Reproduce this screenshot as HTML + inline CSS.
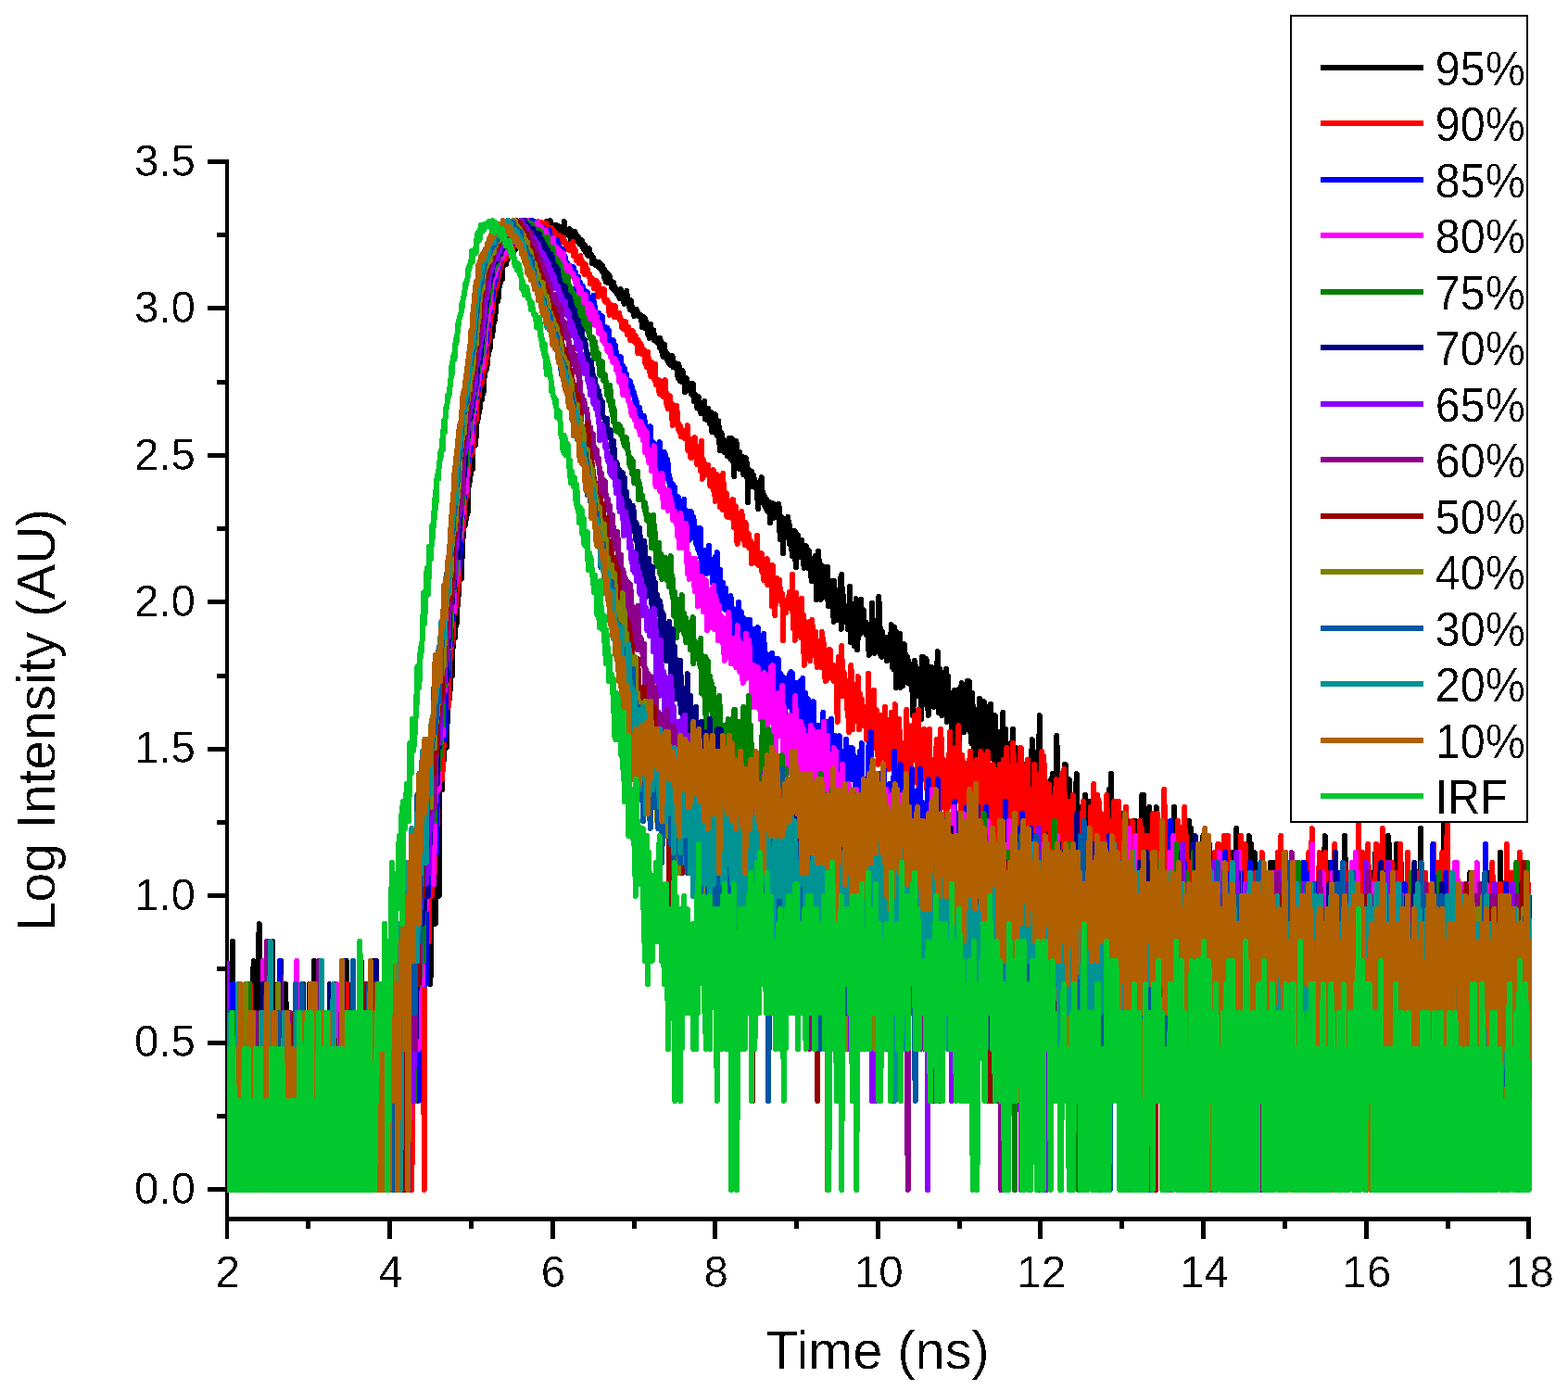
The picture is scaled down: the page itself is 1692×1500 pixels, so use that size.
<!DOCTYPE html>
<html><head><meta charset="utf-8"><title>Log Intensity vs Time</title>
<style>html,body{margin:0;padding:0;background:#fff;}svg{display:block;}</style></head>
<body><svg xmlns="http://www.w3.org/2000/svg" width="1692" height="1500" viewBox="0 0 1692 1500">
<defs><filter id="bin" x="-5%" y="-5%" width="110%" height="110%"><feComponentTransfer><feFuncA type="discrete" tableValues="0 0 1"/></feComponentTransfer></filter></defs>
<rect width="1692" height="1500" fill="#fff"/>
<rect x="243" y="172" width="4" height="1165" fill="#000"/>
<rect x="243" y="1313" width="1409" height="5" fill="#000"/>
<rect x="224" y="1281" width="20" height="5" fill="#000"/>
<text x="211" y="1298.7" text-anchor="end" font-size="47.5" font-family="Liberation Sans, Arial, sans-serif" filter="url(#bin)">0.0</text>
<rect x="224" y="1123" width="20" height="5" fill="#000"/>
<text x="211" y="1140.3" text-anchor="end" font-size="47.5" font-family="Liberation Sans, Arial, sans-serif" filter="url(#bin)">0.5</text>
<rect x="224" y="964" width="20" height="5" fill="#000"/>
<text x="211" y="981.8" text-anchor="end" font-size="47.5" font-family="Liberation Sans, Arial, sans-serif" filter="url(#bin)">1.0</text>
<rect x="224" y="806" width="20" height="5" fill="#000"/>
<text x="211" y="823.4" text-anchor="end" font-size="47.5" font-family="Liberation Sans, Arial, sans-serif" filter="url(#bin)">1.5</text>
<rect x="224" y="647" width="20" height="5" fill="#000"/>
<text x="211" y="665.0" text-anchor="end" font-size="47.5" font-family="Liberation Sans, Arial, sans-serif" filter="url(#bin)">2.0</text>
<rect x="224" y="489" width="20" height="5" fill="#000"/>
<text x="211" y="506.6" text-anchor="end" font-size="47.5" font-family="Liberation Sans, Arial, sans-serif" filter="url(#bin)">2.5</text>
<rect x="224" y="330" width="20" height="5" fill="#000"/>
<text x="211" y="348.1" text-anchor="end" font-size="47.5" font-family="Liberation Sans, Arial, sans-serif" filter="url(#bin)">3.0</text>
<rect x="224" y="172" width="20" height="5" fill="#000"/>
<text x="211" y="189.7" text-anchor="end" font-size="47.5" font-family="Liberation Sans, Arial, sans-serif" filter="url(#bin)">3.5</text>
<rect x="234" y="1202" width="10" height="5" fill="#000"/>
<rect x="234" y="1043" width="10" height="5" fill="#000"/>
<rect x="234" y="885" width="10" height="5" fill="#000"/>
<rect x="234" y="727" width="10" height="5" fill="#000"/>
<rect x="234" y="568" width="10" height="5" fill="#000"/>
<rect x="234" y="410" width="10" height="5" fill="#000"/>
<rect x="234" y="251" width="10" height="5" fill="#000"/>
<text x="245.8" y="1388.5" text-anchor="middle" font-size="47.5" font-family="Liberation Sans, Arial, sans-serif" filter="url(#bin)">2</text>
<rect x="418" y="1316" width="5" height="21" fill="#000"/>
<text x="421.4" y="1388.5" text-anchor="middle" font-size="47.5" font-family="Liberation Sans, Arial, sans-serif" filter="url(#bin)">4</text>
<rect x="594" y="1316" width="5" height="21" fill="#000"/>
<text x="597.0" y="1388.5" text-anchor="middle" font-size="47.5" font-family="Liberation Sans, Arial, sans-serif" filter="url(#bin)">6</text>
<rect x="769" y="1316" width="5" height="21" fill="#000"/>
<text x="772.6" y="1388.5" text-anchor="middle" font-size="47.5" font-family="Liberation Sans, Arial, sans-serif" filter="url(#bin)">8</text>
<rect x="945" y="1316" width="5" height="21" fill="#000"/>
<text x="948.2" y="1388.5" text-anchor="middle" font-size="47.5" font-family="Liberation Sans, Arial, sans-serif" filter="url(#bin)">10</text>
<rect x="1120" y="1316" width="5" height="21" fill="#000"/>
<text x="1123.8" y="1388.5" text-anchor="middle" font-size="47.5" font-family="Liberation Sans, Arial, sans-serif" filter="url(#bin)">12</text>
<rect x="1296" y="1316" width="5" height="21" fill="#000"/>
<text x="1299.4" y="1388.5" text-anchor="middle" font-size="47.5" font-family="Liberation Sans, Arial, sans-serif" filter="url(#bin)">14</text>
<rect x="1472" y="1316" width="5" height="21" fill="#000"/>
<text x="1475.0" y="1388.5" text-anchor="middle" font-size="47.5" font-family="Liberation Sans, Arial, sans-serif" filter="url(#bin)">16</text>
<rect x="1647" y="1316" width="5" height="21" fill="#000"/>
<text x="1650.6" y="1388.5" text-anchor="middle" font-size="47.5" font-family="Liberation Sans, Arial, sans-serif" filter="url(#bin)">18</text>
<rect x="330" y="1316" width="5" height="10" fill="#000"/>
<rect x="506" y="1316" width="5" height="10" fill="#000"/>
<rect x="682" y="1316" width="5" height="10" fill="#000"/>
<rect x="857" y="1316" width="5" height="10" fill="#000"/>
<rect x="1033" y="1316" width="5" height="10" fill="#000"/>
<rect x="1208" y="1316" width="5" height="10" fill="#000"/>
<rect x="1384" y="1316" width="5" height="10" fill="#000"/>
<rect x="1560" y="1316" width="5" height="10" fill="#000"/>
<text x="947" y="1477" text-anchor="middle" font-size="57.7" font-family="Liberation Sans, Arial, sans-serif" filter="url(#bin)">Time (ns)</text>
<text transform="translate(59,777) rotate(-90)" text-anchor="middle" font-size="57" font-family="Liberation Sans, Arial, sans-serif" filter="url(#bin)">Log Intensity (AU)</text>
<defs><clipPath id="pc"><rect x="245" y="0" width="1420" height="1300"/></clipPath></defs>
<g clip-path="url(#pc)"><g transform="translate(245,0) scale(0.666667,1)" fill="none" stroke-width="6" stroke-linejoin="round" shape-rendering="crispEdges">
<path vector-effect="non-scaling-stroke" d="M0 1284l1-152 1 56 1-95 1 39 1 56 1 96 1-152 1 152 1-268 1 116 1 0 1 152 1 0 1-96 1 0 1 96 1-96 1 96 1 0 1-96 1 0 1-56 1 56 1 96 1-152 1 56 1-56 1 152 1-152 1 0 1 152 1-96 1-56 1 152 1 0 1-152 1 56 1 0 1 0 1 96 1-96 1-126 1-25 1 95 1 152 1 0 1 0 1-191 1 95 1 96 1-247 1-40 1 287 1 0 1 0 1 0 1-191 1 95 1 96 1-152 1 0 1 152 1 0 1 0 1 0 1-152 1 152 1-96 1-95 1-56 1 151 1 0 1 0 1-172 1 172 1-56 1 56 1 96 1-191 1 191 1-191 1 95 1 96 1-96 1 0 1 96 1-247 1 247 1-96 1 0 1 0 1 0 1-56 1-39 1-31 1 70 1 152 1-96 1 0 1-56 1 56 1 96 1-96 1-56 1 152 1 0 1-152 1 152 1 0 1-96 1-56 1 56 1 96 1-191 1 39 1 0 1 152 1 0 1 0 1-96 1-95 1 191 1-222 1 70 1 152 1-96 1-95 1 191 1 0 1-96 1 0 1 96 1-222 1 126 1-56 1 152 1-152 1-39 1 39 1 56 1-151 1 151 1 0 1-56 1-39 1 95 1 0 1 0 1-95 1 191 1-96 1 0 1-56 1 152 1-191 1 191 1-191 1 39 1 152 1 0 1-191 1 95 1 96 1-152 1 56 1-56 1 56 1-56 1 56 1 96 1-152 1 0 1 0 1 0 1 152 1 0 1-96 1-56 1 152 1-152 1 152 1-96 1 0 1 96 1 0 1-222 1 126 1 96 1-152 1 152 1-96 1 96 1-247 1 247 1 0 1-96 1-56 1 56 1-56 1 152 1-96 1-126 1 126 1-56 1 56 1 96 1 0 1-152 1 152 1 0 1-152 1 152 1-152 1-39 1 191 1 0 1-247 1 95 1 0 1 56 1-95 1 191 1 0 1-152 1 0 1 152 1 0 1 0 1-96 1 0 1 0 1-56 1 56 1 0 1 0 1 0 1 0 1-151 1 151 1-56 1-39 1 39 1-39 1 191 1-96 1 96 1-152 1-39 1 191 1-96 1-126 1 126 1-56 1 152 1-152 1 152 1 0 1-152 1 56 1-56 1 0 1-70 1 126 1-56 1-39 1 191 1-191 1 191 1-191 1 0 1-31 1 222 1-191 1 95 1-56 1 0 1-39 1 191 1-152 1 56 1 96 1-191 1 39 1 152 1-191 1 191 1-152 1 152 1-96 1-126 1-25 1 247 1-268 1-19 1 65 1 0 1 31 1 39 1 56 1 0 1-56 1 56 1 0 1-95 1 0 1 95 1-56 1 0 1-116 1 0 1 46 1-25 1-21 1 46 1-81 1 35 1 0 1-62 1 178 1-95 1-40 1-30 1 30 1-16 1 0 1-14 1 0 1 0 1 95 1-25 1-135 1-24 1 103 1-14 1-47 1-49 1 126 1-95 1-37 1 21 1-28 1 13 1 96 1-156 1 14 1-38 1 38 1 27 1-37 1-13 1 18 1-22 1-4 1-7 1 20 1-44 1 16 1-52 1 33 1-15 1 0 1-50 1 18 1 17 1-27 1-10 1-24 1-2 1 21 1-17 1 4 1-6 1-18 1-27 1 18 1-18 1-3 1-1 1 5 1-18 1-15 1-14 1-5 1-12 1 5 1 0 1-14 1-12 1 15 1-3 1-38 1 10 1-10 1-3 1 1 1-12 1 7 1-22 1-15 1-1 1 2 1 10 1-11 1-14 1 0 1-4 1-9 1 3 1-5 1-8 1-3 1-9 1 10 1-14 1 6 1-13 1-7 1-5 1 1 1 0 1-5 1-7 1-7 1-5 1 3 1-5 1-13 1 4 1-1 1-5 1-6 1-8 1 2 1-4 1-11 1-8 1-5 1 8 1-4 1-9 1-8 1-5 1 5 1-3 1 0 1-12 1-7 1 4 1-6 1 3 1-2 1 3 1-7 1 1 1 0 1-5 1-3 1 2 1-5 1 8 1-10 1 0 1 8 1-9 1-6 1 6 1 4 1-9 1 7 1-3 1 1 1-6 1 7 1-4 1-2 1 4 1-1 1-8 1-1 1 0 1 2 1 1 1 2 1-7 1-4 1 5 1-3 1 5 1-4 1-3 1 1 1 3 1 1 1-5 1-2 1 1 1-2 1 3 1 0 1-3 1-1 1 3 1-3 1-2 1 0 1 2 1 0 1-2 1 5 1-1 1 3 1-4 1 7 1-8 1 3 1 1 1-9 1 3 1 3 1-3 1 5 1-8 1-1 1 1 1 9 1-1 1-3 1 4 1-2 1-3 1 0 1 1 1 3 1-4 1 4 1-3 1 3 1 3 1 2 1-7 1 4 1-2 1 2 1 0 1-1 1-9 1 14 1 0 1-5 1 0 1 4 1-1 1 1 1 0 1-5 1 12 1-1 1 1 1-2 1-2 1-2 1 3 1-6 1 2 1 6 1 2 1-1 1-4 1 4 1 4 1 0 1 0 1 1 1-5 1 7 1-2 1 0 1 6 1-6 1 8 1-4 1 2 1 5 1-1 1 2 1-8 1 3 1 5 1-1 1 0 1 9 1-7 1 3 1 4 1-2 1 0 1 4 1-3 1 0 1 3 1 2 1-2 1-3 1 4 1 4 1 0 1-5 1 8 1 0 1-4 1 10 1-4 1 8 1-10 1 4 1 5 1 2 1-9 1 8 1-5 1 7 1 0 1 5 1-2 1 3 1-7 1 8 1-2 1 3 1-2 1 2 1 4 1-1 1-1 1 5 1 1 1-10 1 9 1-4 1-2 1 2 1 9 1 2 1-6 1-4 1-1 1-3 1 12 1 0 1 0 1 4 1 4 1-1 1-9 1 7 1 5 1 0 1 2 1 3 1-1 1-6 1 4 1-4 1 2 1 4 1 1 1-1 1 1 1 1 1-2 1 6 1 7 1-2 1-9 1 9 1 3 1-10 1 6 1 3 1-3 1 10 1-3 1 6 1 2 1-4 1-11 1 11 1-1 1-2 1-2 1 11 1-6 1 5 1-1 1 4 1-2 1-1 1 4 1-3 1 8 1-10 1 5 1-1 1 11 1 3 1 2 1-1 1-12 1 10 1-3 1 3 1 4 1 3 1-7 1 10 1-1 1-2 1 5 1-1 1-9 1 1 1 11 1-6 1 2 1 5 1-5 1 2 1 0 1 8 1 6 1-15 1 5 1 13 1-10 1 8 1 3 1-12 1 2 1 6 1 0 1 15 1-10 1 2 1-7 1 13 1-4 1-1 1-2 1 2 1 4 1 5 1-11 1 12 1-12 1 6 1 13 1-4 1-3 1 2 1 5 1 7 1-6 1-6 1 10 1 4 1 2 1 2 1-9 1 8 1-2 1-4 1 7 1-13 1 19 1-9 1 0 1 10 1 0 1-12 1 6 1 10 1-1 1-3 1-8 1 21 1-10 1-5 1 5 1 7 1-16 1 12 1 8 1 3 1-12 1-4 1 7 1 16 1 9 1-20 1 6 1-4 1 5 1 2 1 3 1 10 1-1 1-2 1-9 1 2 1 14 1-4 1-6 1-9 1 12 1 10 1-10 1-12 1 4 1 16 1 9 1 12 1-31 1 15 1-22 1 6 1 17 1-6 1 6 1 7 1-18 1 16 1 0 1-11 1 11 1-11 1 19 1-3 1-3 1-5 1-7 1 21 1-15 1 42 1-36 1 5 1 12 1-4 1 3 1-13 1 9 1 7 1-12 1 11 1-7 1 9 1-3 1-2 1 17 1-5 1 16 1-25 1 18 1-13 1-7 1-7 1 12 1 9 1-2 1 10 1-9 1 3 1 10 1-10 1 9 1 5 1-8 1 1 1-3 1 22 1-18 1 12 1-11 1-4 1 10 1 6 1-15 1 11 1-6 1 9 1-6 1 0 1 1 1-9 1 8 1 30 1-1 1-3 1-20 1 6 1 33 1-20 1 0 1-13 1 10 1-4 1 3 1-4 1-11 1 12 1 17 1-20 1 10 1 16 1-8 1 15 1-11 1-7 1-6 1-3 1 30 1 9 1-23 1-4 1-8 1 16 1 8 1-15 1 3 1 5 1-11 1 19 1-6 1 7 1 10 1-16 1-6 1-2 1 12 1 6 1 6 1-10 1-9 1 8 1 9 1 4 1 12 1-21 1 9 1 3 1-6 1 4 1-16 1 24 1 23 1-29 1 14 1-37 1 11 1 0 1 15 1 26 1-37 1 8 1 22 1 3 1-4 1-6 1-15 1-6 1 32 1 2 1-34 1 42 1-19 1-3 1 18 1-23 1 27 1-17 1 9 1 9 1 16 1-44 1 28 1-2 1 4 1 1 1-8 1 19 1-32 1 30 1-14 1-29 1 55 1-59 1 47 1-25 1 5 1 14 1-4 1 14 1-13 1 2 1 7 1 12 1-13 1-5 1-28 1 60 1-29 1-7 1 17 1-2 1-11 1 36 1-43 1 3 1-11 1 28 1 27 1-13 1-6 1-29 1 4 1 27 1-37 1 16 1 11 1 0 1-16 1 22 1-6 1-3 1 13 1-12 1 2 1 12 1 5 1 16 1-33 1 31 1-17 1-6 1-31 1 21 1 12 1 19 1 2 1-12 1-2 1-20 1 8 1-8 1 30 1-57 1 17 1 19 1 27 1-23 1 25 1-27 1 17 1-8 1 16 1-2 1-4 1-13 1 25 1-8 1-10 1 4 1 2 1 0 1 10 1-37 1 23 1 23 1-13 1 15 1-45 1 16 1 23 1 26 1-60 1 17 1 2 1 10 1 14 1-41 1 58 1-20 1 10 1-33 1 41 1-41 1-4 1 4 1 17 1 16 1-5 1-18 1 28 1-24 1 12 1-9 1 6 1 5 1 18 1-18 1 45 1-12 1-25 1-22 1 5 1 9 1 3 1 2 1 19 1-29 1 18 1 5 1-3 1 12 1 22 1-67 1 26 1-26 1 23 1-2 1 30 1-49 1 29 1-27 1 35 1 24 1-27 1 6 1-31 1 28 1-28 1 31 1-9 1-5 1 26 1-26 1-5 1 28 1-30 1 15 1-42 1 54 1 12 1-24 1-23 1 5 1 5 1 40 1-21 1 9 1-20 1 26 1-21 1 3 1-26 1 57 1-13 1-36 1 39 1-21 1 0 1 12 1 0 1 12 1 30 1-48 1 9 1-18 1 34 1-34 1 12 1 19 1 26 1-30 1-9 1 52 1-52 1-21 1 48 1-53 1 29 1 10 1-28 1 42 1-3 1 0 1-39 1 35 1-48 1 28 1 24 1-52 1 52 1 3 1-14 1 26 1-54 1 15 1 35 1 4 1 9 1-24 1 0 1 48 1-10 1-38 1 48 1-69 1-12 1 18 1 48 1 21 1-72 1 3 1 69 1-84 1 37 1-22 1 30 1-36 1 36 1-39 1 3 1 32 1 17 1-8 1-47 1 51 1-28 1 0 1 11 1 26 1-13 1-35 1 99 1-69 1-8 1 13 1 39 1-35 1-21 1 35 1 5 1 5 1-41 1 21 1-46 1 56 1-27 1 9 1-20 1 20 1 18 1-5 1 10 1-19 1 9 1-5 1 0 1-13 1 18 1-9 1-24 1 43 1 0 1-5 1-10 1-8 1 23 1-10 1 45 1-50 1-4 1 19 1 5 1-20 1 31 1 0 1 6 1 13 1 13 1-53 1 21 1 19 1-24 1 24 1 13 1 33 1-40 1-36 1-15 1 0 1 21 1-43 1 27 1 16 1-21 1 38 1-28 1 16 1-5 1 11 1-41 1 67 1-13 1-93 1 93 1-24 1 45 1-40 1 19 1-13 1 13 1 0 1 6 1 0 1 31 1-44 1 44 1-50 1 79 1-53 1 0 1 8 1-45 1 30 1-36 1 43 1 8 1-40 1 48 1-8 1-28 1-64 1 36 1 81 1-17 1-36 1 13 1-13 1 13 1-19 1 68 1 11 1-60 1-36 1-10 1 0 1 40 1 13 1-7 1-30 1 53 1-53 1 53 1-8 1 25 1-46 1 46 1-25 1-8 1 8 1 45 1-45 1-15 1-36 1 11 1 85 1-60 1 7 1 64 1-71 1 71 1-56 1 8 1 87 1-95 1 45 1-11 1-62 1 7 1 37 1-16 1 16 1 0 1-37 1 0 1 66 1 0 1-66 1 46 1-9 1 0 1-8 1 26 1-9 1-40 1 60 1-60 1 7 1 53 1 85 1-74 1 12 1 0 1-68 1 25 1 56 1-73 1 73 1-56 1 70 1-39 1 12 1-43 1-40 1 126 1-77 1-68 1 26 1 33 1-76 1 85 1 0 1 47 1-56 1 43 1 13 1-56 1-25 1 8 1-23 1 40 1 31 1 0 1 39 1-70 1 43 1-76 1 76 1 62 1-105 1 105 1-62 1-23 1-60 1 15 1 0 1 8 1 73 1-73 1 26 1 61 1-70 1-17 1 26 1 22 1 12 1-34 1 0 1-34 1 34 1 11 1 11 1 0 1 55 1-77 1-18 1 135 1-135 1 0 1-44 1 62 1 47 1-109 1 73 1 23 1-60 1 26 1-18 1 29 1 23 1 27 1-110 1 191 1-142 1 61 1-14 1 95 1-131 1 0 1 66 1-77 1-26 1-23 1 60 1 0 1 131 1-131 1-29 1 135 1-95 1 39 1-95 1 81 1 30 1-86 1 43 1-12 1-11 1-37 1 60 1-34 1 61 1 56 1-83 1 13 1-13 1-34 1 0 1 22 1-31 1-17 1-23 1 83 1-12 1-22 1 34 1-12 1-31 1 105 1-35 1 56 1-126 1 0 1 126 1-95 1 25 1-47 1 61 1-70 1 20 1-11 1 11 1 50 1-14 1 49 1-130 1 95 1 0 1-87 1 103 1-66 1 50 1 35 1-19 1-16 1-61 1 22 1 0 1 25 1 30 1-86 1 56 1 30 1-43 1-23 1 23 1-34 1 96 1-114 1 65 1-13 1 0 1 0 1 0 1 43 1 65 1-95 1 30 1-86 1 31 1 55 1 0 1 0 1 19 1-49 1 14 1 81 1-46 1 21 1-106 1 23 1 27 1-50 1 0 1 36 1 30 1 40 1-95 1 39 1-50 1-11 1 47 1 30 1-77 1 47 1 14 1-14 1-13 1 0 1 13 1 0 1 30 1 19 1-96 1 11 1 36 1 49 1-49 1-47 1 61 1 35 1-85 1-37 1 122 1-35 1 16 1-55 1 95 1-95 1 95 1-56 1-14 1 70 1-40 1-16 1 35 1 77 1-162 1 11 1 120 1-95 1 30 1-95 1 52 1 13 1 0 1-56 1 221 1-212 1 96 1 46 1-142 1 34 1 43 1-30 1 70 1-70 1 70 1-83 1 62 1-49 1 30 1 19 1-35 1 16 1-30 1-13 1 43 1-43 1 83 1 0 1 0 1-95 1 74 1-49 1-25 1 55 1-66 1 50 1 0 1 16 1 0 1-66 1 50 1 81 1-81 1 35 1 0 1 21 1-21 1-19 1 40 1 56 1-112 1 0 1-14 1 0 1 30 1 40 1 56 1-126 1 70 1-21 1-19 1 0 1-16 1 56 1-95 1 190 1-190 1 190 1-190 1 120 1-46 1-62 1 0 1 43 1-55 1 39 1 16 1-43 1 27 1-39 1 190 1-135 1-43 1 27 1 16 1-16 1 16 1 40 1-95 1 55 1 40 1 0 1-95 1 55 1-16 1 151 1-135 1-43 1 13 1 70 1-117 1 47 1 14 1 56 1-70 1 30 1 19 1-35 1 81 1 31 1-126 1 95 1-95 1 221 1-207 1 56 1-83 1 108 1-81 1-14 1 0 1-13 1-52 1 18 1 96 1-62 1 139 1-162 1 66 1-66 1 85 1-35 1 35 1 21 1-83 1 27 1-39 1 95 1-70 1 30 1 0 1-16 1 16 1-43 1 62 1-49 1 0 1 126 1-112 1 35 1 46 1-46 1 46 1-108 1-52 1 29 1 50 1-14 1 14 1 35 1-49 1 49 1-19 1-43 1 83 1-70 1 0 1 49 1 21 1-70 1 70 1-21 1-49 1-13 1 139 1 39 1-190 1 95 1-40 1-16 1 56 1-83 1 0 1 43 1-55 1 12 1 27 1 16 1 40 1-70 1-13 1 13 1 14 1 56 1-70 1-13 1 83 1 0 1-70 1-13 1 234 1-207 1-14 1-36 1-11 1 61 1 151 1-178 1 43 1 40 1-70 1 49 1-49 1 49 1 21 1 0 1-70 1 126 1-96 1 135 1-135 1 19 1-62 1 83 1-135 1 230 1-221 1 70 1-39 1 39 1 81 1-65 1 65 1-108 1 27 1 35 1 46 1 31 1-182 1 70 1 35 1 21 1-21 1 46 1-81 1-50 1 85 1-19 1 40 1 0 1-21 1-19 1-16 1 0 1 112 1-77 1 116 1-135 1-30 1-13 1 13 1 95 1 31 1-31 1-108 1 43 1 40 1-40 1 135 1-70 1 0 1-108 1 108 1-65 1 65 1-25 1-83 1-60 1 60 1 83 1 56 1-96 1 191 1-191 1 19 1 21 1 56 1-139 1 62 1-35 1 35 1-49 1 221 1-126 1 31 1-31 1-25 1-21 1 21 1 0 1-21 1-49 1 30 1 96 1-126 1 30 1 0 1 65 1 0 1-65 1-16 1 56 1 56 1-96 1-43 1-68 1 130 1-19 1-16 1 0 1 35 1 77 1-112 1-27 1 139 1 39 1-95 1 25 1-46 1-19 1 0 1 0 1 135 1-39 1-112 1 0 1 151 1-39 1 39 1-135 1 19 1-62 1 62 1 46 1 126 1-126 1-65 1 135 1-95 1-40 1 96 1-96 1 65 1-46 1 116 1-116 1 77 1-151 1 39 1 16 1 19 1-19 1 19 1 0 1 21 1 56 1 0 1-96 1 65 1-25 1-70 1-13 1 13 1-13 1 62 1 116 1-135 1-16 1 81 1-81 1 16 1 0 1 40 1-21 1-74 1 151 1-151 1 39 1 56 1 56 1-96 1 96 1-112 1 56 1-40 1 65 1-95 1 95 1-25 1 56 1-96 1 0 1 40 1 95 1-116 1 21 1-117 1 96 1 46 1-25 1-70 1 70 1-56 1-27 1 62 1-35 1 56 1 0 1-21 1 0 1 21 1-95 1 246 1-95 1-126 1 14 1 0 1 0 1 35 1-62 1 0 1 83 1 0 1-106 1 50 1 81 1 0 1-142 1 77 1-55 1 95 1 25 1-120 1 74 1 46 1 0 1-46 1-49 1 14 1 56 1 25 1-25 1-70 1 49" stroke="#000000"/>
<path vector-effect="non-scaling-stroke" d="M0 1284l1 0 1 0 1 0 1-191 1 0 1 95 1 96 1 0 1 0 1 0 1-152 1 152 1-152 1 56 1 0 1-95 1 191 1-96 1 96 1-96 1 0 1-56 1 152 1-96 1-95 1 191 1 0 1-152 1 152 1-96 1-95 1 0 1 191 1 0 1 0 1 0 1-222 1 222 1 0 1 0 1-96 1 96 1 0 1-96 1 0 1 96 1 0 1-191 1 95 1 96 1 0 1-96 1 96 1 0 1-152 1 152 1-96 1 96 1 0 1 0 1-152 1 152 1 0 1-191 1 191 1-96 1 96 1 0 1-152 1-39 1 39 1 152 1 0 1-96 1 96 1-152 1 152 1-152 1-39 1 95 1 96 1-152 1 56 1-95 1 191 1-247 1 56 1 95 1 96 1-152 1 152 1-96 1 96 1 0 1 0 1-96 1 96 1 0 1-96 1 0 1-95 1 95 1 0 1 96 1-152 1 0 1 56 1-56 1 152 1 0 1-96 1 0 1 96 1-96 1-56 1 152 1-96 1 96 1-96 1-95 1 191 1 0 1-96 1 96 1 0 1 0 1 0 1 0 1-96 1 96 1-96 1 96 1 0 1 0 1-96 1 96 1 0 1 0 1-96 1 96 1-222 1 31 1 191 1 0 1 0 1-152 1 56 1 0 1 96 1-191 1 191 1-152 1 0 1 56 1 0 1 0 1 96 1 0 1-96 1 96 1-152 1 152 1 0 1-96 1 96 1-96 1-56 1 56 1 96 1-96 1 96 1 0 1 0 1-152 1 152 1-152 1 152 1-152 1 152 1-96 1 0 1-95 1 191 1-96 1 0 1 0 1 96 1-96 1 96 1 0 1 0 1-152 1 152 1-222 1 222 1 0 1 0 1-152 1-39 1 191 1-96 1 96 1-96 1 96 1-96 1 96 1 0 1 0 1-96 1 0 1 96 1-96 1-56 1 152 1 0 1 0 1-222 1 31 1 191 1 0 1-152 1 152 1-96 1 0 1 96 1-96 1-56 1 152 1 0 1 0 1-96 1 0 1 96 1-152 1 56 1 0 1 96 1 0 1 0 1-96 1 0 1 96 1 0 1-96 1 96 1 0 1 0 1 0 1-96 1 96 1-152 1-39 1 191 1-96 1 96 1-152 1 152 1-96 1 96 1-152 1 56 1-95 1 191 1 0 1 0 1-96 1 0 1 96 1 0 1 0 1 0 1-96 1 0 1 96 1 0 1-152 1-95 1 247 1-191 1 95 1-126 1 70 1 152 1-191 1 95 1-151 1 151 1 0 1-151 1 151 1-126 1-25 1 95 1-70 1 126 1 0 1-126 1 70 1 152 1-96 1-95 1-31 1-25 1 25 1 126 1-126 1-25 1 0 1-21 1 46 1-46 1-49 1 49 1 21 1 25 1-65 1 65 1-108 1 330 1-247 1-40 1-77 1 61 1-50 1 23 1 0 1 62 1-130 1 45 1-45 1 81 1-13 1-76 1-32 1 32 1 64 1-64 1-26 1 59 1-25 1-21 1-50 1 37 1-62 1 17 1 8 1-4 1 30 1-11 1-19 1-13 1-26 1-3 1 3 1-18 1 6 1-18 1 21 1-45 1 12 1-23 1-4 1-4 1-4 1-42 1 33 1-32 1-7 1 14 1-13 1 6 1-41 1 24 1-31 1 21 1-29 1 3 1-14 1-2 1-16 1 3 1-14 1 13 1-36 1 6 1-10 1 2 1 3 1-21 1-6 1-6 1-3 1-24 1 15 1-8 1-9 1 15 1-30 1 21 1-28 1-2 1 1 1 3 1-17 1-5 1-6 1 2 1-1 1-20 1 9 1-14 1 12 1-8 1-3 1-20 1 17 1-11 1-1 1 4 1-15 1-4 1-2 1-4 1-1 1-12 1-9 1-4 1 0 1-7 1-1 1-10 1-8 1-3 1 0 1-1 1-6 1 4 1-11 1-5 1 5 1-12 1 2 1 1 1-3 1-3 1-10 1 4 1 3 1 0 1-1 1-9 1 7 1-6 1 0 1 4 1 1 1-5 1-10 1 6 1 1 1-7 1 7 1-8 1-1 1-7 1 7 1-6 1 3 1-1 1-1 1 3 1-3 1-9 1 8 1-9 1 8 1-3 1 2 1-6 1 2 1 1 1-1 1 3 1-3 1-4 1 5 1-4 1-2 1 6 1-8 1 4 1-6 1 6 1-6 1 4 1-3 1 6 1-3 1-1 1 6 1 1 1-5 1-4 1 7 1 2 1-5 1 4 1-7 1 5 1-5 1 6 1 2 1-4 1-3 1 1 1 6 1-7 1 5 1 2 1-3 1 5 1-2 1 0 1-1 1-1 1 4 1 0 1-1 1 5 1-1 1-3 1 5 1 0 1 3 1-4 1 1 1-1 1 1 1 3 1 4 1-2 1-2 1 3 1-5 1 1 1 5 1-1 1 2 1 1 1 3 1 2 1-5 1 1 1 1 1 4 1 0 1-7 1 7 1 0 1-9 1 15 1-1 1-6 1 3 1 9 1-2 1-2 1 2 1 4 1 1 1-7 1-1 1 7 1 1 1-2 1 11 1-7 1 7 1 3 1-11 1 9 1-2 1-2 1 5 1 3 1 0 1-2 1 10 1-6 1 0 1 1 1 4 1-1 1 7 1 0 1-5 1-3 1 0 1 4 1 13 1-14 1 5 1 1 1 0 1 0 1 1 1 2 1-2 1 7 1-8 1 12 1 1 1 1 1 0 1-2 1 1 1 2 1 3 1 10 1-11 1 4 1-4 1 7 1 2 1-1 1-1 1 6 1-12 1 8 1 4 1-4 1 2 1 2 1-3 1-1 1 7 1-1 1 1 1 8 1-2 1 0 1 4 1-4 1-2 1-2 1 5 1 6 1 3 1-7 1-1 1 5 1 6 1 3 1-7 1-3 1 4 1-4 1 8 1 4 1-3 1-4 1 8 1 1 1-1 1 11 1-14 1 5 1 8 1-9 1 1 1 3 1 7 1-2 1-3 1 1 1 6 1 8 1 0 1 4 1 0 1-16 1 12 1-5 1 14 1-4 1 9 1-15 1 13 1-9 1 10 1-6 1 11 1-17 1 22 1-4 1 1 1 3 1-5 1 8 1 7 1-12 1-2 1 13 1 3 1 0 1 1 1-3 1-7 1-8 1 8 1 16 1 4 1-3 1 6 1-14 1 7 1-7 1 14 1-6 1 1 1 23 1-18 1 4 1-6 1 7 1 9 1-4 1-13 1 21 1-3 1 8 1-5 1 8 1-7 1 11 1-8 1 4 1 0 1 2 1 4 1-2 1-3 1 3 1 0 1-12 1 27 1-8 1-4 1 5 1 14 1-19 1 20 1-6 1-4 1 3 1-9 1-6 1 9 1 10 1-10 1 20 1-8 1-5 1 7 1-3 1 16 1-14 1-18 1 41 1-22 1 3 1 1 1 5 1 9 1-6 1-5 1 8 1-3 1-5 1 10 1-2 1 14 1-6 1-6 1-1 1 15 1-19 1 23 1-12 1 23 1-21 1-4 1-4 1 15 1-4 1-5 1 18 1 11 1-13 1 7 1-13 1 22 1-39 1 32 1-8 1 7 1 7 1-17 1 25 1-6 1-3 1 10 1-7 1-10 1 11 1 6 1-11 1-6 1-2 1 30 1-7 1-12 1-4 1 18 1 17 1 6 1-26 1 9 1-1 1-1 1 10 1-13 1-13 1 9 1 2 1 20 1-11 1 16 1-24 1 3 1 14 1 6 1-6 1-5 1 15 1-8 1 0 1 5 1 20 1-14 1-4 1 11 1-9 1 12 1-1 1 4 1-21 1-8 1 29 1 3 1 0 1-11 1 11 1-6 1-7 1 20 1 1 1-11 1 19 1-21 1 6 1 8 1-15 1-1 1 28 1-10 1-3 1 3 1-11 1 8 1 6 1 30 1-44 1 22 1-6 1 7 1 31 1-36 1-4 1 0 1 7 1 12 1 5 1-22 1 9 1 5 1 6 1-6 1 2 1 49 1-38 1 0 1-5 1 5 1 8 1-8 1-6 1 8 1-4 1-12 1 16 1-7 1-2 1 11 1-37 1 54 1 5 1-32 1 44 1-19 1-32 1 15 1-2 1 13 1-13 1 31 1-34 1 22 1 16 1-42 1 36 1-10 1-8 1 54 1-38 1-9 1 3 1 8 1 13 1-13 1-10 1 17 1-18 1 42 1-14 1-8 1-22 1 20 1-5 1 5 1 18 1-21 1-4 1 25 1 13 1-23 1 19 1-9 1-8 1-4 1 25 1-23 1-15 1 7 1 18 1-12 1 14 1 23 1 3 1-17 1 7 1-12 1 19 1-16 1-15 1 0 1 29 1-10 1 5 1 7 1-14 1 17 1 0 1-8 1 3 1 0 1 15 1 34 1-49 1-21 1 18 1 0 1 24 1-11 1-43 1 54 1-3 1-23 1 2 1 18 1 3 1-6 1-7 1 31 1 3 1 7 1 14 1-21 1 0 1-51 1 14 1 40 1 15 1-24 1 13 1-31 1 12 1 19 1-16 1-3 1-27 1 30 1 27 1-39 1 6 1 15 1-15 1 22 1-13 1 20 1-20 1 3 1 0 1 6 1 26 1-8 1-11 1-52 1 52 1 0 1-7 1-12 1 0 1-12 1 46 1-11 1-38 1 57 1 5 1-20 1-21 1 10 1 14 1 35 1-42 1-11 1 48 1-18 1-4 1-26 1 11 1 28 1-28 1 7 1-27 1 67 1-36 1 8 1 9 1-17 1 36 1-28 1-4 1-8 1-21 1 18 1-18 1 46 1-36 1 11 1-30 1 30 1 51 1-47 1 0 1 17 1 35 1-70 1 39 1 0 1 15 1 22 1-50 1 39 1 5 1 0 1-5 1-30 1 14 1-59 1 69 1-20 1-32 1 7 1 30 1 26 1-59 1 28 1-8 1-24 1 19 1 18 1-48 1 43 1-25 1 8 1 13 1 35 1-80 1 80 1 32 1-63 1 26 1-51 1 25 1-8 1 34 1-54 1 7 1 26 1-30 1 40 1 22 1-6 1-21 1 16 1-54 1 43 1 22 1-27 1 10 1-15 1 32 1 13 1-24 1 17 1-51 1 39 1-48 1 17 1 10 1 21 1-31 1 71 1-99 1 11 1 60 1-33 1 0 1-5 1 51 1-46 1 40 1 0 1 37 1-67 1 23 1 13 1-51 1-30 1 30 1 0 1 15 1 17 1-41 1 0 1 41 1 26 1-71 1 58 1-13 1-27 1 10 1-52 1 63 1 19 1-35 1 56 1-45 1-26 1 15 1 48 1-7 1-25 1-5 1 11 1 42 1-69 1 27 1-27 1-5 1 38 1-47 1 24 1-5 1 16 1-21 1 33 1-28 1 22 1 0 1 42 1-74 1 26 1-21 1 21 1 96 1-84 1 13 1-60 1 35 1 0 1 48 1-59 1-20 1 79 1-79 1 26 1-11 1 35 1-54 1 83 1-64 1 41 1-13 1 7 1-19 1 65 1-59 1-27 1 40 1 13 1-48 1 72 1-24 1 33 1-33 1-13 1-7 1-17 1-16 1 77 1 0 1-77 1 95 1-62 1-38 1 32 1-27 1 27 1-11 1-34 1 64 1 60 1-101 1 41 1-13 1 0 1 7 1 116 1-87 1-92 1 44 1-31 1 87 1-44 1-23 1 76 1 43 1-60 1-23 1-46 1 16 1-34 1 0 1 28 1-10 1 40 1 21 1 95 1-70 1-53 1 0 1 20 1 0 1-58 1 74 1-16 1 0 1 24 1 40 1-11 1-79 1 19 1 31 1-50 1-27 1 69 1 8 1-37 1 21 1-34 1 42 1-36 1-12 1-11 1 30 1-7 1-47 1 109 1-105 1 96 1-86 1 21 1 25 1-6 1-13 1 42 1-36 1-12 1 40 1 25 1-40 1 40 1 31 1-22 1-55 1 29 1 48 1-84 1 13 1-30 1 61 1 9 1-46 1 13 1 0 1 33 1-46 1-13 1-17 1 119 1-83 1 49 1-90 1 90 1-34 1-15 1 40 1-40 1 23 1-29 1 55 1-18 1 40 1-31 1 86 1-86 1-53 1 44 1 18 1 11 1-11 1-18 1-16 1-8 1 42 1 34 1-34 1 22 1-22 1-9 1-33 1 16 1 8 1-37 1 37 1 79 1-39 1-22 1 0 1-26 1 60 1-12 1-22 1 22 1 25 1-96 1 15 1 56 1 0 1-31 1-65 1 85 1 23 1-43 1-25 1 45 1-73 1 13 1-6 1 89 1-76 1 42 1-42 1 16 1 17 1 9 1-34 1 56 1-22 1 34 1-52 1-44 1 53 1-25 1 45 1 36 1-36 1-29 1-16 1 25 1 31 1-11 1 11 1-77 1 66 1-20 1-46 1 89 1-76 1-7 1-6 1 55 1-9 1 86 1-77 1-34 1 130 1-96 1 61 1-50 1 23 1 13 1-96 1 96 1 70 1-83 1-60 1 17 1 31 1-22 1 34 1-12 1-56 1 56 1-22 1 0 1 47 1-36 1-29 1 29 1-29 1 40 1 74 1-74 1 12 1-68 1 95 1 56 1-143 1 87 1-70 1 56 1 0 1-47 1-18 1 29 1-29 1 95 1-43 1 43 1-95 1 18 1 61 1 0 1 35 1-19 1-119 1 24 1 79 1-95 1 81 1-36 1 36 1-89 1 53 1-29 1 65 1-65 1 79 1-79 1 114 1-105 1 43 1 83 1-185 1 59 1 31 1 25 1 14 1-14 1 30 1-95 1 95 1-77 1 34 1-12 1 12 1-52 1 40 1-11 1-29 1 52 1-12 1 12 1 13 1-13 1-68 1 130 1-49 1-36 1 23 1 43 1 0 1 0 1-30 1-36 1-53 1-7 1 83 1-52 1 0 1 95 1 0 1-30 1 49 1-74 1 12 1-23 1 85 1-19 1-55 1 39 1-50 1 85 1 0 1-74 1 39 1-14 1 14 1-14 1-13 1 83 1-117 1 77 1 65 1-95 1-25 1 39 1-79 1 160 1-160 1 52 1 13 1-13 1 27 1-39 1 39 1 56 1-56 1-50 1 11 1 0 1 74 1-49 1 14 1 35 1-96 1 77 1-30 1-13 1-23 1-20 1 0 1 0 1 43 1 27 1 0 1-39 1-11 1 0 1 11 1-40 1 79 1 56 1-106 1-20 1 182 1-191 1 29 1 11 1-11 1 66 1-16 1-50 1 11 1 25 1-25 1 74 1 46 1-81 1-50 1 36 1-13 1-12 1 12 1 27 1-14 1 0 1-65 1 114 1-19 1 40 1-106 1 23 1 13 1-56 1 151 1-95 1 95 1-120 1 74 1-62 1 62 1-35 1-14 1 30 1 40 1 25 1-46 1-19 1-43 1 108 1-120 1 25 1 95 1-65 1 65 1-65 1-55 1 55 1 0 1-30 1-47 1 22 1 12 1 62 1 0 1-62 1 108 1-65 1-16 1-27 1 83 1 0 1 25 1 31 1-31 1-95 1 14 1-27 1 27 1 112 1-126 1-13 1 27 1-39 1 12 1 139 1-173 1 96 1-35 1 35 1 21 1-135 1 160 1-65 1-66 1 50 1 81 1-65 1-77 1 61 1 35 1-85 1 66 1-43 1 83 1-95 1 25 1 70 1-56 1-14 1-36 1 131 1-81 1 81 1 0 1-65 1 19 1-74 1 151 1-77 1-19 1-55 1 0 1 151 1-112 1 56 1-40 1 19 1 21 1 0 1-21 1-49 1 70 1 25 1-81 1 35 1-96 1 96 1-74 1 95 1-83 1-60 1 60 1 43 1 0 1 0 1-43 1 13 1 70 1 25 1-81 1-14 1 14 1-61 1 47 1 0 1 30 1-16 1 35 1-19 1 0 1 19 1-49 1-47 1 77 1 0 1-16 1-39 1 55 1-43 1 139 1-31 1-108 1 13 1-36 1 106 1-56 1 35 1-105 1 86 1 19 1-35 1 0 1 35 1-49 1 70 1-40 1-30 1 30 1 40 1 0 1 0 1-106 1 106 1-70 1 0 1 30 1 287 1-317 1 95 1-120 1 55 1 65 1-46 1-19 1 0 1-30 1 70 1-21 1 77 1-77 1 77 1-151 1 95 1 25 1 31 1-126 1-81 1 207 1-56 1-56 1 0 1 56 1-117 1 96 1 21 1-83 1 27 1 56 1-56 1 0 1 16 1-86 1 86 1-43 1 13 1 0 1 95 1-81 1 35 1 21 1 95 1-165 1-25 1 74 1-105 1 0 1 151 1-25 1-40 1-16 1-39 1 95 1-83 1 178 1-238 1 199 1-96 1 96 1-56 1-83 1 27 1-50 1 85 1-35 1 35 1-85 1 66 1 19 1 21 1-56 1-50 1 131 1-81 1-27 1 234 1-126 1-65 1 19 1-74 1 74 1-35 1 16 1 65 1-151 1 221 1-178 1 43 1 0 1 65 1-25 1-83 1 83 1-40 1 19 1 0 1-96 1 173 1-56 1 56 1-112 1 151 1-165 1 126 1-31 1-95 1 14 1 56 1 95 1-70 1-65 1 96 1-96 1-55 1 39 1 207 1-172 1 46 1-95 1 70 1 95 1-165 1 0 1 30 1 19 1-74 1 39 1 56 1 25 1-46 1 21 1-21 1-19 1 19 1 116 1-70 1-120 1 120 1-151 1 221 1-151 1 16 1 40 1 25 1 0 1-131 1 201 1-165 1-13 1 0 1 108 1 31 1-173 1 77 1 19 1-62 1 108 1-142 1 96 1-62 1-68 1 176 1-65 1 19 1 77 1-96 1 0 1 19 1 0 1 46 1-65 1-43 1 27 1 151 1-201 1 106 1-106 1 66 1-16 1 81 1-65 1 96 1-96 1-30 1 49 1-35 1 207 1-191 1-30 1 49 1-62 1 83 1 25 1-81 1 35 1 0 1 116 1-165 1 49 1 21 1-40 1 19 1 46 1 70 1-151 1-39 1 0 1 55 1 19 1 77 1-31 1-46 1 21 1 95 1-165 1 165 1-39 1-96 1 65 1-65 1 40 1 56 1-96 1 40 1 56 1-96 1 40 1-56 1 56 1-70 1 14 1 35 1 77 1-162 1 50 1 0 1 0 1 81 1 70 1-151 1 81 1-25 1 25 1 0 1-25 1 25 1-108 1 62 1 0 1 172 1-172 1-19 1 40 1-70 1 49 1 77 1-182 1 126 1-95 1 151 1 39 1-95 1-21 1-35 1-39 1 55 1 0 1 40 1-40 1-30 1 126 1-151 1 39 1 112 1 0 1-77 1-19 1-77 1 173 1-77 1 0 1-74 1 39 1 81 1-95 1 14 1 56 1-106 1 36 1 49 1 116 1-178 1 108 1 0" stroke="#FF0000"/>
<path vector-effect="non-scaling-stroke" d="M0 1188l1 96 1 0 1 0 1 0 1 0 1 0 1-191 1 191 1-222 1 222 1-191 1 95 1 0 1 0 1 0 1 96 1-96 1 96 1 0 1 0 1-96 1 96 1-96 1 96 1-96 1 0 1-56 1 152 1 0 1-96 1 96 1-96 1 96 1 0 1-96 1 96 1 0 1-96 1 96 1 0 1-96 1 96 1-96 1 0 1 96 1 0 1 0 1 0 1-152 1 152 1-96 1 96 1-191 1 0 1 95 1-56 1 152 1 0 1 0 1-96 1 0 1 96 1-96 1 96 1 0 1-96 1 96 1 0 1 0 1 0 1 0 1-96 1 0 1 0 1 96 1 0 1 0 1 0 1 0 1-152 1 152 1 0 1 0 1 0 1-247 1 151 1 96 1-96 1 96 1 0 1 0 1 0 1-152 1 152 1-152 1 0 1 152 1-152 1 152 1 0 1 0 1 0 1 0 1 0 1-96 1 0 1 96 1-96 1 96 1 0 1-96 1 96 1 0 1 0 1-191 1 95 1 0 1 96 1-96 1 0 1 0 1-95 1 191 1 0 1 0 1 0 1 0 1-191 1 191 1 0 1 0 1 0 1-96 1 96 1 0 1-96 1 96 1 0 1-96 1-56 1 152 1-152 1 152 1-96 1 96 1-96 1 96 1 0 1-152 1 152 1-96 1 96 1 0 1 0 1-152 1 152 1-96 1 0 1 96 1 0 1-96 1 96 1 0 1-96 1 0 1 0 1 96 1 0 1 0 1 0 1-96 1-95 1 191 1-96 1 96 1-222 1 222 1 0 1-191 1 95 1 96 1 0 1-96 1 96 1-96 1 96 1 0 1-247 1 247 1-152 1 152 1-152 1 152 1-96 1 0 1 96 1 0 1 0 1 0 1 0 1 0 1 0 1-96 1-95 1 191 1 0 1-191 1 95 1 0 1 96 1 0 1 0 1-152 1 0 1 152 1 0 1-191 1 39 1 152 1-96 1 96 1 0 1-96 1 96 1-96 1 96 1-96 1 96 1-152 1 152 1-96 1 96 1 0 1-222 1 126 1 96 1 0 1-96 1 96 1-152 1 56 1 96 1 0 1-152 1 56 1 96 1-152 1 56 1-56 1-39 1 39 1 152 1 0 1 0 1 0 1-191 1 0 1 39 1 152 1-96 1-56 1-39 1 191 1-96 1 96 1-96 1 96 1-152 1 152 1 0 1-152 1 56 1 96 1-191 1-31 1 70 1-39 1 39 1-39 1 0 1 0 1 191 1-96 1-95 1-31 1 222 1-191 1 95 1 0 1-95 1-112 1 112 1 95 1 96 1-191 1 95 1-56 1 0 1-39 1 95 1-95 1 39 1-95 1-40 1 65 1-25 1 0 1-21 1 21 1 151 1-151 1-40 1-16 1 81 1-46 1 0 1-35 1 35 1 0 1-19 1-66 1 131 1-120 1-64 1 89 1-81 1-8 1 53 1-79 1-11 1 30 1 15 1-21 1 55 1 22 1-84 1 53 1-53 1 62 1-62 1-28 1-19 1-24 1 3 1 21 1-17 1-22 1 18 1-48 1 34 1 18 1-31 1 35 1-29 1-44 1-16 1 4 1 17 1-55 1 11 1 3 1-12 1 18 1-40 1 12 1 2 1-42 1 28 1-4 1-40 1 15 1-13 1-10 1-5 1 14 1-1 1-12 1-4 1-40 1 6 1-4 1 0 1-28 1 9 1-14 1-14 1 11 1-2 1-12 1-26 1 13 1-1 1-10 1 4 1-22 1-1 1 3 1-20 1 8 1-12 1-13 1 2 1-6 1 1 1 1 1-7 1-5 1-4 1-4 1 0 1-16 1-4 1 7 1-14 1 2 1-11 1 3 1 5 1-16 1 6 1-10 1-6 1-3 1-16 1 4 1-6 1-10 1 1 1-1 1-5 1-14 1 6 1-6 1-6 1 5 1-9 1 1 1-5 1-3 1 2 1-6 1-4 1-1 1 3 1-5 1 0 1-7 1 3 1-5 1 1 1 5 1-3 1-2 1-5 1 6 1 0 1-2 1-1 1-4 1-9 1 9 1-5 1 5 1-3 1 3 1-10 1 3 1-4 1 3 1-4 1 2 1-6 1 2 1 0 1-3 1-5 1 6 1 3 1-6 1 0 1 6 1-6 1 5 1-3 1-3 1 2 1 2 1-3 1 2 1-2 1-5 1 5 1 1 1-6 1 2 1 9 1-8 1-2 1 5 1 3 1-2 1 2 1-5 1 5 1-3 1 0 1 8 1-3 1 6 1-3 1-7 1 8 1-4 1 0 1 4 1-4 1 8 1-4 1 1 1-2 1 1 1-5 1 15 1-1 1-1 1-5 1 6 1 2 1-1 1 1 1 0 1 0 1-3 1-2 1 2 1 7 1 7 1-6 1 3 1-5 1 10 1 4 1-1 1-10 1 7 1-1 1 1 1 3 1 6 1-3 1 4 1 3 1 0 1 0 1-3 1 0 1 6 1 3 1-7 1 3 1-4 1 4 1 5 1-3 1 8 1 13 1-11 1 0 1-5 1 10 1 3 1-7 1 11 1-6 1 6 1-7 1 3 1 8 1-4 1 6 1-7 1 4 1-4 1 8 1 2 1 2 1-1 1-5 1 2 1 5 1-1 1 4 1-12 1 18 1-7 1 7 1 3 1 3 1-4 1 5 1 0 1-6 1 6 1 1 1 5 1-2 1-7 1 12 1 4 1-4 1 6 1 0 1-6 1 1 1 0 1 6 1 2 1-6 1 17 1-2 1 0 1-3 1 7 1 2 1-10 1 8 1 6 1-3 1-5 1 18 1-8 1 1 1 2 1 8 1-2 1-3 1-4 1 7 1 6 1-4 1 8 1 1 1 4 1-9 1 15 1-10 1 6 1 2 1 9 1 3 1 4 1-16 1 15 1-11 1 7 1-4 1 8 1 1 1-3 1 7 1 7 1-7 1 4 1 16 1-5 1 2 1-7 1-1 1 10 1 7 1-7 1 5 1 5 1-1 1-10 1 5 1 5 1 10 1-2 1 8 1-8 1-6 1 6 1 20 1-27 1 18 1 7 1 5 1-13 1 23 1-22 1 5 1 11 1-8 1 5 1-9 1 27 1-23 1 19 1-28 1 30 1-16 1 7 1 3 1 4 1-1 1 13 1-29 1 2 1 10 1 1 1 12 1-17 1 11 1 13 1-7 1 7 1 19 1 4 1-20 1-1 1 6 1 7 1-10 1 5 1 22 1-16 1 3 1-1 1-2 1 8 1 5 1-6 1 5 1 2 1-1 1-5 1 20 1-4 1-21 1 34 1-9 1-4 1-6 1 24 1-26 1 9 1 22 1-22 1 6 1-15 1 18 1-9 1-1 1-2 1 7 1 16 1-9 1 13 1 3 1-18 1 22 1-9 1 12 1 2 1-27 1 32 1 1 1 7 1 9 1-4 1-15 1-6 1 6 1 12 1 7 1-18 1 7 1 8 1-27 1 21 1-7 1 10 1 6 1-15 1 14 1 17 1-18 1 4 1-20 1 25 1-5 1-25 1 30 1 20 1 11 1-6 1-36 1 17 1 1 1 7 1-8 1-3 1 15 1 11 1 3 1-23 1 15 1-3 1-3 1 4 1 23 1-8 1-15 1-5 1 4 1 24 1 20 1-34 1 0 1 15 1-9 1 6 1 5 1 17 1-9 1-7 1-25 1 53 1-29 1 17 1-31 1 1 1 32 1 4 1-30 1 26 1 14 1-33 1 8 1 9 1-22 1 3 1 14 1 39 1-56 1 11 1-1 1 37 1-28 1 15 1-24 1 22 1 6 1-16 1 54 1-13 1-25 1-30 1 26 1 0 1-15 1 34 1 18 1-22 1-27 1 14 1 13 1-34 1 34 1 2 1-15 1 15 1 0 1 5 1-18 1 38 1-32 1 27 1-15 1 2 1-22 1 25 1 12 1-12 1 18 1-32 1 6 1 8 1-19 1 40 1-40 1 24 1 13 1-3 1-18 1 13 1 23 1-33 1 36 1-29 1 32 1 0 1-37 1 25 1 0 1 3 1-15 1 15 1-15 1-18 1 36 1-38 1 7 1-5 1 71 1-8 1-53 1 20 1-3 1-3 1 6 1-20 1 14 1-11 1 32 1 15 1-52 1 28 1 48 1-54 1-25 1 47 1-19 1 38 1-50 1 54 1-19 1 24 1-53 1 15 1 7 1 22 1 4 1-12 1 4 1-31 1 35 1-41 1 50 1-17 1 8 1 22 1-18 1-8 1 26 1-37 1 11 1 21 1-8 1 18 1-27 1 17 1-25 1-21 1 72 1-34 1-17 1 62 1-69 1-4 1 41 1 26 1-56 1 17 1 39 1-21 1-49 1 26 1 13 1 0 1 43 1-33 1-31 1 0 1 47 1-26 1-13 1 33 1 36 1-77 1 52 1-21 1 46 1-60 1 0 1 67 1-37 1 0 1 37 1-13 1-67 1 37 1 17 1-32 1 5 1-18 1 28 1-15 1-5 1 26 1-34 1 4 1 9 1 15 1-10 1 53 1-58 1 10 1 22 1 50 1-61 1-11 1-19 1 35 1 65 1-109 1 33 1 11 1 0 1 48 1-29 1-7 1 7 1-7 1 20 1-7 1-60 1-9 1 0 1 92 1-104 1 96 1-40 1-11 1 36 1 71 1-101 1 11 1 34 1 16 1-56 1 19 1-13 1-6 1 6 1 59 1-76 1 6 1 45 1-15 1 0 1-41 1 35 1 37 1-44 1 13 1 31 1 9 1-40 1 0 1-25 1 40 1 34 1-9 1 20 1-53 1 24 1-56 1-35 1 24 1 30 1 0 1 29 1 0 1 0 1-23 1 23 1-29 1-40 1 86 1-17 1-48 1 48 1-48 1 40 1-8 1 42 1-18 1 18 1 34 1-23 1-90 1 45 1-21 1 13 1-32 1 48 1-64 1 81 1-40 1 40 1 9 1-9 1-33 1 16 1 17 1 31 1-90 1 42 1 37 1-101 1 167 1-132 1 13 1 16 1 26 1-26 1 87 1-79 1-24 1 16 1-29 1 21 1-45 1 53 1 0 1 37 1 23 1-12 1-40 1 18 1 11 1 23 1 13 1-109 1-6 1 79 1-37 1-53 1 90 1-37 1 103 1-66 1 66 1-16 1-14 1 0 1-81 1 16 1 52 1-43 1 0 1 0 1 0 1-17 1 60 1-23 1 23 1-34 1-18 1 65 1 14 1-70 1 0 1 105 1-85 1-66 1 37 1 95 1 19 1-49 1-25 1 0 1-31 1 70 1-70 1 0 1 31 1-22 1 47 1 0 1-25 1 12 1 62 1-105 1-40 1 60 1 36 1-13 1-83 1 7 1 119 1 0 1-16 1 151 1-190 1 25 1-65 1 0 1 52 1-43 1 31 1 151 1-222 1 191 1-95 1-65 1-16 1 95 1-14 1-36 1 50 1-61 1 11 1 0 1-11 1 22 1-71 1 71 1 39 1-14 1-36 1 66 1 19 1-105 1 56 1 95 1-65 1-43 1 13 1-36 1 36 1 95 1-120 1 25 1 0 1-25 1 25 1-36 1 66 1 0 1-43 1 0 1 83 1-83 1-12 1 55 1-95 1-37 1 151 1 0 1 0 1-85 1 50 1-95 1 111 1-55 1-11 1 66 1-86 1 70 1-61 1-18 1 79 1 35 1 46 1-108 1 139 1-199 1 26 1 173 1-77 1-114 1 114 1-105 1-33 1 64 1 25 1 49 1 21 1-117 1-9 1 9 1 117 1-21 1 46 1-46 1-19 1 0 1-103 1 87 1 16 1-30 1 14 1 0 1-79 1 95 1 65 1-95 1-56 1 126 1 0 1-117 1 142 1-65 1 40 1 0 1-117 1 34 1 139 1-96 1 19 1-74 1 342 1-247 1-70 1 95 1-95 1-13 1 13 1 95 1-95 1 14 1 112 1-126 1 14 1-27 1 62 1 21 1-83 1 43 1 65 1 0 1-25 1 56 1-112 1-39 1 39 1 56 1-70 1 14 1 35 1-19 1 65 1-81 1 35 1-74 1 0 1 74 1-49 1-25 1 95 1-95 1 25 1 14 1 0 1 112 1-151 1 25 1 30 1-66 1 106 1-40 1 96 1-56 1-106 1 23 1-23 1 162 1-112 1-27 1 178 1-135 1-30 1 70 1-21 1-19 1-30 1 0 1 14 1 35 1-19 1 0 1 65 1-81 1-14 1 30 1-66 1 50 1 56 1-126 1 70 1 0 1-14 1-36 1 85 1-62 1 43 1 40 1-40 1-16 1-39 1 12 1 13 1-25 1 55 1 40 1-21 1-49 1 49 1 21 1-40 1 0 1-30 1-13 1 27 1-79 1 79 1-27 1 0 1 108 1-65 1 19 1-19 1-66 1 50 1 16 1-16 1 81 1-65 1 40 1-70 1 14 1 16 1-16 1-27 1 178 1-116 1 21 1-40 1-43 1 62 1 21 1-83 1 108 1 0 1-95 1 95 1-65 1-30 1 14 1 0 1 56 1 0 1-83 1 13 1 14 1-39 1 39 1 56 1-21 1-19 1 0 1 19 1-35 1-14 1 126 1-96 1 0 1 135 1-165 1 49 1 21 1-40 1 65 1-81 1 56 1 25 1 70 1-135 1-55 1 39 1 35 1-85 1 106 1 56 1-151 1 120 1-65 1 0 1 19 1 0 1 0 1-35 1 56 1-40 1 0 1 19 1-74 1 0 1 120 1 31 1-77 1 21 1-70 1 70 1-40 1 0 1-16 1 81 1-65 1-16 1-27 1 0 1 139 1-207 1 111 1-43 1 43 1 19 1-35 1 0 1 56 1 25 1 0 1 0 1-46 1-74 1 12 1 108 1-108 1 108 1-46 1-19 1-16 1 81 1-65 1-66 1 66 1 19 1 21 1 0 1 25 1-46 1-19 1 19 1 0 1 0 1-49 1 14 1 56 1 95 1-221 1 126 1-56 1 81 1-46 1 0 1 46 1-81 1 56 1-21 1-96 1 173 1-56 1-56 1 81 1-25 1-83 1 43 1 19 1 46 1 31 1-56 1 0 1 56 1-31 1-65 1 0 1 65 1-81 1 151 1-39 1-56 1-40 1-66 1 131 1-25 1 95 1-178 1 178 1-70 1 0 1-46 1 172 1-56 1-165 1 165 1 56 1-207 1 0 1 16 1 40 1 56 1-173 1 77 1 96 1 95 1-126 1-95 1 14 1 151 1-151 1 151 1-95 1-56 1 35 1 268 1-303 1 112 1-126 1 14 1 0 1 35 1-35 1 81 1-65 1 0 1 19 1-74 1 25 1 0 1 95 1 31 1-56 1-21 1-19 1 40 1 25 1-81 1 56 1-83 1 43 1 40 1-106 1 201 1-70 1-81 1 112 1-31 1-95 1 126 1-96 1 0 1-16 1-14 1 70 1-21 1-62 1 0 1 62 1 0 1 0 1-85 1 85 1 268 1-287 1-30 1 0 1 95 1 70 1-39 1-31 1-95 1 30 1 191 1-191 1 40 1 56 1-96 1-30 1 70 1 0 1-70 1 95 1-25 1 25 1-25 1 0 1-56 1 35 1 0 1 46 1-65 1 96 1-56 1-95 1 39 1 112 1-96 1 40 1-70 1-36 1 106 1-56 1 16 1 19 1 21 1-70 1 30 1 40 1-56 1-39 1 39 1-14 1 126 1-96 1 40 1 56 1-56 1-40 1 19 1 21 1-70 1 126 1-112 1 81 1-46 1-35 1 112 1-162 1 66 1-66 1 85 1-19 1 19 1-62 1 83 1 151 1-221 1 126 1 0 1-151 1 95 1 25 1-25 1 95 1-39 1 0 1 0 1-77 1 46 1-46 1 0 1-62 1 27 1 35 1-49 1 70 1-40 1 96 1-77 1 77 1-96 1 19 1 172 1-56 1-151 1 35 1 0 1 172 1-172 1 21 1-40 1 19 1-49 1-36 1 85 1-19 1 40 1 56 1 0 1-112 1 81 1 31 1-31 1-65 1 19 1 46 1-25 1-95 1 120 1-65 1 19 1-74 1 95 1 25 1 31 1-56 1-70 1 30 1 19 1 77 1-77 1 46 1 31 1-31 1-81 1-27 1 108 1 0 1-25 1-70 1 95 1-46 1 21 1-21 1 0 1 77 1 0 1-56 1 0 1 0 1 25 1 0 1 0 1 0 1-65 1 135 1-135 1-16 1 81 1 126 1-95 1-31 1-46 1-35 1-27 1 27 1 16 1 19 1-19 1-16 1 16 1 65 1-81 1 16 1 19 1-19 1 19 1-35 1 35 1 77 1 95 1-246 1 74 1 46 1 31 1-126 1 95 1-25 1 56 1-77 1 77 1-77 1-35 1-27 1 178 1 0 1-165 1 70 1-56 1 207 1-56 1 152 1-222 1-25 1 151 1-207 1 0 1 112 1-56 1 95 1-70 1-46 1 21 1-21 1 77 1-31 1-46 1-49 1 95 1 31 1-96 1-43 1 27 1 16 1-30 1 126 1-56 1 151 1-151 1-21 1 116 1 0 1 0 1-151 1 81 1-46 1-49 1 49 1 46 1-46 1-49 1 14 1-14 1 165 1-151 1-27 1 83 1 95 1-116 1 77 1-77 1-49 1-13 1 108 1-46 1 77 1-77 1 21 1 95 1-39 1-31 1-25 1-21 1 77 1-77 1-19 1 65 1-151 1 126 1-21 1 0 1 46 1-65 1 0 1-30 1 0 1 126 1-77 1 172 1-207 1 81 1-81 1 81 1 0 1-65 1 65 1-46 1 46 1-120 1 95 1 56 1 39 1-116 1-49 1 95 1 0 1-25 1-40 1 135 1-116 1 0 1 0 1 116 1-70 1-108 1 108 1-46 1 77 1-96 1 19 1 0 1 0 1 116 1-39 1-126 1 95 1-81 1 35 1 268 1-152 1-116 1 172 1-126 1-25 1-70 1 126 1 0 1-56 1 95 1-95 1 95 1-70 1 126 1-95 1 0 1 0 1-112 1 0 1 81 1 0 1-108 1 62 1-19 1-43 1 178 1-116 1 77 1-56 1 95 1-116 1 77 1 95 1-277 1 86 1 0 1 96 1 0 1-31 1-46 1 0 1 77 1 0 1 39 1 0 1-165 1 70 1-21 1 21 1-40 1-30 1 0 1 126 1-77 1 0 1 0 1-19 1 135 1-70 1 0 1-81 1 81 1-25 1-21 1 116 1-39 1-139 1 108 1 70 1-70 1-81 1 0 1 35 1 116 1-151 1 112 1-31 1-46 1 46 1 70 1-95 1-21 1 116 1-151 1 35 1-62 1 43 1 96 1-56 1-21 1 46 1-65 1 40 1 25 1 0 1-25 1-95 1 74 1 21 1-70 1 0 1 165 1-151 1 56 1-21" stroke="#0000FF"/>
<path vector-effect="non-scaling-stroke" d="M0 1284l1-152 1 152 1 0 1 0 1-96 1 96 1 0 1 0 1-152 1 56 1 0 1 96 1 0 1-96 1-56 1 56 1-56 1 152 1 0 1-152 1 152 1 0 1-152 1 0 1 152 1-96 1-95 1 191 1-96 1 96 1 0 1-96 1-56 1 152 1-96 1 96 1-96 1 96 1-96 1 96 1-191 1 191 1 0 1 0 1 0 1-152 1 56 1 96 1 0 1 0 1-96 1 96 1 0 1-152 1 152 1-152 1 152 1-247 1 247 1 0 1 0 1-96 1 0 1-95 1 191 1-96 1 0 1 96 1-152 1 152 1 0 1-96 1 96 1-96 1 96 1 0 1-152 1 152 1 0 1 0 1 0 1 0 1 0 1 0 1 0 1 0 1-96 1-56 1 56 1 0 1 96 1 0 1 0 1 0 1 0 1 0 1 0 1-152 1 56 1 0 1 96 1-96 1-95 1 39 1 56 1-56 1 152 1-96 1-56 1 56 1 0 1 96 1-247 1 247 1-96 1 96 1-152 1 152 1 0 1-152 1 152 1 0 1 0 1-96 1 96 1 0 1-96 1 0 1 96 1 0 1 0 1 0 1-152 1 152 1 0 1-96 1 0 1 0 1 96 1 0 1-96 1 0 1-56 1 152 1 0 1-96 1 96 1 0 1-96 1 96 1-96 1 96 1-191 1 191 1 0 1 0 1 0 1 0 1-96 1 96 1 0 1-96 1-56 1 56 1 96 1-96 1 96 1-152 1 152 1 0 1-152 1 152 1 0 1 0 1 0 1 0 1-222 1 222 1 0 1 0 1 0 1 0 1 0 1 0 1 0 1-191 1 0 1 0 1 39 1 56 1-56 1 56 1 96 1 0 1 0 1 0 1 0 1-96 1 0 1 96 1 0 1 0 1 0 1-152 1 152 1 0 1 0 1 0 1-152 1 152 1 0 1 0 1-96 1 0 1 96 1-96 1 96 1 0 1 0 1-96 1 96 1-96 1 96 1-191 1-31 1 222 1 0 1-152 1 56 1 96 1-152 1 56 1 96 1-152 1 56 1 0 1 96 1 0 1-152 1 56 1 96 1 0 1-191 1-31 1 126 1 0 1 96 1 0 1 0 1 0 1-96 1 96 1 0 1-191 1 191 1-247 1 151 1 0 1 0 1 96 1-96 1 96 1-191 1 39 1 152 1-96 1 0 1 0 1 96 1-152 1 152 1-152 1 152 1 0 1-152 1 56 1 0 1 96 1-152 1 56 1-56 1-70 1 222 1-152 1 56 1 0 1 0 1-56 1-70 1-25 1 151 1-95 1 0 1 191 1-96 1-126 1-25 1-21 1 172 1-95 1 39 1 56 1-126 1 0 1 0 1 0 1-46 1 77 1-96 1 135 1-151 1 35 1-62 1 27 1-27 1 0 1 108 1-151 1 70 1 0 1-61 1 34 1 27 1-87 1 37 1-37 1-59 1 59 1 48 1-56 1-15 1 40 1-40 1-6 1 89 1-124 1-40 1 75 1-30 1-10 1 5 1-15 1 37 1-50 1-45 1 45 1-42 1 3 1 31 1-43 1-29 1 20 1 3 1-18 1 3 1-10 1-27 1-14 1 10 1 10 1-36 1 16 1-5 1-20 1-7 1-3 1 16 1-33 1 6 1-4 1-12 1-14 1 17 1-30 1-1 1-7 1-8 1-5 1 10 1-35 1 6 1 4 1-15 1-22 1-5 1 12 1 7 1-21 1-12 1-14 1-16 1 10 1-8 1-6 1 3 1 10 1-25 1 3 1-22 1 1 1 7 1-12 1-2 1-7 1-10 1 6 1-3 1-7 1-4 1-5 1-5 1 2 1-2 1 5 1-13 1-15 1 7 1-4 1-14 1-4 1-14 1 7 1-1 1-14 1 3 1-3 1-18 1-1 1-6 1-5 1-1 1-3 1-4 1 4 1-4 1-6 1 3 1-2 1-3 1-7 1-1 1 2 1-3 1 1 1-5 1 5 1-9 1 5 1-5 1-1 1-4 1 9 1-10 1 4 1-4 1-2 1-4 1 7 1-5 1 4 1-7 1 0 1-4 1 3 1-2 1 2 1-5 1-8 1 7 1-2 1 1 1 1 1-1 1-1 1 2 1-6 1 5 1-3 1 3 1-4 1-2 1 1 1-3 1 8 1-4 1-6 1 4 1 1 1 2 1-4 1 6 1-3 1 0 1-1 1 4 1-4 1 3 1-1 1 1 1-5 1 6 1-2 1-5 1 6 1 4 1-1 1 6 1 1 1-11 1 4 1-2 1 2 1 3 1 2 1 0 1-5 1 3 1 2 1 1 1 3 1 4 1 1 1-4 1 8 1-1 1-5 1-2 1-2 1 8 1 0 1 4 1 1 1 0 1 3 1-5 1 6 1 2 1-2 1-3 1 3 1 0 1 6 1-5 1-2 1 11 1-1 1 6 1-4 1 8 1-4 1 3 1 2 1-2 1-5 1 4 1 4 1 2 1-3 1 4 1-3 1 4 1 2 1 1 1 2 1 3 1-6 1 1 1 8 1-1 1 7 1 0 1-5 1 2 1 4 1 1 1 6 1 2 1-1 1-2 1-5 1 12 1-2 1 6 1 1 1 4 1-8 1-3 1 17 1-4 1-11 1 4 1 8 1 8 1-10 1 4 1-7 1 14 1-10 1 10 1-3 1 6 1 6 1-12 1 6 1 2 1 3 1 3 1 6 1-8 1 0 1 9 1 2 1 1 1 1 1 4 1 2 1-6 1 0 1 8 1-6 1 10 1 1 1 0 1 4 1-2 1 3 1-4 1 0 1 4 1 8 1-8 1 1 1 11 1-7 1 16 1-9 1 7 1-2 1 9 1-1 1 10 1-20 1 9 1 2 1-8 1 18 1-4 1-1 1 5 1 6 1 1 1 0 1 4 1 5 1 5 1 0 1-9 1 11 1-8 1 11 1-1 1-1 1 9 1-5 1 0 1 3 1 7 1-6 1 10 1-14 1 12 1-8 1 16 1-14 1 3 1 17 1 7 1-18 1-4 1 24 1 2 1-8 1 15 1-4 1-6 1 2 1 17 1-20 1 10 1-1 1-16 1 19 1 18 1 7 1-15 1 5 1 9 1-7 1 6 1-6 1 13 1-6 1-10 1-3 1 4 1 32 1-21 1 12 1-7 1-2 1 7 1 12 1-4 1 7 1-22 1 14 1-8 1 4 1 3 1 2 1 9 1 8 1-5 1-2 1-2 1 7 1 7 1-2 1 13 1 3 1-6 1 17 1-23 1-14 1 8 1 22 1 3 1 4 1-3 1-3 1 6 1-11 1-15 1 9 1 45 1-12 1-9 1 27 1-21 1 1 1 5 1-7 1 2 1 5 1 7 1 2 1 19 1-35 1 10 1 12 1-17 1 46 1-29 1 10 1-6 1-7 1 16 1 8 1-24 1 15 1 23 1-29 1 11 1 13 1-29 1 8 1 46 1-19 1 3 1-22 1-3 1 15 1-17 1 40 1-13 1-29 1 39 1-42 1 47 1-4 1-32 1 8 1 10 1 0 1 30 1-38 1 14 1-3 1 25 1-14 1 2 1-11 1 29 1-11 1 29 1-24 1-1 1-14 1 17 1 18 1-20 1-28 1 23 1 4 1 17 1 11 1-19 1-8 1 24 1 3 1-23 1 16 1 2 1 9 1-2 1-43 1 30 1 15 1-29 1 34 1-9 1-15 1-6 1 32 1 10 1-17 1-2 1-2 1 16 1-48 1 48 1-29 1 10 1 14 1-36 1 22 1 3 1 6 1 8 1 33 1-38 1 15 1-22 1 19 1 23 1 3 1-41 1 10 1-12 1 15 1 22 1 9 1-12 1 22 1-41 1 16 1-6 1-18 1 30 1-30 1 8 1 37 1-12 1 27 1-27 1-12 1 3 1 28 1-34 1-25 1 43 1-31 1-14 1 30 1 46 1-25 1-15 1 61 1-46 1 7 1 3 1-31 1 18 1-6 1 34 1-31 1 16 1 0 1-39 1 75 1-52 1 16 1-7 1 4 1 11 1 7 1 41 1-37 1-4 1 4 1-26 1 7 1 41 1-26 1 13 1-17 1-14 1 35 1-4 1-56 1 47 1 9 1-24 1 32 1-21 1 21 1-25 1 56 1-67 1 8 1 38 1-18 1-20 1 54 1-43 1 32 1-23 1-13 1 36 1-23 1 18 1 21 1-16 1-23 1-24 1 88 1-64 1-20 1 3 1 35 1-18 1 0 1 28 1-5 1-10 1 38 1-68 1 40 1-19 1 91 1-44 1-68 1 112 1-16 1 25 1-132 1 67 1-26 1-13 1 23 1-15 1-21 1 58 1 6 1-12 1 25 1-36 1 43 1-20 1 0 1-33 1-18 1 51 1-6 1 26 1-67 1 83 1-48 1 48 1-29 1-24 1 53 1 8 1 0 1-16 1-61 1 46 1-19 1 19 1 15 1-21 1 37 1-31 1 15 1-8 1-32 1 96 1-71 1 0 1 60 1-60 1 15 1 34 1-34 1-21 1 46 1 9 1-26 1-42 1 42 1 0 1 37 1-37 1-29 1 6 1-13 1 13 1 31 1-31 1-6 1-7 1 7 1 6 1-25 1 56 1-24 1 24 1-37 1 37 1-67 1 107 1-31 1 0 1-33 1 8 1-34 1 68 1 22 1-48 1 0 1-53 1 156 1-16 1-95 1 16 1-37 1 102 1-13 1-89 1 46 1-17 1-36 1 73 1-11 1 47 1-56 1-59 1 79 1-37 1 103 1-55 1 12 1-12 1-48 1-36 1 179 1-117 1-55 1 172 1-106 1-37 1 48 1-40 1 40 1-11 1-29 1-37 1 89 1-96 1 73 1 11 1-77 1 55 1-49 1 0 1 60 1 0 1-11 1 34 1-52 1-16 1 16 1 52 1-60 1 168 1-142 1 77 1-95 1 40 1 39 1-95 1 34 1 22 1 12 1-12 1 55 1-66 1-20 1-9 1 18 1-9 1-9 1 0 1 9 1-17 1 17 1-25 1 8 1 48 1 74 1-105 1 105 1-62 1 13 1 30 1-43 1-52 1 40 1 12 1-43 1-59 1 79 1 85 1-145 1 71 1-40 1-16 1 95 1 16 1-66 1 0 1 23 1-34 1 0 1-26 1 103 1-30 1-36 1 23 1 0 1 13 1 49 1-74 1 95 1-106 1 36 1-25 1-40 1 40 1-31 1 105 1 0 1-35 1 0 1-61 1-49 1 126 1-43 1-43 1 31 1 151 1-112 1 35 1-62 1 0 1 0 1-12 1 25 1 0 1 0 1-89 1 0 1 76 1 13 1 0 1-25 1 25 1-47 1 77 1-30 1-73 1 103 1-103 1 17 1-53 1 62 1 61 1-50 1 0 1 11 1-56 1 111 1 40 1-95 1 25 1 126 1-96 1-111 1 68 1 13 1 49 1-85 1 36 1-36 1 66 1 96 1-77 1-49 1 30 1 19 1-130 1 68 1-52 1 52 1-34 1 77 1-43 1 13 1 14 1 35 1-74 1 12 1 83 1-95 1 25 1 49 1-49 1-36 1 85 1-49 1 0 1-47 1 77 1 65 1-81 1 207 1-191 1-16 1-14 1 0 1 14 1 0 1-39 1 120 1-131 1-45 1 81 1 0 1-36 1 85 1 0 1-96 1 77 1-30 1-25 1 95 1-40 1 0 1-30 1 14 1 81 1-81 1-39 1-11 1 106 1-56 1-27 1 43 1 19 1-62 1 27 1 16 1 19 1 0 1 0 1 21 1-56 1 151 1-190 1 25 1-25 1 55 1 40 1-95 1 25 1 30 1 40 1-95 1 25 1 0 1-13 1 139 1-139 1-23 1 106 1-56 1 112 1-182 1 86 1-16 1 0 1 35 1-35 1 81 1-108 1 13 1 70 1-70 1 70 1-83 1 13 1-13 1 0 1 62 1-35 1-14 1 30 1 19 1-19 1 40 1-40 1-43 1 83 1-135 1 114 1-19 1 0 1 0 1 0 1-30 1 30 1 0 1-43 1 43 1 19 1-19 1 19 1 46 1-95 1 0 1 126 1-126 1 49 1 21 1-21 1 21 1-40 1 96 1-56 1-95 1 55 1 0 1 19 1 21 1 56 1-126 1-13 1 13 1 49 1 0 1 21 1 95 1-151 1-39 1 95 1-40 1-30 1 30 1 0 1-86 1 126 1-21 1-35 1-14 1 14 1-14 1 14 1-39 1 55 1-43 1 62 1 172 1-151 1-106 1 131 1-131 1 36 1 70 1-117 1 47 1 49 1 46 1-65 1-30 1 126 1-139 1 62 1-49 1 49 1-49 1 70 1-70 1 14 1-27 1 62 1-35 1 0 1 56 1-40 1-43 1 0 1 139 1-126 1 14 1-61 1 96 1-35 1-14 1 30 1 96 1 0 1-126 1 0 1 14 1 35 1-19 1-30 1 0 1 126 1-112 1 0 1 0 1 56 1-70 1 14 1 112 1-96 1-16 1 35 1-122 1 199 1 191 1-342 1 55 1 96 1-151 1 25 1 165 1-135 1-95 1 95 1 96 1-56 1-83 1 13 1 49 1-19 1-43 1-12 1 55 1-43 1 43 1-55 1 95 1 25 1-65 1-16 1 35 1-19 1 19 1-19 1-30 1 70 1 25 1-25 1 95 1-70 1-25 1 0 1 56 1-56 1 25 1-81 1 0 1-27 1 108 1 31 1-56 1 95 1-95 1 151 1-172 1-35 1 16 1-30 1 165 1-165 1 70 1-95 1 151 1-77 1 21 1-83 1 27 1 81 1-142 1 77 1 135 1-70 1 31 1-139 1-52 1 79 1 16 1-43 1 178 1-116 1 0 1-35 1 0 1-39 1 74 1-35 1 56 1 0 1-40 1 0 1 0 1-55 1 74 1 46 1-65 1 0 1 0 1-16 1 56 1-40 1 0 1 40 1-40 1 19 1-19 1 65 1-108 1 178 1-70 1-46 1-49 1-25 1 25 1-25 1-31 1 182 1-112 1 16 1 65 1-25 1-21 1 21 1 95 1-116 1-19 1 96 1 39 1-178 1-23 1 85 1 46 1-120 1 74 1 0 1-19 1 19 1-35 1 112 1-31 1 0 1-95 1 30 1 19 1-62 1 27 1 81 1-95 1 49 1-96 1 61 1 81 1-81 1 16 1 65 1 70 1-178 1 43 1-16 1 151 1-95 1-56 1 112 1-112 1 112 1-56 1-21 1 46 1-46 1 0 1-35 1 112 1-96 1 191 1-221 1 70 1-40 1 287 1-287 1 19 1 172 1-268 1 117 1 0 1 151 1-56 1-39 1-112 1 35 1 46 1 0 1-46 1-62 1 108 1-25 1 56 1-112 1 151 1-165 1 30 1 0 1 19 1 116 1-39 1-31 1-46 1 77 1-31 1 70 1 0 1-70 1-25 1 25 1-46 1 21 1 25 1-120 1 74 1-62 1 13 1 126 1-139 1-12 1 151 1-96 1 19 1 172 1-221 1 165 1 0 1-135 1 96 1-112 1 35 1 46 1-46 1 21 1-40 1-55 1 0 1 151 1 0 1-31 1-65 1 0 1-55 1 25 1 30 1 40 1-21 1 0 1-35 1 151 1-165 1 126 1-96 1-66 1 36 1 30 1 40 1 0 1 25 1-46 1-49 1-13 1 0 1 139 1-112 1 0 1 56 1-21 1 21 1-95 1 74 1-85 1 85 1 268 1-222 1 0 1-65 1 19 1 0 1-62 1 108 1-46 1 0 1 46 1-81 1 35 1 46 1-95 1 14 1 151 1-116 1-35 1 112 1-31 1 0 1 31 1-96 1-86 1 221 1-116 1 46 1-65 1-30 1 95 1 31 1-96 1 0 1 135 1-39 1-31 1-95 1 0 1 70 1-40 1-55 1 55 1 96 1-77 1 21 1-56 1 35 1-35 1 35 1 0 1 172 1-207 1 56 1 0 1 56 1-151 1 151 1-77 1 77 1-56 1-40 1 0 1 40 1 25 1-65 1 135 1-165 1 126 1-112 1 16 1 65 1-46 1 77 1-77 1-35 1-14 1 70 1-40 1 0 1 65 1-25 1 25 1 70 1-39 1 0 1-56 1 95 1-201 1 66 1 19 1 0 1 116 1-70 1-142 1 34 1 13 1-25 1 95 1-21 1 77 1-96 1 65 1-46 1-35 1 112 1 39 1-95 1-21 1 46 1-65 1 65 1 70 1-95 1 0 1 0 1-21 1 0 1-49 1 126 1-112 1 81 1-108 1 62 1-49 1 95 1 31 1-31 1 31 1-77 1-19 1 96 1 0 1-31 1-25 1 25 1 31 1-56 1 0 1-21 1 0 1-35 1 81 1 0 1-46 1-19 1 65 1-65 1 65 1-46 1 0 1 77 1-77 1-35 1-27 1 43 1 40 1 56 1-77 1 77 1-96 1 19 1-35 1 303 1-303 1 56 1 25 1 31 1 39 1-95 1-70 1 165 1-39 1 39 1-39 1 0 1-31 1-25 1-56 1 56 1 56 1-56 1-40 1-30 1 49 1 21 1 25 1-95 1 165 1-95 1 0 1-56 1-14 1 14 1 81 1 70 1-39 1-77 1 21 1 0 1-21 1 77 1-96 1 96 1-56 1-56 1 56 1 0 1 0 1-40 1 40 1-40 1 0 1 40 1 95 1-135 1 65 1-65 1 65 1 0 1 31 1-31 1 70 1-95 1-21 1 116 1-135 1-30 1 165 1-135 1 40 1 56 1-139 1 139 1-31 1 31 1-31 1 70 1-116 1-19 1 135 1-39 1-96 1 96 1-126 1 30 1-30 1 70 1 247 1-222 1-65 1 96 1 0 1 0 1-162 1 66 1-30 1 49 1-85 1 106 1 56 1 39 1-39 1-56 1 56 1-139 1 83 1-40 1 40 1 0 1 56 1-126 1 14 1 16 1 191 1-151 1 151 1-151 1-70 1-13 1 62 1 0 1 21 1-70 1 165 1-39 1-139 1 83 1 56 1-31 1-131 1 66 1 96 1-56 1 56 1-96 1 135 1-95 1 56 1 95 1-95 1-96 1 191 1-56 1-178 1 0 1 83 1-40 1 40 1-21 1-19 1 96 1 0 1-126 1 165 1-135 1 96 1 0 1-31 1 31 1 0 1 0 1 39 1-135 1-16 1 16 1 0 1-16 1 81 1 222 1-303 1 112 1-31 1-46 1-35 1 35 1-49 1 95 1-46 1 268 1-222 1-25 1 0 1-21 1-49 1 14 1 56 1 0 1 95 1 0 1-39 1 39 1-116 1 46 1-46 1 0 1 46 1-46 1-49 1 49 1-19 1 96 1 0 1 95 1-151 1-21 1 0 1-74 1 120 1 222 1-222 1-95 1 30 1 287 1-191 1-56" stroke="#FF00FF"/>
<path vector-effect="non-scaling-stroke" d="M0 1284l1 0 1 0 1 0 1 0 1-96 1 0 1 96 1 0 1 0 1-191 1 191 1 0 1-96 1-56 1 152 1 0 1 0 1-96 1 96 1 0 1-191 1 95 1 96 1-96 1 0 1 96 1-96 1 0 1 96 1-96 1 96 1 0 1 0 1-96 1 96 1-222 1 126 1 96 1 0 1 0 1 0 1-96 1 96 1-191 1 191 1 0 1 0 1 0 1 0 1 0 1-96 1 0 1-56 1 152 1-96 1 96 1-191 1 95 1 0 1 96 1 0 1 0 1 0 1 0 1-96 1-56 1 56 1 96 1 0 1 0 1-152 1 152 1-96 1 96 1 0 1 0 1 0 1 0 1-152 1 0 1 56 1 0 1 96 1 0 1-96 1 0 1 96 1 0 1-96 1 0 1 0 1 96 1 0 1 0 1 0 1 0 1 0 1 0 1 0 1-96 1 96 1-96 1-56 1 56 1-56 1 152 1-96 1 0 1 96 1-191 1 191 1 0 1 0 1-96 1 96 1-96 1 96 1-191 1 95 1 96 1 0 1-96 1-56 1 152 1 0 1-152 1 152 1 0 1 0 1 0 1 0 1 0 1 0 1 0 1 0 1-96 1 96 1 0 1 0 1-152 1 0 1-39 1 191 1-152 1 152 1 0 1-96 1 96 1 0 1-96 1 96 1 0 1-152 1 0 1 152 1-152 1 152 1-96 1 96 1-96 1 0 1 96 1 0 1-152 1 152 1 0 1 0 1 0 1 0 1 0 1-152 1 152 1 0 1-96 1 0 1 96 1-96 1 96 1 0 1 0 1-96 1 96 1 0 1-96 1 96 1 0 1-96 1 96 1 0 1 0 1 0 1 0 1 0 1 0 1 0 1-152 1 152 1-96 1 96 1 0 1-96 1 96 1 0 1-152 1 56 1 0 1 96 1 0 1-152 1 56 1 96 1-96 1 96 1 0 1 0 1 0 1 0 1 0 1-191 1 191 1-191 1 95 1 0 1 96 1 0 1 0 1 0 1 0 1-96 1 96 1 0 1-152 1 56 1 0 1 96 1 0 1-152 1 0 1 152 1-152 1 0 1 152 1 0 1 0 1-152 1 0 1 152 1-96 1 0 1 96 1-152 1 152 1 0 1-152 1 152 1 0 1 0 1-96 1 0 1 0 1-56 1 0 1-39 1 95 1-95 1 0 1-31 1 126 1 0 1-95 1 0 1 95 1 0 1-56 1 152 1 0 1-152 1-95 1 247 1-222 1 126 1 96 1-152 1 0 1-39 1-56 1 95 1 0 1 0 1 56 1-56 1 56 1-95 1-77 1 172 1-56 1-39 1 95 1-151 1 56 1-77 1-19 1 191 1-172 1 46 1-65 1 40 1 0 1-56 1 35 1 46 1-25 1-83 1 13 1 70 1-95 1-11 1 106 1-95 1-48 1 26 1-26 1 60 1-52 1 29 1-53 1 16 1-36 1 36 1-42 1 0 1 0 1 0 1-6 1-35 1 75 1-92 1 26 1 5 1-5 1-13 1-17 1-11 1 51 1-47 1-11 1-35 1 17 1 29 1-41 1-5 1 3 1-51 1 29 1-7 1-18 1 29 1-29 1-27 1 11 1 14 1-25 1-8 1-29 1 13 1-4 1-14 1 13 1-33 1 17 1-16 1-16 1-2 1 2 1-2 1-9 1-6 1-13 1-9 1-15 1 9 1-7 1-18 1-11 1-2 1 1 1-11 1-2 1-16 1-5 1-2 1-22 1 14 1-10 1-5 1-6 1 3 1-18 1-2 1-2 1 5 1 1 1-15 1-8 1 7 1-16 1 4 1-14 1 7 1-7 1-8 1-4 1 9 1-22 1 6 1-11 1-13 1 8 1-11 1-12 1 0 1-4 1 2 1-7 1-3 1-6 1-10 1-2 1-1 1-1 1-7 1 1 1-3 1-1 1-5 1-10 1 13 1-2 1-5 1-7 1 6 1-3 1-9 1 10 1-12 1 6 1-4 1-1 1 3 1-6 1 3 1-5 1 4 1-3 1 2 1-3 1-7 1 1 1 4 1-2 1-2 1 2 1 1 1-7 1-4 1 4 1 2 1-6 1 3 1-8 1 8 1-1 1-2 1 5 1-12 1 10 1-8 1 4 1 1 1-2 1 2 1 2 1-1 1-2 1-3 1-1 1 6 1-3 1 3 1-2 1 1 1-2 1-2 1 2 1 2 1 14 1-7 1-4 1-1 1 3 1 2 1-3 1 5 1-2 1-4 1 3 1-1 1 11 1-10 1 8 1-1 1 1 1 2 1-3 1 3 1-1 1 3 1 7 1-14 1 11 1 4 1 3 1-4 1 1 1-3 1 2 1-3 1 4 1 6 1 3 1 4 1-3 1-1 1 3 1-3 1 4 1 9 1-9 1 3 1-1 1 6 1 3 1-1 1 0 1 6 1 3 1-2 1-2 1 10 1-2 1-2 1-7 1 11 1 1 1 3 1 7 1-9 1 7 1-3 1 3 1 6 1-3 1-2 1 6 1-4 1 7 1 0 1 7 1-13 1 20 1-3 1-4 1 2 1 2 1-7 1 10 1 2 1 6 1-8 1 7 1 0 1 1 1 6 1-5 1 7 1-9 1 14 1 2 1 1 1-1 1 7 1-8 1 19 1 4 1-8 1-10 1 16 1 1 1-5 1 7 1-7 1 10 1 13 1-11 1 12 1-14 1-1 1 15 1 5 1 1 1-2 1-5 1 8 1 5 1 9 1-10 1 8 1 8 1-5 1-11 1 15 1 12 1-11 1 1 1 22 1-15 1 5 1 15 1 5 1-3 1 2 1-5 1 7 1-8 1 1 1 1 1 5 1 5 1-7 1 10 1 2 1-1 1 7 1 1 1-5 1-5 1 8 1-1 1 10 1 0 1 9 1 5 1-4 1-5 1 17 1-7 1-7 1 15 1 9 1-6 1 2 1 2 1-9 1 13 1-14 1 30 1-13 1-4 1 11 1 2 1 0 1 0 1 5 1 1 1 1 1 9 1-8 1 12 1-1 1 8 1 0 1 1 1-7 1 21 1-2 1-1 1 17 1-2 1-18 1-15 1 12 1 9 1-2 1 26 1 6 1 4 1-8 1-7 1-10 1 16 1 17 1-21 1 13 1 14 1-24 1 3 1 11 1-3 1-7 1-3 1 18 1 6 1-16 1-3 1 26 1-8 1 4 1-29 1 11 1 29 1-16 1 16 1 24 1-26 1 19 1 6 1 6 1 19 1-30 1-11 1 33 1-26 1 7 1 14 1-15 1-18 1 18 1 12 1-11 1 23 1-2 1-16 1 27 1-21 1 19 1-19 1 10 1-8 1 15 1 12 1-30 1 28 1-28 1-5 1 50 1-25 1 20 1-18 1 18 1-2 1 0 1-12 1 10 1 2 1 4 1 7 1-31 1 59 1-37 1 24 1-24 1 40 1-26 1-16 1 81 1-79 1 14 1-12 1 27 1 26 1-12 1-24 1 12 1-5 1 8 1 49 1-52 1 41 1-17 1 6 1 7 1-22 1 6 1 24 1 7 1-31 1-12 1 32 1 24 1-24 1 24 1-17 1 12 1 44 1-52 1-11 1 28 1-28 1 0 1 7 1-14 1 11 1 33 1 10 1 5 1-37 1 27 1-49 1 31 1 45 1-86 1 0 1 41 1 18 1-14 1 30 1-62 1 51 1-28 1-23 1 51 1-10 1 32 1-27 1-31 1-31 1 52 1-8 1 23 1-23 1 39 1 25 1-41 1-79 1 51 1-12 1 30 1-37 1 69 1-32 1 0 1 15 1-15 1 66 1-45 1-11 1 35 1 6 1-25 1-16 1 16 1-5 1 5 1-5 1-34 1-9 1-19 1 92 1 23 1 0 1-53 1 0 1-6 1 11 1 19 1-78 1 54 1 24 1-19 1-52 1 71 1 6 1-36 1 30 1-40 1 77 1-37 1 6 1-41 1 48 1 33 1-91 1 58 1-26 1 26 1-13 1-19 1-31 1 96 1-25 1-40 1 19 1-13 1-11 1-11 1 56 1 0 1 8 1-36 1 84 1-71 1 0 1 7 1 16 1-53 1 79 1-49 1-46 1 5 1 48 1-26 1 59 1 20 1-60 1 83 1-34 1-62 1 20 1-26 1 68 1-18 1 9 1-70 1 53 1 17 1 20 1-53 1 53 1-29 1 0 1-31 1 31 1-44 1 7 1 21 1-8 1-20 1 28 1 68 1-23 1-11 1 11 1-60 1-6 1 89 1-23 1-37 1-42 1 90 1-11 1-96 1 76 1 9 1-49 1 23 1 48 1-56 1 68 1-43 1-53 1 36 1 73 1-102 1 55 1-26 1 26 1-26 1 60 1-102 1 90 1 74 1-122 1 17 1 20 1-60 1 40 1-17 1 26 1 34 1-23 1 23 1-12 1 0 1-48 1 26 1-9 1-9 1 9 1 9 1-9 1 0 1 105 1-74 1-31 1-25 1-21 1 77 1-31 1 9 1 11 1 36 1-73 1 103 1-95 1-24 1 76 1-23 1-29 1 52 1-96 1 20 1 103 1-14 1-36 1 85 1-35 1-39 1 25 1-65 1 52 1 13 1-13 1 0 1 27 1-39 1 55 1-86 1 31 1-31 1 0 1 31 1-31 1 56 1-13 1-34 1 34 1-34 1-9 1-9 1 65 1 0 1-25 1 95 1-106 1 23 1-68 1 130 1-74 1 25 1 14 1 0 1 16 1-77 1 34 1 27 1 0 1-27 1 13 1 0 1-36 1 0 1 36 1-25 1-22 1 61 1-14 1-47 1 11 1-37 1 8 1 114 1 0 1-105 1 43 1-52 1 18 1 11 1 23 1 0 1 43 1-66 1 50 1 0 1 56 1-83 1 62 1-145 1 110 1-39 1 0 1 25 1-56 1 0 1 56 1-47 1 47 1-13 1 13 1 14 1-50 1 131 1-131 1 50 1 35 1-62 1 13 1 49 1 0 1-74 1-11 1 85 1-96 1 22 1 151 1-151 1 39 1 16 1-16 1-70 1 105 1-49 1 0 1 30 1 40 1-70 1 14 1 16 1-43 1 43 1 19 1-62 1-12 1 120 1 0 1-95 1 0 1 14 1-14 1 30 1-43 1-12 1 190 1-201 1 36 1 0 1 0 1 95 1-95 1 14 1-95 1 81 1 95 1-81 1 16 1-66 1 66 1 65 1-25 1-106 1 66 1-66 1 50 1 0 1 0 1-50 1 50 1-27 1 27 1 56 1-83 1-12 1 25 1 0 1-47 1 11 1 0 1 0 1 106 1-106 1-11 1 22 1 0 1 95 1 0 1-70 1 30 1 65 1-131 1 11 1 12 1-23 1-37 1 26 1 61 1 56 1 0 1-135 1 65 1 14 1 56 1 0 1 0 1-70 1-47 1 61 1 35 1 46 1-120 1 151 1-139 1-12 1 74 1-49 1 14 1-103 1 53 1-29 1 114 1 0 1 0 1-62 1 43 1 40 1-106 1 66 1-30 1 0 1 30 1 0 1 0 1-86 1 86 1-16 1-14 1 30 1 65 1-151 1 70 1 16 1 0 1-55 1 39 1-50 1-20 1 56 1 49 1-49 1 70 1-40 1-77 1 142 1-81 1 151 1-212 1 96 1-19 1 19 1 0 1 0 1-62 1 13 1 49 1-85 1 50 1 303 1-222 1-65 1-66 1 131 1-65 1-16 1 35 1-62 1 27 1-79 1 65 1-13 1 43 1-66 1 66 1 96 1-112 1-14 1 0 1 49 1-74 1 39 1 56 1 95 1-165 1-25 1 12 1 62 1-62 1 43 1 19 1-62 1 43 1-16 1-14 1 70 1-83 1 43 1 0 1-66 1 106 1-21 1 46 1-46 1-19 1-55 1 74 1-19 1-30 1 0 1 14 1 16 1 19 1-35 1 81 1-81 1-27 1 0 1 83 1-70 1 30 1 96 1 39 1-95 1-151 1 176 1-46 1-35 1-39 1 39 1-27 1 0 1 62 1 21 1 0 1-56 1-14 1 95 1-81 1 56 1-21 1-49 1 49 1 77 1-96 1 65 1-81 1 81 1-151 1 105 1 268 1-303 1-14 1 95 1-46 1-62 1 83 1-21 1 46 1-81 1 207 1-246 1 342 1-330 1 62 1 46 1 31 1-77 1 21 1-40 1-30 1-47 1 142 1-25 1-56 1 35 1 21 1-21 1-35 1 81 1-108 1 108 1-120 1 190 1-165 1 0 1 14 1 112 1 0 1-112 1 81 1-65 1 40 1-21 1 21 1 95 1-70 1-95 1 49 1 46 1-95 1 70 1-70 1 49 1-62 1 27 1 56 1 56 1-162 1 106 1 25 1-65 1-16 1 56 1-70 1 126 1-126 1 14 1-14 1 30 1-16 1 0 1-14 1 70 1-21 1-35 1 16 1-43 1 62 1 0 1 21 1-40 1 19 1 0 1-35 1-27 1 43 1 19 1 0 1 0 1 77 1-126 1-25 1 74 1-19 1 40 1-21 1 77 1 0 1-96 1-55 1-11 1 201 1-95 1 95 1-190 1 95 1-70 1 70 1 56 1 0 1-162 1 50 1-14 1 49 1-49 1 49 1-19 1 0 1-30 1 95 1 70 1-190 1 95 1 56 1-77 1-19 1-30 1-13 1 62 1-35 1 207 1-191 1-16 1 35 1 21 1-95 1 95 1-21 1-85 1 106 1-83 1-12 1 39 1 16 1 19 1 46 1-25 1-83 1 43 1-16 1 56 1 25 1-65 1-16 1 56 1 25 1 0 1-95 1 0 1 70 1 0 1 25 1-81 1-39 1 190 1-116 1-49 1-25 1 39 1 151 1-221 1 70 1 207 1-191 1-30 1 317 1-330 1 139 1-139 1 62 1-19 1 191 1-95 1-77 1 21 1-95 1 55 1 40 1 0 1 25 1-25 1-40 1-16 1 151 1-151 1 56 1-40 1 135 1-212 1 117 1-56 1 56 1-40 1 96 1-112 1 112 1-126 1 165 1-95 1 0 1-40 1 0 1 40 1 0 1-21 1 0 1-49 1 14 1 151 1-165 1 0 1 49 1 0 1 0 1 46 1-120 1 39 1 81 1 0 1-46 1-19 1 40 1 25 1-25 1 56 1-56 1 25 1 70 1-95 1 56 1-77 1-19 1-16 1 0 1 56 1 247 1-268 1-74 1 151 1-31 1-81 1 207 1-126 1 70 1-70 1-65 1-16 1 112 1-96 1 65 1-46 1 0 1-49 1 126 1-96 1 135 1 152 1-152 1-39 1-77 1 21 1-21 1 0 1-19 1 0 1 40 1-56 1 56 1 56 1-77 1 172 1-172 1 46 1 0 1-81 1 303 1-247 1 25 1 70 1 0 1-70 1-25 1-40 1 65 1 0 1-95 1 221 1-151 1-21 1-62 1 27 1 151 1-151 1 207 1-151 1 0 1-40 1 96 1-139 1-12 1 120 1-25 1 0 1 0 1 0 1 95 1-39 1-96 1 65 1 70 1-95 1 56 1-31 1 70 1 0 1-39 1-96 1 65 1-25 1 56 1-56 1 56 1-77 1 116 1-116 1 46 1-81 1 16 1 135 1 0 1-70 1 0 1 31 1-31 1 31 1-31 1-46 1 0 1 0 1-19 1 40 1 0 1 56 1-31 1-25 1-83 1 108 1-65 1 19 1 0 1 46 1 31 1 0 1-56 1-70 1 14 1 0 1-50 1 257 1-126 1-81 1 151 1-116 1 21 1 25 1-25 1 25 1 0 1-95 1 30 1 135 1-95 1 247 1-268 1 0 1 77 1-77 1-35 1 207 1-126 1-25 1-56 1 35 1 172 1-95 1-77 1 0 1 46 1 70 1-39 1-77 1 0 1 46 1-25 1 0 1 56 1-31 1-65 1 135 1-70 1-65 1 65 1 0 1-25 1-56 1 16 1 191 1 0 1-56 1-116 1-19 1 65 1 222 1-330 1 234 1 0 1 0 1-56 1 56 1-95 1 39 1 0 1-39 1-96 1 191 1-191 1 65 1-46 1-49 1 165 1-116 1 21 1 56 1 0 1-77 1 0 1 172 1-172 1 116 1-116 1 0 1 21 1 0 1 95 1-135 1 191 1-126 1 0 1-46 1 77 1 191 1-191 1-96 1 40 1 0 1 25 1-65 1 19 1 21 1 56 1-77 1 46 1-46 1 77 1 0 1 39 1-165 1 49 1 46 1 126 1-126 1 0 1-65 1 40 1-56 1 56 1 25 1-46 1 46 1-46 1 268 1-303 1 0 1 56 1-21 1 116 1-39 1-96 1 96 1 0 1 39 1-165 1 126 1-31 1 70 1-116 1 77 1-139 1 178 1-70 1 70 1 0 1 0 1-95 1-21 1 0 1 46 1 222 1-152 1-70 1-65 1 65 1 70 1-70 1-25 1-21 1-49 1 49 1 46 1-81 1 151 1-39 1-31 1 126 1-151 1-40 1 96 1-56 1 56 1-31 1 0 1 126 1-95 1 95 1-56 1-135 1 191 1-172 1 21 1 25 1-120 1 342 1-191 1 0 1-96 1 96 1 95 1-95 1-56 1 56 1-56 1-40 1 19 1 116 1-70 1-25 1 56 1-56 1 56 1-31 1 126 1-172 1-19 1 40 1 0 1 95 1 0 1-165 1 70 1 25 1 31 1-77 1-19 1 0 1 0 1 191 1-126 1-46 1 172 1-56 1-95 1 56 1-56 1 25 1 0 1-120 1 55 1-16 1 16 1 0 1 65 1-25 1-40 1 40 1 56 1-56 1-21 1 21 1 95 1 0 1-95 1-21 1 116 1-70 1-25 1 95 1 0 1-70 1-81 1 112 1 0 1-31 1 70 1-116 1-35 1 16 1-30 1 70 1 0 1 25 1 0 1 31 1 95 1-126 1-25 1-21 1 77 1-56 1-21 1 268 1-268 1-49 1 165 1 56 1 0 1-126 1-65 1 191 1-95 1 0 1-31 1 0 1 126 1-95 1-77 1 21 1 247 1-152 1 152 1-222 1 0 1-25 1 95 1-70 1 31 1-31 1-65 1 65 1-46 1 21 1 95 1 56 1-207 1 303 1-268 1 77 1-126 1 165 1 0 1-70 1 0 1 126 1-56 1-151 1 16 1 0 1 65 1-46 1 77 1-77 1 21 1 0 1 56 1 0 1-31 1 0 1-81 1 207 1-95 1-112 1 35 1-35 1-14 1 70 1 0 1 0 1 25 1 31 1-56 1 56 1-112 1 0 1 56 1 25 1 70 1-39 1 191 1-191 1-31 1 0 1-131 1 131 1-46 1 21 1 0 1-40 1 19 1 116 1-135 1 96 1 0 1-31 1 70 1-95 1 25 1 31 1-56 1-70 1-36 1 162 1-56 1 56" stroke="#008000"/>
<path vector-effect="non-scaling-stroke" d="M0 1284l1 0 1 0 1 0 1 0 1-96 1 96 1 0 1 0 1 0 1 0 1-96 1 96 1 0 1 0 1 0 1 0 1-152 1 152 1-96 1 0 1-56 1 152 1 0 1-96 1-56 1 152 1 0 1 0 1-96 1 0 1 96 1 0 1 0 1 0 1 0 1 0 1-96 1 96 1 0 1-96 1 0 1 96 1-96 1 96 1-96 1 96 1 0 1-152 1-39 1 191 1-152 1 152 1-96 1 96 1 0 1 0 1 0 1-222 1 222 1-96 1 0 1 96 1 0 1 0 1 0 1 0 1-152 1 56 1 96 1-96 1 0 1-56 1 56 1 96 1 0 1-96 1 96 1 0 1-152 1 152 1 0 1 0 1 0 1 0 1 0 1 0 1 0 1-191 1 191 1 0 1 0 1 0 1 0 1 0 1 0 1 0 1-96 1 96 1 0 1 0 1 0 1 0 1 0 1 0 1-96 1 96 1-96 1 96 1-152 1-39 1 191 1 0 1 0 1 0 1 0 1 0 1-191 1 95 1 0 1-56 1 152 1 0 1 0 1 0 1-152 1 152 1 0 1-191 1 191 1-152 1 152 1 0 1 0 1 0 1 0 1 0 1 0 1-96 1 96 1 0 1-96 1 96 1 0 1 0 1 0 1-96 1 0 1 96 1 0 1-96 1 0 1 96 1 0 1-96 1 96 1-96 1 0 1 0 1-56 1 56 1 0 1 96 1 0 1 0 1-96 1-126 1 222 1 0 1 0 1 0 1 0 1-96 1 96 1 0 1 0 1 0 1 0 1-152 1 56 1 96 1-152 1 152 1-96 1 96 1-191 1 95 1 96 1 0 1-96 1 0 1 0 1 96 1 0 1 0 1 0 1 0 1 0 1 0 1 0 1-96 1 96 1 0 1 0 1-152 1 56 1 0 1 96 1 0 1-96 1 96 1-96 1 96 1 0 1 0 1 0 1 0 1-96 1 96 1-191 1 191 1 0 1 0 1-96 1-56 1 152 1 0 1 0 1 0 1 0 1 0 1 0 1 0 1 0 1-96 1 0 1 96 1 0 1 0 1 0 1-152 1 152 1-247 1 247 1-96 1-56 1 56 1 0 1 0 1 96 1 0 1 0 1-96 1 96 1-152 1 152 1 0 1 0 1-96 1 0 1-56 1 0 1 152 1-152 1-39 1 191 1-191 1 39 1 152 1 0 1-96 1 96 1-152 1 0 1-70 1 222 1-191 1 0 1 95 1-126 1 70 1 152 1-191 1 95 1-95 1 95 1-56 1 56 1-95 1-56 1 95 1-116 1 77 1-31 1 222 1-152 1 0 1-39 1-31 1 0 1-25 1-21 1 46 1 0 1-95 1 165 1-39 1-31 1-108 1 83 1 25 1-81 1-27 1 13 1 14 1-50 1 66 1-95 1 40 1-101 1 140 1-70 1 31 1 12 1 13 1-109 1 36 1-53 1 70 1-46 1-7 1 0 1 28 1-40 1-11 1-5 1 22 1-73 1 41 1-5 1 31 1-56 1-14 1 31 1-35 1-27 1 3 1-8 1-24 1 24 1-18 1 3 1 0 1-3 1-15 1 28 1-75 1 14 1-8 1 31 1-23 1-28 1-3 1-1 1 9 1-12 1-17 1 12 1-35 1 6 1-4 1-10 1-8 1-22 1 14 1 26 1-36 1-2 1-19 1-15 1-7 1 6 1-6 1-17 1 9 1-13 1-13 1-7 1-9 1-8 1 7 1-29 1 9 1 1 1-7 1 5 1-15 1 4 1-17 1 9 1-15 1 5 1-6 1 0 1-8 1-11 1-5 1 0 1-5 1 5 1-6 1-6 1-9 1-5 1-4 1-6 1-4 1-7 1-5 1-11 1 2 1-5 1-16 1 1 1 0 1-3 1-9 1-2 1-6 1 8 1-14 1 3 1-3 1 0 1-1 1-8 1 7 1-8 1 7 1-8 1-3 1 1 1 1 1 2 1-3 1-4 1 2 1-4 1-1 1-3 1-5 1 1 1 1 1 5 1-9 1-5 1 0 1 3 1-4 1 2 1 2 1-3 1 2 1-1 1-5 1 4 1-9 1 5 1 2 1-3 1 1 1 0 1-4 1 2 1 5 1-7 1 4 1 2 1 0 1-2 1-3 1 2 1-6 1 5 1 2 1-3 1 4 1 2 1-4 1 2 1 4 1 0 1 0 1 0 1-2 1-1 1 2 1 1 1 1 1 0 1 1 1 8 1-4 1 1 1-3 1-2 1 3 1 3 1 6 1-6 1 3 1 0 1 5 1 0 1-2 1 2 1 2 1 1 1 5 1-5 1 6 1-1 1 14 1-2 1-12 1 9 1-6 1 4 1 6 1 2 1-3 1 12 1-11 1 12 1-2 1-7 1 10 1-4 1 6 1 4 1 2 1 3 1-4 1 4 1 1 1-1 1 4 1-6 1 13 1-4 1 3 1-3 1 5 1 5 1-1 1-7 1 4 1 11 1-7 1 5 1-1 1 10 1 2 1-9 1 14 1 2 1-1 1-3 1-2 1 8 1-1 1 8 1 1 1-6 1 1 1 12 1 4 1-1 1 0 1-5 1 6 1 2 1 11 1-3 1 0 1 15 1-3 1 1 1 3 1-4 1-3 1 18 1-2 1-2 1 5 1 4 1-5 1 21 1-13 1 5 1 8 1-9 1 8 1-2 1 8 1-4 1 13 1-11 1 15 1 2 1 1 1 1 1 1 1 4 1 7 1-12 1 13 1 4 1-2 1 5 1-8 1 6 1 7 1 5 1 12 1-10 1-8 1 25 1 7 1 5 1-14 1 1 1 5 1 9 1-8 1 6 1 3 1 5 1-4 1 1 1-7 1 39 1-13 1-21 1 7 1 29 1-21 1 7 1 30 1-21 1 0 1-5 1 3 1 8 1 12 1 1 1 8 1-27 1 6 1 21 1-10 1 1 1 19 1-18 1 4 1 26 1-19 1 13 1-19 1 25 1-2 1 28 1-22 1 4 1 7 1-26 1 15 1-9 1 54 1-38 1 7 1 14 1-12 1-12 1 29 1-22 1 5 1 25 1 17 1-45 1 36 1 2 1-15 1-6 1 32 1 2 1-21 1 12 1 6 1-7 1-5 1 7 1-1 1 41 1-23 1-11 1 2 1 25 1 0 1 5 1-11 1 31 1-12 1-15 1-12 1 12 1-15 1 26 1 14 1 11 1 23 1-66 1 10 1 62 1-54 1 19 1-5 1 21 1 22 1-32 1-2 1 17 1 5 1 18 1-47 1 56 1-3 1-24 1 41 1-26 1 12 1-12 1 26 1-29 1 36 1-63 1 39 1 17 1 0 1-23 1-9 1 25 1 35 1-17 1 26 1-26 1-15 1 11 1 25 1-52 1 20 1 63 1-52 1 26 1-13 1 18 1-23 1 18 1-41 1 73 1-62 1 45 1-15 1-18 1-4 1 60 1-51 1-17 1 21 1 19 1 101 1-155 1 76 1-27 1 33 1-28 1-10 1 26 1-31 1 56 1-64 1 8 1 10 1-14 1-24 1 33 1 58 1-80 1 27 1-38 1 84 1-30 1 17 1-12 1-11 1 30 1-45 1-9 1 41 1-41 1 24 1 0 1 23 1 0 1-12 1-44 1 63 1 21 1 8 1-64 1 28 1-23 1 36 1-30 1 24 1-7 1 44 1-31 1-13 1 20 1 76 1-96 1 53 1 0 1-25 1-15 1-6 1 13 1 42 1-85 1 96 1-79 1 59 1 9 1-34 1 45 1-66 1 55 1-42 1 16 1-16 1-58 1 58 1-26 1 50 1-50 1-22 1 56 1 34 1-9 1-59 1-6 1 19 1 6 1 0 1 40 1-25 1-8 1 16 1 0 1-8 1-21 1 89 1 0 1-52 1 79 1-95 1 0 1 34 1-68 1 50 1 40 1-90 1 50 1-8 1 87 1-79 1-37 1 13 1 16 1 8 1 29 1-29 1 95 1-43 1-52 1-8 1 60 1-12 1 39 1-87 1 17 1-17 1 0 1 37 1-11 1 22 1-56 1-45 1 70 1-9 1 29 1 23 1-68 1 16 1-67 1 162 1-95 1 29 1 23 1 0 1 62 1-19 1-126 1 83 1-60 1 73 1-36 1 50 1-70 1-40 1 49 1 22 1-11 1 11 1 12 1-12 1-22 1 61 1-70 1-25 1 34 1 11 1 50 1-70 1-9 1 114 1-74 1 25 1-36 1 23 1 13 1-25 1 0 1-11 1 50 1 0 1 35 1-19 1-139 1 84 1 74 1-85 1 23 1 62 1-85 1 11 1 120 1-108 1 13 1-81 1 45 1 23 1-23 1 23 1 108 1-81 1 112 1-207 1 68 1 62 1-35 1 56 1 95 1-165 1 14 1 16 1 96 1-182 1 86 1-30 1 14 1-27 1-12 1-56 1 81 1 0 1-47 1 0 1 47 1 14 1-87 1 37 1 11 1 74 1-62 1 43 1-66 1 36 1 70 1-83 1-43 1 126 1-70 1-13 1-12 1 0 1-22 1-18 1 40 1-11 1 23 1 27 1 56 1-135 1 18 1 47 1-56 1 56 1-13 1-23 1 50 1-14 1 30 1 40 1-40 1-43 1 43 1 19 1 46 1-25 1-70 1-25 1 120 1-81 1 35 1-49 1-36 1 85 1-19 1 65 1-46 1-62 1-12 1 25 1-25 1 0 1 120 1-81 1 56 1-40 1-43 1 43 1-66 1-29 1 18 1 34 1 13 1-25 1 120 1-95 1 14 1-70 1 70 1 35 1-74 1 246 1-246 1 0 1 74 1-35 1 35 1-62 1 13 1-13 1-23 1-11 1 61 1 56 1-40 1-30 1-13 1-34 1 47 1-36 1 50 1 35 1-35 1-27 1 27 1 56 1-106 1-20 1 105 1-49 1 49 1-35 1 35 1-35 1-27 1 27 1 56 1-40 1-16 1 0 1-14 1 14 1 56 1-83 1 43 1-43 1-12 1 55 1-95 1 65 1 70 1-83 1 43 1-55 1 74 1 116 1-190 1 95 1-40 1-16 1-14 1 30 1 65 1-81 1-14 1 0 1-25 1-31 1 43 1 0 1 62 1 46 1-95 1 14 1 16 1-30 1 95 1-81 1 16 1 65 1-65 1 65 1-120 1-22 1 173 1-151 1 25 1-25 1 55 1-55 1 0 1 74 1 46 1-108 1 139 1-126 1 70 1-143 1 87 1 81 1-65 1-43 1 13 1-47 1 11 1 66 1-16 1 16 1 65 1 31 1-126 1-25 1 12 1 62 1 21 1 25 1-46 1-19 1-30 1 49 1 21 1 0 1-70 1-13 1 83 1-21 1-122 1 122 1-19 1 19 1 0 1 116 1-116 1-85 1-11 1 61 1-14 1-36 1 36 1 0 1 30 1-30 1 30 1 19 1-19 1 135 1-178 1 13 1 70 1-21 1 21 1 0 1-40 1 65 1-151 1 105 1-62 1 27 1 16 1 0 1-77 1 11 1 66 1-16 1 56 1-56 1-50 1 0 1 106 1-83 1 139 1-96 1 40 1 0 1-21 1 21 1 56 1-112 1 35 1-49 1 14 1 35 1-74 1 39 1 35 1-85 1 85 1-35 1 0 1 35 1-74 1 151 1-96 1 40 1-40 1 19 1-85 1 85 1 116 1 0 1-165 1 49 1 21 1-21 1-74 1 151 1-96 1-16 1-27 1 13 1 0 1 70 1-21 1 46 1 31 1-77 1 46 1 0 1 0 1-46 1 0 1 77 1-77 1 116 1-39 1-31 1-25 1 56 1-139 1 108 1-81 1-50 1 106 1-40 1 19 1-49 1 70 1-40 1-30 1 0 1 95 1-65 1 287 1-268 1-62 1 27 1 35 1-49 1 14 1 0 1 16 1 191 1-234 1 83 1-70 1 30 1 96 1-112 1 112 1-112 1 0 1-39 1 120 1-65 1 0 1 65 1 31 1-139 1 83 1-56 1 151 1-221 1 70 1 0 1 81 1-65 1 40 1 95 1-39 1-77 1-96 1 142 1-95 1 70 1-21 1 46 1-25 1 25 1-65 1 0 1-16 1 0 1 81 1 31 1-126 1-13 1 139 1-31 1-95 1 126 1-112 1-103 1 184 1-120 1 190 1-151 1-39 1 55 1-55 1 39 1-70 1 70 1 56 1 0 1 151 1-207 1 0 1 35 1-19 1 96 1-126 1 126 1-151 1 39 1 35 1 77 1-112 1 16 1 135 1-135 1 191 1-95 1-112 1-70 1 182 1-112 1 112 1 0 1-31 1-25 1-21 1-74 1 190 1-151 1 35 1 77 1 95 1-191 1 0 1-16 1 56 1-56 1-27 1 62 1-19 1-30 1 165 1-165 1 0 1 95 1-95 1 70 1-21 1-19 1 40 1-21 1 0 1-49 1 14 1 151 1-178 1 234 1-172 1-35 1 56 1-70 1 30 1-77 1 268 1-172 1-19 1-16 1 35 1-19 1 96 1-77 1-74 1 95 1 151 1-56 1-95 1-21 1 46 1-46 1 77 1-77 1-35 1 0 1 16 1 96 1-77 1-49 1-36 1 66 1-43 1 13 1 221 1-95 1-173 1 117 1 56 1-31 1 31 1-173 1 142 1 70 1-135 1 65 1-81 1-27 1 27 1 56 1-21 1-35 1 35 1 0 1 46 1-25 1-21 1 0 1 46 1-81 1 0 1 151 1-116 1 46 1 0 1-108 1 108 1-81 1 16 1 40 1-40 1 19 1-49 1 221 1-95 1-77 1 77 1-56 1 151 1-126 1-46 1 116 1-135 1 0 1 96 1-31 1-46 1-49 1 30 1 191 1-56 1-151 1 35 1 268 1-247 1 0 1 25 1 0 1-142 1 117 1-21 1 77 1 95 1-221 1 95 1-95 1 126 1-112 1 35 1 116 1-178 1 62 1-35 1 81 1 70 1-70 1-25 1-40 1 19 1 116 1-230 1 52 1-12 1 25 1-13 1 139 1-139 1 83 1-40 1 96 1-31 1-25 1 0 1-70 1 95 1 0 1-25 1-56 1 151 1-95 1-40 1-30 1 30 1 65 1-95 1 30 1 40 1 0 1-21 1 21 1-21 1 21 1 56 1-56 1 25 1-46 1 21 1-21 1 116 1-151 1 35 1 21 1 25 1 31 1 39 1-116 1 172 1-95 1-31 1 31 1 95 1-172 1 77 1 0 1-77 1 77 1-31 1 0 1 126 1-172 1 46 1-65 1 19 1 77 1-56 1-40 1-30 1 95 1-25 1-95 1 0 1 246 1-151 1-21 1 21 1-40 1 96 1 0 1 0 1-56 1 25 1-46 1 0 1 0 1 21 1-21 1 46 1 31 1-96 1 65 1-46 1 0 1 46 1-25 1 56 1-96 1 19 1 0 1 0 1 46 1-46 1 172 1-172 1 77 1 39 1 56 1-95 1 191 1-287 1 65 1 0 1-25 1 0 1 25 1-46 1 0 1 21 1 25 1-25 1-56 1 16 1 65 1 0 1-25 1 25 1 31 1-56 1-70 1 95 1 31 1 0 1-56 1 0 1-21 1 46 1 31 1 39 1-135 1 65 1-46 1 0 1 46 1-65 1 191 1-191 1 191 1-95 1-96 1 19 1 77 1-77 1 77 1 0 1-96 1 135 1-70 1-95 1 30 1 19 1-19 1 19 1 77 1-96 1 96 1-77 1 77 1-112 1 35 1 21 1 95 1-135 1-16 1 207 1-207 1 56 1 25 1 31 1 0 1-77 1 0 1 46 1 0 1 31 1 39 1-70 1 126 1-95 1 39 1-70 1-46 1-19 1 65 1 222 1-191 1-96 1 135 1-70 1-46 1 21 1-21 1-35 1 207 1-95 1-31 1-65 1 287 1-268 1 21 1 151 1-95 1-31 1-65 1 0 1 0 1 40 1 56 1-77 1-62 1 139 1-96 1 40 1 56 1-96 1 96 1-56 1 25 1-46 1-96 1 117 1 151 1-172 1 0 1 116 1-70 1 70 1-116 1 116 1 56 1-95 1-77 1-62 1 62 1 77 1-139 1 234 1-151 1 25 1-25 1 0 1 95 1-95 1-56 1 35 1 0 1 0 1 172 1-191 1 96 1-56 1 151 1-172 1 77 1-31 1-65 1 135 1-135 1 96 1 95 1-56 1-116 1-49 1 95 1 31 1 39 1 56 1-95 1-31 1-46 1 77 1 0 1-56 1 56 1-56 1 25 1-65 1 65 1-25 1 56 1-77 1 77 1-96 1 65 1-46 1 116 1-70 1 31 1 39 1-151 1 112 1-56 1 25 1-131 1 162 1 39 1-39 1-151 1 151 1-56 1 95 1 152 1-330 1 234 1-126 1-81 1 56 1 151 1-56 1-39 1-96 1 65 1 31 1 39 1-39 1-96 1 40 1 151 1-151 1 56 1-31 1 70 1-95 1-21 1 46 1 31 1-77 1 116 1-95 1 151 1-172 1-19 1 191 1-151 1 56 1-126 1 126 1-31 1-46 1 172 1-151 1-21 1 21 1 56 1 39 1-70 1-46 1-85 1 106 1 25 1-65 1 135 1-70 1 70 1 0 1 152 1-222 1 0 1-81 1 56 1 247 1-222 1-46 1 21 1-40 1 65 1 222 1-268 1 77 1-112 1 112 1-56 1 151 1-95 1-77 1 46 1-46 1 77 1-31 1 31 1 0 1-96 1 0 1 96 1-77 1-35 1 35 1 77 1 39 1-116 1 46 1-108 1 43 1 96 1 0 1 191 1-222 1 31 1 39 1 56 1-172 1 77 1-31 1-25 1 151 1-191 1 0 1-16 1 81 1 222 1-96 1 96 1-247 1 0 1 95 1-135 1 96 1-31 1 70 1 0 1 0 1-70 1 0 1 31 1-96 1 135 1-70 1-25 1 0 1 56 1-112 1 151 1-39 1-56 1-21 1 0 1 46 1 31 1 39 1 56 1 0 1-151 1 0 1-40 1 135 1-39 1 39 1-70 1 31 1-96 1 135 1-116 1 172 1-234 1 83 1-21 1-19 1 135 1 0 1-135 1-16 1 35 1 0 1-49 1 95 1-25 1 25 1 0 1 70 1 0 1-70 1-25 1 25 1 126 1-191 1 96 1-56 1 56 1-96 1 96 1-31 1-46 1 77 1 0 1 39 1 0 1-39 1-56 1 95 1 56 1-126 1 126 1-151 1 0 1 247 1-268 1 21 1 56 1-31 1 0 1 70 1-135 1 191 1-95 1-112 1 81 1-65 1 19 1-35 1 112 1-31 1-25 1 56 1 0 1 0 1-77 1 77 1-56 1 56 1-31 1 70 1-70 1 0 1 31 1 0 1 95 1-172 1 268 1-287 1 135 1-70 1 0 1 0 1-25" stroke="#000080"/>
<path vector-effect="non-scaling-stroke" d="M0 1037l1 247 1-152 1 152 1 0 1-191 1 191 1-191 1 39 1 56 1 96 1 0 1 0 1 0 1-96 1 96 1-96 1 96 1 0 1 0 1 0 1 0 1 0 1-152 1 152 1-96 1 96 1-96 1 96 1-191 1 95 1 96 1 0 1 0 1 0 1 0 1 0 1-96 1 96 1 0 1 0 1-191 1 191 1-96 1 96 1 0 1 0 1 0 1 0 1 0 1 0 1 0 1-96 1 96 1 0 1 0 1 0 1 0 1-96 1 0 1 0 1 96 1-191 1 191 1-96 1 0 1-95 1 39 1-70 1 126 1 0 1 96 1-152 1 152 1 0 1 0 1-96 1 96 1-96 1 96 1 0 1 0 1 0 1-96 1 96 1 0 1-96 1 96 1 0 1 0 1 0 1 0 1-96 1 96 1-96 1-56 1 152 1 0 1 0 1 0 1 0 1 0 1 0 1 0 1-152 1 152 1 0 1 0 1 0 1 0 1 0 1-152 1 152 1-152 1 152 1 0 1-152 1 152 1-191 1 95 1 96 1 0 1 0 1 0 1 0 1-152 1 152 1-152 1 152 1 0 1 0 1 0 1-152 1 56 1 96 1 0 1 0 1 0 1-152 1 152 1 0 1 0 1 0 1-96 1 96 1 0 1 0 1-96 1-56 1 152 1-152 1 56 1 96 1 0 1-191 1 95 1 0 1 96 1 0 1 0 1 0 1 0 1 0 1 0 1 0 1-96 1 0 1 0 1 96 1 0 1-96 1 96 1 0 1 0 1-152 1 56 1 96 1 0 1 0 1-152 1 0 1 152 1-96 1 96 1 0 1 0 1-96 1 0 1 96 1 0 1-96 1 96 1 0 1 0 1 0 1 0 1 0 1-96 1 0 1 96 1 0 1 0 1-96 1 0 1 96 1 0 1 0 1 0 1-96 1 0 1 96 1 0 1 0 1 0 1 0 1-96 1 96 1 0 1 0 1 0 1 0 1 0 1 0 1 0 1-96 1 0 1-95 1 191 1 0 1-96 1 0 1-56 1 56 1 0 1 96 1 0 1 0 1 0 1-96 1 0 1 96 1 0 1-191 1 191 1-96 1 96 1 0 1-152 1 0 1 152 1-152 1 152 1 0 1 0 1 0 1 0 1-152 1 0 1 152 1-191 1 191 1-96 1-126 1 222 1 0 1-96 1-56 1 0 1 152 1 0 1 0 1-152 1 152 1 0 1 0 1-96 1-151 1 95 1 56 1 96 1-191 1-31 1 70 1 152 1 0 1-152 1 0 1 0 1 56 1-126 1 222 1-222 1-81 1 112 1-77 1 46 1 70 1-39 1-56 1 56 1-77 1 21 1 151 1-126 1-81 1 112 1-162 1 50 1 56 1-117 1 117 1-21 1 21 1-70 1-13 1-34 1 11 1 36 1-73 1 37 1 23 1-68 1 68 1-12 1-64 1 24 1 18 1 22 1-90 1 0 1 42 1-8 1-61 1 21 1 12 1-28 1-10 1 26 1-63 1 15 1-15 1-7 1 11 1-36 1 51 1-15 1-21 1-6 1-20 1-22 1 14 1-29 1 2 1 30 1-55 1 15 1-6 1-23 1 22 1-40 1-8 1 17 1-22 1-4 1 9 1-20 1-10 1 15 1-7 1-27 1 2 1-7 1 3 1-25 1-10 1 0 1 2 1-5 1-5 1-7 1-15 1-6 1-15 1-10 1-6 1 2 1-5 1-2 1 1 1-15 1-11 1-6 1-10 1 5 1-10 1-1 1 4 1-14 1 4 1-9 1-5 1 2 1-9 1-18 1 4 1-4 1-2 1-3 1-14 1 4 1-2 1-14 1-2 1 6 1-9 1-19 1 11 1-17 1-7 1-1 1 1 1-13 1 6 1-8 1-7 1-3 1-13 1 3 1 5 1-8 1-1 1 0 1-8 1 2 1-1 1-3 1 4 1 2 1-5 1-7 1-2 1 7 1-3 1-5 1 3 1-12 1 6 1-1 1-4 1 5 1-7 1-1 1 4 1-7 1 4 1 8 1-13 1-2 1 2 1 1 1-3 1 0 1-1 1-3 1-3 1 5 1 0 1-2 1-5 1 2 1 6 1 0 1 0 1-6 1 3 1 0 1 1 1-6 1 12 1-9 1 6 1-2 1 1 1-2 1 8 1-6 1 3 1 2 1 0 1 0 1-1 1 3 1-1 1 2 1 6 1 0 1-4 1 3 1-1 1 5 1 2 1-3 1 1 1 2 1-1 1 9 1-5 1 6 1-1 1-1 1 7 1 5 1-10 1 2 1 3 1 5 1-5 1 9 1-5 1 4 1-3 1 4 1 6 1-4 1 4 1 9 1-8 1 4 1 1 1 8 1-9 1 12 1-4 1 3 1 1 1-2 1 0 1 9 1 4 1-6 1 9 1-6 1 5 1 1 1 4 1 1 1 3 1-8 1 10 1-1 1 1 1 6 1-5 1 2 1 2 1 15 1-8 1 0 1 4 1 0 1 11 1-6 1 1 1 2 1 6 1-2 1 11 1 2 1-9 1 10 1-1 1-7 1 21 1-8 1 1 1 2 1 5 1 7 1 6 1-6 1-4 1 0 1 1 1 16 1 1 1-2 1 8 1 0 1 9 1-15 1 2 1-3 1 16 1 9 1-18 1 20 1-6 1 10 1-5 1 0 1-2 1 20 1-3 1 24 1-18 1 3 1 14 1-11 1-4 1 9 1 3 1-1 1 12 1-4 1 5 1 10 1-2 1 7 1-3 1 0 1 15 1-16 1 13 1 7 1 0 1 0 1-6 1-8 1 23 1 1 1 8 1-13 1 9 1-8 1 17 1 12 1 3 1-11 1-3 1 8 1 8 1 2 1 22 1-15 1-3 1-8 1 6 1 2 1 6 1 1 1 0 1 24 1-6 1-2 1 15 1 9 1-1 1 9 1-19 1 14 1 8 1-21 1 10 1 20 1-11 1-5 1 17 1-11 1 23 1-8 1-8 1 13 1 27 1-22 1-9 1 5 1 22 1 1 1-6 1 8 1 17 1-20 1 14 1-13 1 25 1-19 1 13 1-20 1 12 1 2 1 29 1-46 1 29 1-17 1 13 1 53 1-22 1-14 1 12 1-6 1 46 1-21 1-39 1 41 1-14 1 14 1 0 1-7 1 7 1 55 1-33 1 0 1-6 1-16 1 51 1-14 1-34 1 37 1-42 1 57 1-42 1 45 1 17 1-44 1 31 1 31 1 0 1-35 1 4 1 17 1-32 1 19 1-15 1 28 1 19 1-36 1-7 1-11 1 49 1-10 1-13 1-30 1 63 1-41 1 17 1 24 1-41 1 0 1 21 1 26 1 24 1-63 1 50 1-27 1 53 1-26 1-22 1-19 1 47 1 7 1-50 1 10 1 33 1-43 1 56 1 7 1-53 1 0 1 46 1 0 1-36 1 30 1 0 1-45 1 32 1-37 1 71 1-88 1 54 1-17 1 67 1-77 1 21 1 19 1 29 1-16 1 8 1-28 1 44 1 9 1-65 1 12 1 13 1-6 1 0 1 77 1-77 1 0 1 0 1 55 1 11 1-29 1-16 1-51 1 23 1-12 1-5 1 5 1 19 1 55 1-9 1-70 1 61 1-77 1 77 1 65 1-115 1 59 1 20 1-37 1-29 1 6 1 60 1 0 1-79 1 19 1 49 1 0 1 34 1-83 1 60 1-20 1 31 1-31 1-33 1 24 1-16 1 8 1-8 1 56 1-56 1 56 1 55 1-66 1-45 1-15 1 31 1 52 1 27 1-79 1 0 1 18 1-26 1-23 1 31 1 29 1 11 1 74 1-114 1-31 1 96 1-89 1-13 1 13 1 0 1 89 1-25 1-22 1 34 1-119 1 202 1-159 1 138 1-49 1-56 1-9 1 65 1-56 1-25 1 16 1-44 1 62 1-26 1 26 1 11 1-11 1 22 1-22 1-18 1 95 1 19 1-114 1-16 1 56 1 12 1 62 1-138 1-26 1 115 1 0 1 70 1-21 1-35 1-70 1 9 1 47 1-47 1 47 1-47 1 47 1 30 1-86 1 126 1-117 1 96 1-62 1 27 1-14 1-65 1 114 1-62 1 43 1-86 1 86 1-16 1-27 1 62 1-62 1-23 1 23 1 0 1 62 1-114 1 135 1-83 1 83 1-126 1 0 1 86 1 0 1-66 1 162 1-173 1 142 1-95 1 14 1 16 1 0 1-55 1-22 1 47 1 14 1-70 1 126 1 0 1-56 1-27 1 0 1-23 1 50 1-14 1 70 1-95 1 12 1-34 1-18 1 114 1-35 1-95 1 25 1-9 1 135 1-70 1-73 1 48 1-31 1 105 1-62 1 62 1 0 1-62 1 62 1-49 1 95 1-46 1 77 1-31 1-46 1 21 1-40 1-16 1 16 1 19 1-19 1-55 1 95 1 95 1-178 1 43 1 40 1-126 1 70 1 35 1-114 1 79 1 151 1-135 1 19 1-62 1 139 1-139 1-68 1 207 1-31 1-25 1-106 1 36 1 70 1-40 1 19 1-35 1-70 1 86 1 40 1-40 1-66 1-11 1 11 1 11 1 74 1-74 1 0 1 55 1-30 1-47 1 61 1 16 1-77 1 77 1 0 1-66 1 50 1-27 1 13 1 221 1-257 1 0 1 131 1-81 1 0 1 207 1-246 1 12 1 83 1-56 1 16 1-30 1-47 1 142 1-46 1-19 1-30 1 126 1-151 1 39 1-27 1 0 1 0 1 27 1 0 1-50 1 23 1 13 1-13 1 13 1 0 1 14 1 0 1-50 1 50 1-27 1 0 1-23 1 85 1-35 1 0 1 56 1-70 1 49 1 46 1-151 1 56 1 70 1-83 1 43 1 40 1 0 1 0 1-106 1 85 1-19 1 40 1-83 1 27 1 16 1 40 1-83 1 83 1-56 1 0 1 0 1 0 1 81 1-120 1 95 1-83 1 13 1 70 1-70 1 0 1 49 1-35 1 56 1-56 1-27 1 43 1-55 1 25 1 14 1 81 1-25 1 0 1-56 1 35 1 268 1-330 1-60 1 73 1 70 1 0 1-21 1 0 1 116 1-151 1-14 1 221 1-257 1 36 1 49 1 77 1-126 1 49 1-74 1 55 1-16 1 16 1 19 1 0 1 46 1 31 1-112 1 81 1-65 1-16 1 16 1 0 1 19 1-49 1-25 1 74 1-49 1 126 1-139 1 234 1-234 1 62 1-35 1 81 1-108 1 43 1 65 1-46 1 0 1 21 1 0 1-40 1 40 1-95 1 55 1 19 1-49 1 49 1 21 1 25 1 0 1 0 1 0 1 0 1 0 1-65 1 96 1-126 1-56 1 86 1 0 1 40 1-56 1 81 1-25 1 56 1-126 1-36 1 50 1 35 1 46 1-25 1-40 1 0 1 19 1-19 1 40 1 0 1-70 1 95 1-46 1-49 1 0 1 30 1-55 1 12 1 108 1-46 1 0 1-35 1 56 1-56 1 16 1 19 1 116 1-151 1 81 1-25 1-70 1 14 1 35 1 46 1 31 1-96 1 65 1 0 1-81 1 81 1-142 1 96 1 0 1-35 1 0 1-14 1 49 1-62 1 62 1-62 1 83 1-56 1 151 1-116 1-19 1 19 1 0 1 0 1-19 1 40 1-106 1 106 1-40 1-30 1 221 1-151 1-95 1 95 1-70 1-13 1 139 1-96 1-55 1 342 1-268 1 21 1-70 1 49 1-96 1 96 1-96 1 117 1-40 1 96 1-77 1 21 1-106 1 66 1-16 1 35 1 116 1-135 1 65 1 126 1-172 1-19 1 65 1 31 1-77 1 172 1-191 1-16 1-87 1 122 1-62 1 234 1-221 1 49 1-35 1 56 1-70 1 70 1 25 1 31 1-112 1 303 1-191 1-139 1 62 1-35 1 112 1-96 1 65 1 126 1-207 1 81 1 0 1-65 1 0 1 65 1-46 1 46 1 0 1-25 1-40 1 96 1 39 1-95 1 56 1-31 1-46 1-35 1 0 1 81 1-81 1 112 1-112 1 35 1-74 1 95 1 151 1-151 1 0 1-70 1 126 1-31 1-108 1 43 1 0 1 19 1 77 1-126 1 49 1 77 1-96 1-16 1-14 1 221 1-56 1-70 1-81 1-14 1 95 1-81 1 0 1 56 1 151 1-56 1-116 1 0 1 116 1-165 1-13 1 108 1-108 1 62 1 46 1 0 1-25 1-83 1 0 1 108 1 222 1-96 1-151 1-106 1 201 1-95 1-56 1 112 1-31 1-65 1-66 1 50 1-14 1 126 1-126 1 221 1-126 1-81 1 151 1-135 1 287 1-268 1-35 1-14 1 126 1-77 1-19 1 19 1 172 1-126 1-95 1 49 1-19 1 135 1-165 1 49 1 46 1 0 1-95 1 49 1-49 1 0 1 165 1-178 1 13 1 95 1-46 1 268 1-247 1-83 1 62 1-49 1 30 1 96 1-31 1 126 1-95 1-77 1 0 1-74 1 95 1-21 1 46 1 31 1-56 1 25 1 31 1 39 1-70 1-81 1 35 1-35 1 56 1 0 1-21 1 46 1-25 1-56 1-14 1 70 1-40 1 65 1-46 1 77 1-56 1 0 1 0 1 0 1 25 1-108 1 83 1-83 1 43 1 19 1 268 1-222 1 31 1-31 1-46 1 46 1-25 1 95 1-95 1 95 1-39 1 95 1-95 1-139 1 108 1-95 1 30 1 135 1-70 1 31 1-139 1 108 1-46 1 46 1 31 1 95 1-126 1 222 1-222 1 70 1-135 1 0 1 96 1-77 1-19 1 19 1 46 1-65 1 0 1 191 1-95 1-77 1 0 1 21 1-56 1 81 1-108 1 43 1 96 1-182 1 86 1-16 1 16 1 19 1 0 1-19 1 19 1 77 1 0 1-112 1 151 1-178 1 139 1-96 1 65 1-65 1 19 1-19 1 135 1-116 1 46 1-46 1 21 1 0 1 151 1-95 1-56 1-21 1 77 1-31 1 0 1-25 1 151 1-172 1 77 1-191 1 191 1-56 1 56 1-31 1-65 1 191 1 0 1-126 1-65 1-16 1 35 1 0 1 0 1 172 1-257 1 106 1-70 1 126 1-112 1 56 1 0 1 0 1 0 1-21 1 77 1-112 1-27 1 83 1 25 1-46 1 0 1 21 1 25 1 31 1-56 1 25 1-25 1-40 1 96 1-96 1-16 1 151 1-39 1-96 1 191 1-221 1 126 1-139 1 139 1-112 1-61 1 117 1-21 1 46 1-46 1 77 1-77 1 116 1-151 1 207 1 0 1-126 1-46 1 77 1-77 1 116 1-165 1 95 1-108 1 108 1 0 1-65 1 19 1 116 1-116 1-19 1 0 1 0 1 19 1 21 1-56 1 207 1-151 1-56 1 81 1 70 1-116 1 116 1-165 1 317 1-247 1-21 1 0 1 172 1-191 1 135 1 56 1-151 1-56 1 303 1-191 1-31 1-65 1 191 1-172 1 0 1 77 1-31 1 70 1 0 1-116 1 21 1-56 1 81 1-46 1-35 1 16 1 96 1-56 1 56 1-151 1 151 1-126 1 95 1 0 1-25 1 95 1-190 1 120 1-65 1 19 1 46 1 31 1-77 1 77 1 39 1 0 1 56 1-151 1 247 1-222 1 0 1-25 1 95 1-70 1-25 1 25 1-46 1 46 1 0 1 31 1-112 1 81 1 31 1-31 1 0 1 31 1-77 1 77 1-139 1 83 1 247 1-247 1 151 1-95 1-56 1 25 1 31 1 191 1-287 1 65 1-46 1 0 1 21 1-70 1 126 1-96 1 19 1 21 1 25 1-25 1-21 1 172 1-151 1 25 1-65 1 40 1-21 1 77 1 0 1-56 1 56 1-96 1 19 1-19 1 65 1 126 1-126 1-25 1 151 1-56 1 56 1-207 1 56 1 151 1-207 1 151 1-116 1 46 1 126 1-126 1 31 1-56 1 95 1-39 1-31 1 126 1-172 1 77 1-31 1-25 1 25 1-25 1 95 1-116 1 116 1-95 1 95 1-165 1 49 1 0 1 0 1 46 1 31 1 95 1-172 1 0 1 46 1-65 1 96 1-56 1 25 1-46 1 46 1-65 1 65 1 0 1-25 1 151 1-95 1-56 1 0 1 151 1-191 1 0 1 40 1 25 1 0 1 126 1-257 1 106 1 151 1-151 1 25 1 0 1-65 1 191 1-172 1 21 1 0 1 56 1-96 1 65 1 31 1 0 1-77 1 268 1 0 1-191 1-31 1-81 1 112 1-56 1 56 1 191 1-222 1 70 1-95 1 25 1 31 1-96 1 19 1 21 1 25 1-25 1 25 1-131 1 131 1 126 1-191 1 65 1 0 1-25 1-21 1 116 1 56 1-151 1 56 1-56 1 151 1-126 1-65 1 0 1 0 1 191 1-95 1-77 1 46 1-25 1-40 1 19 1 46 1-25 1 95 1-95 1 56 1-56 1-21 1 77 1-112 1 16 1 0 1 65 1 222 1-222 1 31 1-56 1 151 1 0 1-95 1-77 1 21 1 95 1-116 1 116 1 0 1-116 1 46 1 70 1-151 1 151 1 152 1-191 1-139 1 62 1 172 1-126 1-46 1 0 1 116 1-39 1 191 1-152 1-39 1 191 1-152 1-70 1 70 1 152 1-152 1-70 1 70 1-70 1 31 1-31 1 0 1 70 1-70 1-25 1-56 1 303 1-96 1-95 1 0 1 39 1-95 1 0 1 25 1-65 1 65 1 126 1-172 1 116 1-39 1-77 1 21 1 56 1 39 1-70 1-46 1 172 1 0 1-95 1-56 1 247 1-287 1 40 1 56 1-56 1 247 1-222 1 31 1-31 1 31 1 0 1 0 1-112 1 112 1 39 1-70 1-25 1 25 1 222 1-287 1 40 1-70 1 95 1 70 1-70 1 31 1 39 1-135 1 40 1 151 1-95 1 0 1 39 1 56 1-151 1-21 1 116 1-95 1 95 1 56 1-95 1-112 1 35 1 0 1 0 1 21 1 56 1 0 1-56 1 0 1 95 1 0 1-116 1-19 1 19 1 77 1-96 1 96 1-112 1 35 1-49 1 221 1 0 1-221 1-13 1 178 1-39 1-31 1 0 1 0 1-65 1 135 1-39 1-31 1-25 1 56 1 39 1-116 1 21 1-40 1 65 1-46 1 46 1-46 1 116 1-39 1-77 1 46 1 0 1-65 1 0 1 96 1 39 1-178 1 234 1-172 1 0 1 116 1-151 1 81 1 126 1-95 1 0 1 0 1-77 1-19 1 40 1-21 1-19 1 19 1 116 1-135 1 135 1-116 1 46 1 0 1 0 1 31 1-56 1-40 1 19" stroke="#8A00FF"/>
<path vector-effect="non-scaling-stroke" d="M0 1284l1 0 1 0 1-96 1 96 1 0 1 0 1 0 1 0 1 0 1-96 1 96 1-96 1 96 1-96 1 0 1 96 1 0 1 0 1-96 1-56 1 152 1-191 1 191 1 0 1 0 1 0 1-96 1 96 1-152 1 152 1-96 1 0 1 96 1-96 1 96 1 0 1 0 1-96 1-56 1 152 1 0 1 0 1 0 1-96 1-95 1 191 1 0 1-96 1-56 1 152 1 0 1-96 1 96 1 0 1 0 1 0 1 0 1-152 1 152 1-96 1 96 1 0 1 0 1-268 1 116 1 152 1 0 1-152 1 152 1 0 1 0 1 0 1 0 1 0 1 0 1-152 1 152 1 0 1-96 1 96 1-96 1-95 1 191 1 0 1 0 1 0 1-96 1 96 1-191 1 191 1 0 1-96 1 0 1-56 1 152 1 0 1 0 1 0 1 0 1 0 1-191 1 191 1 0 1 0 1-96 1 96 1 0 1-96 1 0 1 96 1 0 1 0 1 0 1 0 1 0 1-96 1 0 1 96 1 0 1-96 1 96 1 0 1-96 1 96 1 0 1 0 1 0 1 0 1 0 1 0 1 0 1 0 1 0 1 0 1 0 1-96 1 96 1 0 1 0 1 0 1 0 1 0 1-152 1 152 1-152 1 56 1 96 1 0 1-247 1 247 1 0 1 0 1-96 1 96 1 0 1 0 1 0 1 0 1-96 1 96 1 0 1 0 1 0 1-96 1 96 1 0 1-96 1 96 1 0 1 0 1-96 1 96 1 0 1 0 1-152 1 0 1 0 1 56 1 96 1 0 1-96 1 96 1 0 1-96 1-95 1 191 1-96 1 96 1 0 1-96 1 0 1 96 1 0 1 0 1-96 1 96 1 0 1 0 1 0 1 0 1 0 1 0 1 0 1 0 1 0 1 0 1 0 1-96 1 96 1 0 1 0 1 0 1 0 1-152 1 152 1 0 1 0 1-96 1 96 1-96 1 96 1 0 1 0 1-96 1 96 1-222 1 222 1-191 1 191 1 0 1 0 1 0 1 0 1-222 1 70 1 56 1-56 1 152 1-96 1-56 1 56 1 0 1-95 1 95 1 96 1-152 1 56 1 96 1 0 1-222 1 126 1 96 1 0 1-96 1 0 1-126 1 126 1 96 1 0 1-152 1 152 1 0 1-96 1-56 1-39 1 0 1 95 1-56 1 152 1 0 1-247 1 247 1 0 1-191 1 0 1 95 1 96 1-268 1 268 1-96 1-56 1 152 1-96 1-151 1 247 1-191 1-77 1 46 1 0 1 0 1 0 1 70 1-39 1 191 1-287 1 19 1 77 1 0 1-77 1 21 1-70 1 95 1 70 1 0 1-70 1-65 1-43 1 62 1-35 1 35 1-35 1-14 1-13 1-43 1 31 1 12 1-43 1 31 1-71 1 49 1 11 1-45 1-28 1 7 1 0 1 6 1-30 1 37 1-32 1 6 1-11 1-39 1 50 1-41 1-13 1 73 1-81 1-21 1 46 1-39 1-7 1-24 1 34 1-13 1 6 1-40 1 22 1-34 1 37 1-68 1 31 1-45 1 30 1-2 1 10 1-20 1-51 1 18 1-23 1 0 1 9 1 12 1-34 1 7 1 11 1-27 1-14 1-21 1-2 1 1 1-23 1 17 1-19 1-16 1-1 1-4 1 5 1-37 1-2 1 47 1-43 1 5 1-32 1-1 1 0 1-17 1 8 1-7 1-4 1-7 1-1 1-20 1 9 1-12 1 3 1-13 1-2 1-7 1 0 1-1 1-12 1-1 1-6 1 3 1-10 1-4 1-4 1 0 1-13 1 6 1-8 1-11 1-8 1-4 1-10 1-2 1-3 1 0 1-14 1-1 1-3 1 0 1-4 1-13 1 5 1-7 1-4 1 10 1-11 1 5 1-11 1 4 1 1 1-3 1 1 1-1 1-10 1 6 1-3 1 0 1-2 1 2 1-8 1 4 1 1 1 0 1 0 1-12 1 3 1 0 1 2 1-7 1 4 1 5 1-5 1-6 1 4 1-1 1-2 1 1 1-2 1-4 1 1 1 2 1 3 1 0 1 0 1-4 1-5 1 5 1 2 1 2 1-2 1 3 1-4 1-4 1 7 1-1 1-2 1 4 1 0 1-2 1 5 1 6 1-3 1-1 1 5 1-7 1 0 1 7 1-2 1-5 1 20 1-10 1 0 1 6 1-6 1 7 1-2 1 6 1-1 1 6 1 2 1-3 1 2 1 5 1 2 1-4 1 0 1 6 1 5 1-1 1 0 1 5 1 1 1 1 1-1 1 1 1 4 1 2 1 5 1-1 1 2 1 11 1-4 1 0 1 5 1 1 1 7 1-7 1-5 1 8 1 2 1 3 1 5 1-5 1-3 1 6 1 5 1 1 1-7 1 11 1 5 1 2 1 2 1-6 1 13 1 4 1-6 1 1 1 4 1 0 1 6 1 10 1-1 1 8 1-11 1 8 1-8 1 14 1 4 1-11 1 3 1 14 1 2 1-2 1-8 1 14 1-8 1 23 1-9 1 15 1 3 1 2 1-4 1 16 1-12 1 1 1 6 1 6 1-1 1-2 1 6 1 9 1-1 1 10 1-1 1-3 1 9 1 2 1 0 1-4 1 15 1-1 1 6 1 4 1-4 1-3 1 11 1 2 1-4 1 6 1 11 1-2 1 26 1-24 1 11 1 0 1-5 1 7 1 6 1-10 1 16 1 1 1 3 1-2 1 9 1 4 1-6 1 5 1 20 1 5 1-5 1-14 1 31 1-18 1 15 1 8 1-1 1-11 1 9 1-15 1 23 1 9 1 13 1 2 1-17 1-5 1 48 1-33 1 15 1-11 1 16 1 6 1-16 1 3 1 36 1-15 1-20 1 12 1-1 1 11 1-19 1 17 1 29 1-14 1-8 1 29 1 5 1-23 1 33 1-36 1 9 1 29 1-47 1 37 1 2 1 8 1-13 1 1 1 14 1 2 1 0 1 13 1-23 1 32 1 18 1-23 1 5 1 13 1-8 1-5 1 30 1-20 1-5 1-2 1 5 1 2 1 11 1 67 1-67 1 28 1-34 1 9 1 69 1-37 1 19 1-33 1 0 1 3 1 22 1-18 1 3 1-7 1 53 1-23 1 23 1-49 1 18 1 52 1-21 1-59 1 41 1 0 1 0 1-17 1 62 1-17 1-33 1 76 1-95 1 24 1 45 1-65 1 84 1-60 1 35 1 25 1-30 1 0 1-11 1 0 1 11 1 11 1 19 1-6 1 0 1 0 1-30 1 6 1 5 1 32 1-7 1-6 1-40 1 16 1 11 1 13 1-7 1 13 1-30 1 24 1 29 1 17 1 56 1-89 1 8 1 25 1 0 1 31 1-101 1 79 1-34 1 56 1-77 1 116 1-123 1 44 1 18 1 11 1 11 1-11 1-11 1 47 1-65 1-16 1 25 1-17 1 17 1 20 1-20 1-9 1 0 1-24 1-20 1 139 1-66 1-66 1 66 1-37 1 26 1-9 1-9 1 9 1 43 1-76 1 76 1-68 1 16 1 95 1-95 1 0 1 95 1-55 1-11 1 0 1 23 1-23 1 23 1-34 1 96 1-85 1-45 1 45 1-60 1 83 1 43 1-43 1 27 1-39 1-22 1 11 1 11 1-48 1 0 1 48 1-40 1 18 1 11 1 106 1-70 1-47 1 77 1 0 1-16 1-61 1 96 1 0 1 0 1-35 1-14 1-25 1 25 1 0 1 14 1-50 1 36 1 70 1-56 1-50 1 106 1-126 1 9 1 11 1-11 1 61 1 0 1 112 1-173 1 142 1-142 1-18 1 65 1 14 1-27 1-43 1 9 1 22 1-48 1 87 1-50 1 66 1-30 1-47 1 0 1 11 1 106 1-21 1-96 1 77 1-103 1 122 1-62 1 139 1-139 1-23 1 50 1-14 1 49 1 46 1-46 1-138 1 33 1 105 1-49 1-25 1 74 1 46 1 0 1-81 1-14 1-25 1-11 1 85 1-49 1 49 1-49 1-47 1 22 1 120 1-46 1-114 1 95 1-43 1 13 1 14 1-27 1 43 1-43 1 83 1 56 1-77 1-35 1-50 1 66 1 0 1-16 1-27 1 13 1-13 1 62 1-35 1-27 1 62 1-74 1 55 1 0 1 19 1-35 1-50 1 66 1-30 1 165 1-212 1 22 1 39 1-50 1-11 1 142 1-65 1-30 1 0 1 30 1-77 1 47 1-25 1 25 1 70 1-40 1 19 1-62 1-23 1 50 1-14 1 14 1 0 1-14 1 70 1-56 1 56 1-106 1 201 1-165 1 70 1-70 1 0 1 14 1-14 1 0 1 14 1-27 1 27 1 0 1 0 1 16 1 65 1-95 1 49 1-35 1-14 1 49 1-85 1 11 1 120 1-142 1 77 1-16 1-61 1 77 1-55 1 55 1 65 1-120 1 151 1-139 1 13 1 0 1 49 1 77 1-31 1 0 1-108 1 43 1-30 1-56 1 221 1 0 1-95 1 0 1 25 1-46 1 77 1-126 1 95 1-81 1 35 1 0 1-19 1 0 1-16 1 112 1-126 1 49 1-19 1 65 1-46 1 0 1-85 1 50 1 151 1-165 1 70 1-56 1-27 1 43 1-30 1 30 1-30 1 49 1-35 1-27 1 62 1 21 1 0 1-40 1 135 1-190 1 25 1 49 1-35 1 35 1 0 1-19 1-30 1 30 1 0 1 135 1-151 1 56 1 25 1-46 1-74 1 74 1-85 1 85 1 0 1-19 1 40 1-21 1 0 1 0 1-130 1 207 1-112 1 81 1-81 1 56 1-21 1 21 1 56 1-112 1 35 1 0 1-74 1 12 1 108 1 0 1 31 1-126 1-13 1 178 1 152 1-303 1-50 1 85 1 77 1-96 1 19 1 21 1-21 1-49 1 14 1 0 1 207 1-191 1-95 1 95 1 135 1-70 1-25 1 0 1 95 1-178 1 27 1 16 1-16 1-14 1 49 1-74 1 74 1-19 1 0 1 0 1-30 1 126 1-126 1 126 1-77 1 21 1-56 1 56 1-70 1 221 1-126 1-25 1 25 1-81 1 207 1-126 1-142 1 173 1-96 1 0 1-95 1 114 1-114 1 230 1-135 1 135 1-70 1-120 1-48 1 122 1 0 1-19 1 40 1-21 1 0 1-19 1 19 1-19 1 40 1 0 1 0 1-40 1-16 1-27 1 62 1 46 1-95 1 0 1 30 1 65 1-25 1 56 1-96 1 0 1 19 1 21 1 25 1-46 1-62 1-12 1 55 1 19 1 46 1-46 1-49 1 30 1-30 1 30 1-30 1 14 1 16 1-30 1 49 1-35 1 16 1 40 1-21 1 46 1-81 1 56 1 25 1-65 1 19 1-19 1 19 1 46 1 31 1-31 1 70 1-70 1-65 1 135 1-95 1-56 1 207 1-56 1 56 1-126 1 0 1-46 1 46 1-81 1 35 1 0 1 77 1 0 1-96 1 40 1 0 1-106 1 23 1 234 1-151 1 95 1-70 1 70 1-95 1 56 1-112 1 303 1-247 1-21 1 77 1-162 1 50 1 81 1 0 1-120 1 151 1-77 1 77 1 0 1-56 1 25 1-46 1 77 1-31 1-65 1 65 1-108 1 62 1 77 1-56 1-70 1 126 1-96 1 0 1-30 1 30 1 96 1 39 1-95 1-56 1 56 1 56 1-56 1-135 1 65 1 14 1 81 1-95 1 49 1 77 1-56 1-21 1-19 1 19 1 172 1-95 1-112 1 35 1 77 1-56 1 56 1-31 1 31 1 0 1-96 1 65 1 31 1-96 1 19 1 21 1-70 1 49 1-19 1 65 1-46 1 21 1 95 1-151 1 81 1 0 1-131 1 106 1-21 1 46 1-65 1 0 1 40 1-56 1 56 1 0 1 56 1-56 1 56 1 0 1 39 1-95 1-21 1-19 1 19 1 77 1-77 1 21 1 25 1-25 1-40 1 40 1 56 1-56 1 56 1-56 1 0 1-21 1-35 1-27 1 43 1 65 1-120 1 55 1-16 1-14 1 165 1-151 1 56 1 0 1-21 1 77 1-112 1-39 1 74 1 46 1-81 1 81 1 31 1-31 1 31 1 0 1 39 1-151 1-14 1 165 1-95 1-40 1 135 1-39 1-151 1 120 1-81 1 207 1-151 1 25 1-65 1 19 1 77 1-126 1 14 1 81 1-65 1 40 1-21 1-35 1-39 1 95 1-83 1 139 1-56 1 95 1-116 1 77 1 191 1-268 1 0 1 172 1 0 1-151 1-70 1 49 1 0 1-19 1 65 1-131 1 353 1-287 1 191 1-191 1 0 1 40 1 0 1-40 1 19 1 46 1-95 1 95 1-81 1 35 1 21 1-21 1-35 1 112 1-112 1 112 1-31 1 70 1-151 1 112 1 39 1-151 1 56 1-40 1 96 1-77 1 77 1 0 1-56 1-21 1 21 1 95 1-116 1 77 1-126 1 165 1 152 1-191 1-31 1 31 1 0 1-31 1 0 1 0 1 31 1-77 1 46 1 70 1 0 1-39 1 39 1-39 1 191 1-268 1-19 1 65 1-25 1 25 1-65 1 96 1 39 1-116 1 77 1 0 1 39 1-151 1 151 1-70 1 0 1 70 1-151 1 81 1-25 1 0 1 151 1 0 1-151 1 151 1-56 1-116 1 116 1-116 1 0 1 21 1 56 1 0 1-56 1 25 1 31 1 95 1 0 1-151 1-21 1-19 1 19 1 77 1 191 1-287 1 40 1 25 1-25 1-21 1 77 1-112 1 207 1-207 1 16 1 40 1-21 1 46 1-25 1-70 1 70 1-106 1 131 1-25 1-56 1 35 1 172 1-95 1-77 1 46 1-25 1 25 1-95 1 95 1-46 1-19 1 96 1 39 1 0 1-151 1 56 1 151 1-191 1 40 1 25 1-46 1 21 1 0 1-56 1 56 1-21 1 0 1 21 1 56 1 0 1-31 1-46 1 77 1-31 1-25 1 56 1-77 1-35 1-14 1 126 1 0 1-77 1 21 1 56 1 191 1-268 1-19 1-16 1 112 1-77 1-35 1-14 1 317 1-268 1 172 1-95 1 39 1 0 1-70 1-95 1 70 1 247 1-222 1 31 1-31 1-25 1 25 1 31 1-139 1 178 1-165 1 126 1-56 1 25 1-108 1 178 1-116 1 21 1 56 1 39 1-95 1-21 1 77 1-126 1 221 1-126 1-25 1-21 1 116 1-95 1 56 1 0 1-96 1-16 1 151 1 0 1-135 1-16 1 81 1 31 1-31 1-46 1 116 1 0 1 0 1-95 1 0 1 0 1 95 1-70 1 0 1-25 1 25 1-46 1 21 1-40 1 19 1-19 1 40 1-40 1 19 1 46 1-25 1 0 1 0 1-56 1 151 1 152 1-268 1 0 1-35 1 0 1 56 1 25 1-46 1 21 1 56 1-96 1 96 1-31 1-46 1 172 1-126 1-65 1 40 1-40 1 191 1-95 1-56 1 0 1-21 1-74 1 55 1-30 1 70 1 0 1-83 1 234 1-95 1-56 1 25 1-81 1 112 1-96 1 96 1-112 1 112 1 0 1-56 1 0 1 0 1-21 1 77 1-56 1-21 1-96 1 96 1-19 1 19 1 46 1-46 1 21 1 56 1 95 1-207 1 16 1 96 1-56 1-21 1 21 1-21 1-35 1 16 1 135 1-116 1-35 1 35 1 172 1-126 1 70 1-70 1 31 1-31 1 31 1-56 1 25 1 126 1-126 1-25 1 0 1-70 1 49 1-35 1 207 1-95 1-31 1-25 1 25 1-25 1 151 1-95 1-151 1 55 1 0 1 65 1 31 1 95 1-172 1 46 1-46 1-19 1 40 1 151 1-172 1 21 1 56 1 0 1 0 1 0 1 95 1-151 1 56 1 0 1-31 1 0 1 0 1 31 1 191 1-268 1-35 1 207 1-56 1-95 1 247 1-222 1-46 1 77 1-56 1-70 1 126 1-77 1 172 1-95 1 39 1 0 1-178 1 234 1-191 1 65 1-46 1 172 1 0 1-95 1 0 1 39 1-116 1 77 1-56 1-70 1 126 1 0 1-56 1 247 1-152 1-135 1 65 1-46 1 0 1-35 1 81 1 0 1 31 1-31 1 0 1 0 1 31 1 191 1-152 1-70 1-120 1 25 1 14 1 112 1 191 1-191 1 39 1 0 1-39 1-56 1-70 1 221 1-56 1-116 1 21 1-21 1 21 1 25 1 70 1-151 1 35 1 77 1-56 1 25 1-81 1 112 1 0 1-96 1 65 1 0 1-25 1 25 1-25 1-70 1 165 1-39 1 0 1 39 1-95 1 151 1 0 1-246 1 342 1-152 1-39 1-96 1 135 1-95 1 56 1 39 1-116 1 0 1 0 1 0 1 77 1 0 1-31 1-25 1 151 1-172 1 77 1 0 1-77 1 0 1 116 1-70 1-95 1 49 1 116 1-39 1 39 1-95 1-21 1-19 1 40 1 25 1-65 1-16 1 0 1 0 1-14 1 95 1 222 1-287 1 40 1 151 1-56 1-95 1 0 1 25 1 0 1 222 1-222 1-108 1 83 1 0 1 151 1-95 1 95 1-95 1 39 1 0 1-39 1 39 1-95 1 247 1-287 1 65 1 222 1-152 1-39 1-112 1 81 1 70 1-135 1 96 1 0 1 39 1 56 1-95 1-77 1 77 1-56 1 25 1 222 1-247 1 95 1-95 1 151 1 0 1-126 1 31 1-77 1 172 1-191 1 19 1 46 1 70 1-116 1-35 1 151 1-70 1-65 1 65 1 70 1-95 1 25 1 126 1-56 1-70 1 70 1-70 1 222 1-247 1 56 1-96 1 96 1 0 1-56 1 151 1-126 1 222 1-191 1-56 1 95 1-39 1-31 1 126 1-95 1-56 1-21 1 46 1 31 1 39 1-116 1-49 1 95 1 0 1 126 1 0 1-172 1-62 1 139 1 191 1-152 1-39 1 95 1-126 1-25 1 56 1 39 1-95 1 25 1-65 1 19 1 77 1 39 1-116 1 77 1 39 1-39 1-126 1 30 1 135 1-135 1 65 1-46 1 116 1-165 1 49 1 46 1 70 1 0 1 0 1-39 1-126 1 221 1-95 1 39 1-95 1 56 1 95 1-56 1 0 1-135 1 96 1 95 1-172 1-19 1 135 1-95 1-40 1-16 1 81 1 70 1 0 1-95 1-21 1 46 1 70 1-39 1-126 1 70 1-70 1 95 1 126 1-221 1 126 1-96 1 135 1-70 1 0 1-25 1 56 1-112 1 56 1 95 1-116 1-19 1 135 1 152 1-152" stroke="#8C008C"/>
<path vector-effect="non-scaling-stroke" d="M0 1132l1 56 1 96 1 0 1 0 1 0 1 0 1 0 1-96 1 96 1 0 1-96 1-56 1 56 1 96 1-96 1 96 1 0 1 0 1 0 1 0 1 0 1 0 1 0 1-152 1 152 1 0 1 0 1 0 1 0 1-152 1 56 1 0 1 96 1 0 1 0 1-96 1 96 1-96 1 0 1 0 1 96 1 0 1-96 1 0 1 96 1 0 1 0 1-96 1 96 1 0 1 0 1 0 1 0 1-191 1 191 1 0 1 0 1-96 1 96 1 0 1-152 1 152 1-152 1 152 1-152 1 152 1 0 1 0 1-96 1 96 1 0 1 0 1-152 1 56 1 96 1 0 1 0 1 0 1 0 1 0 1 0 1-96 1 96 1 0 1-152 1 152 1 0 1 0 1 0 1 0 1-96 1 96 1-96 1 96 1 0 1-96 1 96 1 0 1 0 1 0 1 0 1 0 1 0 1 0 1 0 1 0 1 0 1 0 1-191 1 191 1 0 1 0 1 0 1 0 1 0 1-96 1-56 1 0 1 152 1 0 1 0 1-152 1 56 1-56 1 152 1 0 1 0 1 0 1 0 1 0 1-152 1 152 1 0 1 0 1 0 1 0 1 0 1 0 1-96 1-56 1 152 1-96 1 96 1-152 1 152 1-96 1-56 1 56 1 96 1 0 1-152 1 152 1 0 1-96 1 96 1-96 1 96 1 0 1 0 1-191 1 95 1-56 1 0 1 152 1 0 1-152 1 152 1-96 1 96 1 0 1-152 1 152 1-222 1 222 1-96 1 96 1-96 1 96 1 0 1-96 1 0 1 0 1 96 1 0 1 0 1-152 1 152 1 0 1 0 1 0 1 0 1 0 1 0 1-96 1-56 1 56 1 96 1 0 1 0 1 0 1 0 1-96 1 96 1 0 1 0 1-152 1 152 1-152 1-39 1 95 1 96 1 0 1-152 1 152 1-96 1 0 1 0 1 96 1 0 1-96 1 96 1-96 1 96 1-222 1 126 1 96 1-152 1 152 1 0 1 0 1-191 1 95 1 96 1 0 1-191 1-31 1 31 1 191 1 0 1 0 1 0 1 0 1 0 1 0 1 0 1 0 1 0 1 0 1-152 1 56 1 0 1 0 1 96 1 0 1-96 1-95 1 191 1 0 1-191 1-31 1 31 1-31 1 126 1-95 1 191 1 0 1-96 1-95 1-31 1 222 1-152 1-135 1 287 1-191 1-77 1 172 1-56 1 0 1 56 1-126 1 31 1 39 1 152 1-152 1-70 1-46 1 268 1-247 1 95 1-116 1 0 1 21 1 151 1-95 1-112 1 16 1 19 1-19 1 40 1-56 1-14 1 30 1 96 1-31 1-65 1-43 1 62 1-62 1 108 1-197 1 55 1 61 1-79 1-16 1 56 1 25 1-102 1-7 1 28 1 0 1 25 1-53 1 62 1-18 1-37 1-40 1 46 1-41 1 5 1-24 1 14 1 10 1-15 1 15 1-45 1-11 1 23 1-12 1 21 1-9 1-45 1-15 1-7 1 31 1-34 1-7 1 5 1 21 1-38 1-4 1-8 1-4 1-15 1-8 1-21 1-6 1 0 1-5 1-4 1 4 1 5 1-53 1 1 1 31 1-25 1-11 1-10 1-10 1-11 1 8 1-20 1 1 1-23 1 14 1-27 1-11 1-6 1 2 1-2 1-21 1 7 1 0 1-9 1-15 1 12 1-22 1-5 1 0 1-11 1-5 1 1 1-9 1 7 1-7 1-4 1-9 1-6 1-6 1 8 1-4 1-14 1-13 1 5 1-17 1 0 1-6 1 1 1-8 1-1 1-20 1 9 1-15 1-10 1 8 1-9 1-3 1-8 1 5 1-2 1-9 1-6 1 1 1 2 1-11 1 2 1-6 1 8 1-3 1-5 1 5 1 1 1-14 1 5 1-2 1 1 1-5 1-7 1 7 1 3 1-8 1 0 1 0 1 1 1-4 1-6 1-2 1 1 1 10 1-10 1 2 1-6 1 3 1 0 1 1 1-1 1 0 1 0 1-6 1 6 1-8 1 5 1 2 1-6 1 8 1-5 1-1 1 0 1 0 1-4 1 8 1 2 1-7 1 2 1-2 1 5 1 5 1 0 1 1 1-4 1 7 1-1 1 0 1 1 1 4 1-7 1 11 1-3 1 0 1 6 1 1 1 6 1-4 1 1 1-2 1 8 1 3 1-1 1-2 1-1 1 6 1 8 1-2 1-3 1 5 1 5 1-2 1 4 1 1 1 3 1-1 1 7 1-5 1 8 1-2 1 11 1-10 1 12 1-8 1 4 1 6 1 6 1 1 1 2 1-3 1 2 1 3 1 2 1 0 1-2 1 10 1 3 1 1 1-5 1-2 1 14 1-4 1 12 1-10 1 8 1 3 1 1 1 5 1 8 1-2 1 8 1 5 1 8 1-18 1 11 1-2 1 2 1 2 1 3 1 6 1 4 1 2 1-6 1 9 1 1 1 4 1 2 1-1 1 14 1 5 1-7 1 8 1 2 1-11 1 17 1 5 1-2 1-1 1-2 1 24 1 1 1 4 1-5 1 8 1 7 1-21 1 2 1 20 1 12 1-38 1 38 1-12 1 5 1 1 1 16 1-9 1 10 1 1 1 12 1-4 1 5 1 9 1-4 1 18 1-5 1 20 1-23 1 7 1 16 1-6 1-14 1 10 1 7 1-11 1 6 1 15 1 0 1 9 1 1 1 5 1-21 1 33 1 28 1-29 1 10 1-17 1 29 1-19 1 13 1 3 1-9 1 12 1 5 1-13 1 20 1 19 1-7 1-24 1 5 1 17 1 11 1-4 1 24 1 3 1 2 1 11 1 4 1-23 1 30 1-16 1 39 1-32 1 11 1-26 1 20 1 0 1-14 1 9 1 17 1 8 1-14 1 35 1-17 1 19 1-7 1-9 1 44 1-38 1 15 1 29 1-55 1 37 1 0 1 35 1-4 1 0 1 28 1-13 1-52 1 0 1 0 1 30 1 22 1 8 1 9 1-21 1 0 1 35 1-23 1 0 1-19 1 24 1-20 1-8 1 73 1-50 1-39 1 31 1-7 1 28 1 15 1-10 1 38 1-47 1 35 1-11 1-5 1-19 1 30 1-6 1-10 1-14 1 4 1-8 1 45 1 6 1-6 1 0 1-62 1 75 1-19 1 135 1-146 1 11 1 6 1 59 1 20 1-29 1 18 1-34 1-34 1 13 1-19 1-5 1 17 1 20 1 0 1 42 1-49 1 40 1-17 1-16 1 64 1-40 1-44 1 28 1 8 1 37 1-45 1-8 1-32 1 74 1-18 1 29 1-60 1 0 1 49 1-9 1-76 1 76 1-25 1-8 1 8 1 16 1-24 1 0 1 53 1-20 1 56 1-13 1-23 1-29 1 29 1-11 1-26 1 8 1 9 1-9 1 18 1 117 1-117 1 61 1 35 1-85 1 23 1-60 1 26 1 47 1-36 1 0 1 0 1-29 1-24 1 64 1-11 1-20 1-25 1 81 1-25 1 0 1 25 1-13 1-52 1 114 1-114 1 9 1 31 1-11 1-11 1 117 1-143 1 103 1-43 1 27 1-27 1-23 1-11 1 61 1-39 1 120 1-25 1-40 1-77 1 61 1-39 1 74 1-74 1 25 1-56 1 31 1 39 1-50 1 36 1 0 1 0 1-65 1 160 1-108 1 108 1-108 1 108 1-95 1-73 1 168 1-95 1-56 1 182 1-112 1 16 1-66 1-20 1 86 1-30 1 30 1 0 1 40 1 151 1-221 1-13 1-34 1 142 1-120 1-11 1-29 1 65 1 0 1-13 1-68 1 68 1 62 1-105 1 86 1-111 1 111 1-55 1-11 1 50 1 81 1-81 1-87 1 87 1-27 1 178 1-165 1-25 1-22 1-18 1 29 1 85 1-49 1 30 1 40 1-135 1 114 1-49 1 30 1 0 1-55 1 12 1 0 1-34 1 61 1-61 1 77 1-43 1 0 1 27 1 81 1-108 1-34 1 22 1 12 1 43 1-16 1-39 1 0 1 55 1 96 1-139 1 13 1-47 1-18 1 65 1 0 1-13 1 108 1-65 1-30 1 49 1-35 1-14 1-25 1 120 1-95 1 30 1-103 1 48 1 55 1-43 1 27 1-27 1 0 1 0 1 27 1 56 1 25 1-168 1 87 1 16 1 65 1-65 1-30 1-47 1 47 1 0 1 49 1-62 1 27 1 56 1-83 1-23 1 257 1-221 1 14 1 16 1-16 1 56 1-40 1-95 1 29 1 106 1 0 1-40 1 0 1 0 1-55 1 25 1 95 1-25 1-56 1-14 1 95 1-95 1 14 1 112 1-162 1 85 1-49 1-13 1 27 1 35 1 116 1 56 1-277 1 126 1 25 1-108 1 0 1 83 1 56 1 0 1-126 1 49 1 21 1-70 1-13 1 43 1-55 1 74 1 21 1-83 1 27 1-39 1 74 1-96 1 117 1-56 1-39 1 120 1-81 1 112 1-126 1-47 1 117 1-40 1 135 1 0 1-95 1-21 1-85 1 85 1 0 1 21 1-40 1 19 1 77 1-56 1 0 1-21 1-35 1-39 1 55 1-43 1 83 1-40 1 0 1-43 1-12 1 120 1-108 1 0 1 13 1 70 1 25 1-46 1-35 1-14 1 14 1 16 1 0 1 135 1-135 1 40 1-21 1-74 1 74 1 0 1 0 1-49 1 30 1 40 1 56 1 0 1-77 1-74 1 74 1 116 1-95 1 56 1 39 1-178 1 43 1 65 1-25 1-21 1-74 1 55 1-43 1 43 1-16 1 16 1 0 1 19 1-35 1-61 1 77 1 0 1 135 1-95 1 0 1-70 1 70 1 0 1-40 1 65 1-65 1-30 1 95 1-25 1 0 1-40 1 40 1-56 1 0 1-14 1 95 1-65 1 0 1-30 1 0 1 49 1 0 1 0 1-74 1 74 1 21 1-40 1 19 1 46 1-95 1 70 1-40 1 19 1 21 1-95 1 74 1 21 1-70 1 14 1-50 1 85 1 0 1 77 1 0 1-77 1-35 1 16 1 0 1 0 1 135 1-116 1-74 1 55 1-16 1 35 1 0 1 172 1-172 1-19 1 19 1-19 1 191 1-234 1 0 1 43 1 0 1-66 1 85 1 0 1 77 1-56 1 25 1-25 1-70 1 49 1 116 1-135 1 0 1-30 1 30 1-86 1 221 1-151 1 56 1 56 1-56 1 0 1-21 1 77 1-112 1 0 1 0 1 35 1-49 1-13 1 234 1-151 1-21 1-85 1 66 1 65 1-46 1-74 1 55 1 0 1-30 1 30 1-43 1 62 1 116 1-39 1 0 1 39 1-116 1 21 1-40 1 96 1-126 1 95 1-108 1 108 1 31 1-151 1 120 1-65 1-16 1 81 1 0 1 31 1 0 1-77 1 77 1-56 1-70 1 14 1 0 1 56 1 56 1-112 1 0 1 81 1 126 1-126 1-25 1-40 1 65 1 0 1 126 1-95 1-31 1-81 1 16 1 65 1-46 1-19 1 0 1 135 1-95 1-56 1 112 1-31 1-46 1-35 1 16 1-66 1 66 1-30 1 70 1 95 1-39 1-56 1 25 1-46 1 21 1 95 1-95 1 0 1 25 1 0 1 31 1 95 1-221 1 70 1-21 1-19 1 0 1 65 1 0 1-25 1 25 1 0 1-95 1 70 1 56 1-31 1 126 1-95 1-96 1 65 1-65 1-66 1 162 1-96 1 96 1-77 1-35 1 16 1 0 1-16 1-14 1 95 1 31 1-77 1 46 1-25 1-56 1 151 1-151 1-50 1 131 1-95 1 30 1-30 1 70 1 56 1-31 1-81 1 151 1-116 1 0 1 21 1 0 1 25 1-25 1 25 1 70 1-95 1 0 1 0 1 0 1-21 1-35 1 0 1 112 1-112 1 35 1 77 1-151 1 39 1 56 1-56 1 35 1 77 1 0 1-56 1 0 1-40 1 19 1 46 1-46 1 116 1-116 1 21 1 25 1-95 1 70 1 151 1-126 1 31 1 39 1-151 1 16 1 19 1 0 1 0 1 0 1 21 1-70 1 95 1-131 1 50 1 16 1-30 1 95 1-81 1 81 1 0 1-81 1 16 1-30 1 165 1 0 1-70 1 0 1-81 1 35 1-35 1 35 1 46 1-81 1-39 1 74 1 116 1-70 1-46 1 0 1 21 1 25 1-65 1 40 1-56 1 56 1 0 1 25 1-25 1-83 1 108 1-81 1 151 1-95 1 25 1-65 1 135 1-70 1-25 1 95 1-135 1 19 1 21 1-40 1-55 1 0 1 120 1-25 1 0 1-40 1-16 1 35 1-49 1 165 1-95 1 56 1 0 1-77 1 116 1-116 1-19 1 65 1-65 1 65 1 31 1-77 1-19 1 96 1-56 1 25 1-25 1 25 1 70 1-95 1-21 1 0 1-62 1 62 1 77 1-112 1 56 1 95 1-95 1-21 1 46 1 0 1 31 1-77 1-49 1 95 1 222 1-222 1 31 1-77 1-35 1 81 1-25 1-40 1 96 1-31 1-25 1 25 1-108 1 139 1 0 1-56 1-21 1 21 1 247 1-268 1 268 1-330 1 0 1 178 1-70 1-46 1 21 1 95 1-151 1 151 1-39 1-126 1 317 1-247 1 151 1-126 1 0 1 70 1-116 1-19 1 65 1 0 1 126 1-95 1 0 1-56 1 151 1-172 1-49 1 70 1 56 1-96 1 40 1-56 1 16 1 40 1 25 1 70 1-116 1-35 1 207 1-126 1-46 1-19 1 135 1-95 1 25 1 0 1 0 1 0 1-81 1 303 1-268 1 77 1 0 1-56 1-83 1 139 1-77 1 0 1 46 1 31 1 191 1-96 1-151 1 95 1-95 1 25 1-25 1-21 1 21 1 0 1 56 1-31 1-65 1 19 1-35 1 16 1 191 1-56 1-39 1-56 1 0 1 56 1-77 1 172 1 0 1-56 1-95 1 56 1 0 1-56 1 56 1 95 1-151 1 151 1-151 1-21 1 172 1-151 1 151 1-126 1 0 1-25 1-56 1 0 1 303 1-191 1 39 1 56 1-126 1-95 1 221 1-151 1 95 1-70 1 31 1 39 1-116 1 116 1-70 1 126 1-126 1-46 1 268 1-287 1 19 1 46 1-46 1 46 1 126 1-56 1-95 1 151 1-56 1-135 1 65 1-25 1 151 1-191 1 65 1-46 1 116 1-135 1 96 1-31 1 70 1-39 1-96 1 96 1 95 1 0 1-95 1 0 1 0 1 0 1-126 1 95 1 31 1 0 1 95 1-56 1-95 1 0 1 0 1 56 1-77 1 0 1 0 1 172 1-95 1-56 1 151 1-95 1-77 1 46 1-81 1 0 1 0 1 35 1-19 1 40 1 151 1-191 1 40 1 0 1 95 1-135 1 65 1 126 1-172 1 0 1 172 1-172 1 46 1-46 1-19 1 191 1-151 1 0 1 56 1-56 1 95 1 56 1-95 1-77 1 116 1-39 1 0 1-31 1 0 1-95 1 165 1-95 1 25 1-46 1-19 1 191 1-56 1-95 1-21 1 46 1-46 1 0 1 77 1-96 1 0 1 191 1-95 1-56 1 25 1 0 1 126 1-221 1 30 1 40 1 151 1-172 1 46 1 31 1 95 1-56 1-135 1 135 1-70 1-25 1 56 1-56 1 25 1-25 1 25 1 0 1-25 1-21 1 77 1 0 1-77 1 172 1-151 1 56 1-112 1 35 1 116 1 56 1-126 1 0 1 70 1-151 1 81 1 0 1-46 1 77 1-31 1 126 1-151 1-40 1 135 1-95 1 25 1 0 1 0 1-46 1 46 1 126 1-126 1 70 1-95 1 56 1-31 1-46 1 172 1-191 1-16 1 56 1 151 1-191 1 135 1-116 1 77 1-56 1 0 1 56 1-56 1 25 1 70 1-70 1-25 1 25 1 0 1-65 1 96 1-77 1 46 1 31 1-56 1 0 1-40 1 135 1-70 1 70 1-116 1 21 1-21 1-19 1 65 1-25 1 25 1 70 1-95 1-56 1 112 1 95 1-56 1-95 1 95 1-70 1-46 1 0 1 77 1-77 1 21 1 0 1-21 1-19 1 135 1-116 1 0 1 21 1-21 1 116 1-116 1 0 1-49 1 49 1 77 1-31 1-46 1 116 1 0 1-95 1 95 1-70 1 70 1-39 1-31 1 0 1 70 1-95 1 25 1-46 1 46 1-25 1 25 1-65 1 191 1-95 1-31 1 70 1 0 1-151 1 112 1-31 1 70 1-39 1 95 1-191 1 40 1 247 1-268 1 172 1-95 1 0 1 0 1 0 1-96 1 65 1 31 1-56 1 95 1-135 1 65 1-25 1 25 1 31 1 95 1 96 1-191 1 39 1-39 1-31 1 222 1-152 1-70 1-46 1 172 1-126 1 0 1-65 1 96 1-96 1 40 1 247 1-268 1 21 1-21 1 0 1 116 1-116 1 172 1-191 1 135 1-95 1-21 1 116 1-70 1-65 1 96 1-112 1 0 1 151 1 56 1 96 1-191 1 39 1 56 1-56 1-116 1 77 1 0 1 191 1-152 1-151 1 35 1 21 1 25 1 0 1-46 1 46 1 0 1-25 1-21 1 46 1-81 1 151 1-95 1-40 1 191 1-95 1 0 1-96 1 135 1-70 1-65 1 287 1-268 1 0 1 77 1-77 1 46 1 0 1 31 1-31 1-65 1 40 1 56 1-96 1 96 1-56 1 95 1 152 1-268 1 172 1-95 1 39 1-95 1-56 1 81 1-95 1 95 1-46 1 116 1-70 1 222 1-222 1-81 1 35 1 116 1-116 1 0 1 116 1-95 1 151 1-191 1-16 1-27 1 234 1-221 1 95 1 0 1 0 1-46 1 77 1-56 1 56 1 95 1-95 1-112 1 112 1 39 1-95 1 0 1 56 1-31 1 31 1-112 1 16 1 96 1 0 1-31 1 126 1-151 1 25 1 0 1 70 1-95 1 95 1-70 1-65 1 65 1 31 1-56 1 151 1 0 1-126 1 31 1-112 1 56 1 25 1 0 1-65 1 40 1-21 1 77 1 0 1-56 1 56 1 39 1-70 1 0 1-95 1 30 1 96 1 0 1-77 1 116 1-95 1 25 1-25 1 95 1-116 1 0 1 46 1 70 1 0 1 0 1-95 1-21 1 21 1 95 1-116 1-19 1 40 1-40 1 135 1-135 1 19 1-19 1 135 1 56 1-56 1-116 1 116 1-70 1 70 1-95 1 25 1-46 1-85 1 201 1-151 1 81 1-46 1 21 1 56 1-56 1 95 1-95 1 95" stroke="#960000"/>
<path vector-effect="non-scaling-stroke" d="M0 1284l1-96 1 96 1 0 1-152 1 152 1 0 1 0 1-96 1 96 1-96 1 0 1 96 1 0 1 0 1 0 1-96 1 96 1 0 1 0 1 0 1 0 1 0 1-96 1 96 1 0 1 0 1 0 1 0 1-96 1-126 1 126 1 96 1-96 1 96 1-96 1 96 1 0 1-96 1 96 1 0 1 0 1 0 1 0 1 0 1-96 1 0 1 0 1 96 1-96 1-56 1 152 1 0 1 0 1 0 1 0 1 0 1-96 1 96 1 0 1-152 1 0 1 152 1-191 1 191 1 0 1-96 1 0 1 96 1-96 1 96 1 0 1-152 1 152 1-96 1 96 1-191 1 191 1 0 1-96 1 96 1-152 1 56 1-126 1 222 1 0 1 0 1 0 1-96 1 96 1-152 1 152 1-96 1-56 1 152 1-96 1-56 1 152 1 0 1-96 1 96 1-96 1 96 1-96 1 0 1 96 1 0 1 0 1-96 1 0 1 96 1 0 1 0 1 0 1-152 1 152 1 0 1 0 1-152 1 152 1 0 1 0 1 0 1 0 1 0 1-96 1-95 1 191 1 0 1 0 1 0 1-96 1 0 1-56 1 56 1 96 1 0 1 0 1 0 1 0 1-96 1 96 1-152 1 152 1 0 1 0 1 0 1 0 1 0 1-96 1 0 1 96 1 0 1 0 1-96 1 96 1-96 1 96 1 0 1 0 1 0 1 0 1 0 1 0 1-96 1 96 1 0 1 0 1 0 1 0 1 0 1 0 1-96 1 96 1-96 1 96 1 0 1 0 1 0 1 0 1-96 1 96 1 0 1 0 1-152 1 152 1 0 1 0 1-96 1 96 1 0 1 0 1 0 1 0 1-96 1 96 1 0 1 0 1 0 1 0 1 0 1 0 1 0 1 0 1 0 1-96 1 96 1-96 1 96 1-152 1 152 1-96 1 96 1-96 1 96 1 0 1 0 1 0 1-96 1 96 1 0 1 0 1-96 1-56 1 152 1-96 1 0 1-56 1 152 1 0 1 0 1 0 1-152 1 152 1 0 1-152 1 56 1 0 1 96 1-191 1 191 1 0 1 0 1-96 1 0 1-126 1 70 1 152 1-191 1 95 1 0 1 96 1-222 1 222 1 0 1 0 1 0 1-96 1 0 1 96 1 0 1-152 1 56 1-95 1 39 1-70 1 126 1 96 1 0 1 0 1-152 1 152 1-152 1 152 1-222 1-25 1 151 1 0 1-56 1-39 1-77 1 116 1 0 1-70 1 70 1 0 1-95 1-70 1 165 1-39 1 0 1 0 1-31 1 70 1 0 1-95 1-70 1 95 1-81 1-39 1 55 1 65 1-95 1 0 1 14 1-50 1-29 1 114 1-130 1 95 1 16 1-30 1-36 1-20 1-25 1-21 1 29 1-29 1 29 1 17 1-86 1 46 1-30 1 5 1 12 1-17 1 5 1-16 1 22 1-22 1 41 1-84 1 7 1 0 1-11 1 7 1 17 1-53 1 29 1-7 1-4 1-6 1-18 1-30 1 9 1-14 1 5 1-17 1 26 1-7 1-36 1 34 1-27 1-7 1-50 1-15 1 34 1-26 1 11 1-6 1 8 1-33 1 14 1-11 1-26 1-1 1-16 1-6 1 6 1 5 1-11 1-15 1-2 1-8 1-1 1-25 1-3 1-9 1-19 1 4 1-7 1-5 1-13 1-3 1 12 1-13 1-9 1-6 1-3 1-7 1 2 1-11 1-2 1 3 1-14 1 0 1-7 1 0 1-2 1-14 1-5 1-5 1-5 1 3 1-10 1-11 1-7 1 4 1-13 1-12 1-4 1-8 1 0 1-5 1 6 1-14 1-5 1-1 1-6 1 2 1 0 1-3 1-2 1-8 1-1 1 0 1 8 1-12 1 3 1-3 1-1 1-5 1 9 1-8 1-6 1 7 1-9 1 0 1-1 1 1 1 0 1 3 1-7 1 4 1-6 1-4 1 1 1 5 1-2 1 2 1-2 1-3 1-6 1 1 1 0 1 0 1 0 1 2 1-2 1 0 1 0 1 9 1-5 1-9 1 5 1 4 1-9 1 6 1 11 1-12 1 5 1 1 1-1 1 4 1-5 1 2 1 4 1-2 1 2 1 2 1-1 1 10 1-4 1-1 1 3 1 1 1-2 1 13 1-1 1 3 1-6 1 2 1 3 1 3 1 7 1 3 1-4 1 5 1-5 1 9 1-2 1 0 1 4 1 2 1 0 1 9 1-2 1 1 1 1 1 5 1-3 1-3 1 20 1-12 1 6 1 4 1-2 1 4 1-5 1 8 1 0 1 5 1 13 1-6 1-2 1 4 1 2 1 5 1-5 1 8 1-3 1 2 1 3 1-2 1 5 1 3 1 17 1-9 1-4 1 8 1-2 1 5 1 8 1 2 1 11 1-11 1 2 1 13 1-3 1 3 1-9 1 7 1 8 1 10 1-10 1 13 1-8 1-1 1 14 1 4 1-3 1 15 1 6 1-5 1-6 1 18 1-15 1-1 1 16 1-1 1 4 1 3 1-8 1 15 1-1 1 10 1-13 1 7 1 19 1-1 1-2 1 8 1-4 1-4 1 5 1 29 1-17 1-4 1 11 1 2 1 7 1-11 1 17 1-5 1 19 1-15 1 9 1 7 1 0 1 13 1 7 1 0 1-4 1-8 1 16 1 26 1-25 1 22 1 0 1-16 1 20 1-24 1 55 1-40 1 17 1 12 1-9 1 18 1 12 1-16 1 18 1-5 1-7 1-11 1 29 1-14 1 26 1-32 1 14 1 20 1-5 1 10 1 51 1-16 1-42 1 20 1-7 1 3 1 17 1-4 1-40 1 11 1 20 1-11 1 58 1-25 1 20 1-29 1 27 1 16 1-22 1-4 1 34 1-28 1 20 1 15 1-10 1 13 1 6 1 0 1 0 1-42 1 74 1 11 1 17 1-63 1 24 1-15 1 54 1-45 1-6 1 42 1-23 1-3 1 11 1-18 1 66 1-78 1 0 1 26 1 15 1 37 1-33 1 0 1-12 1-7 1 24 1-13 1 64 1-68 1 17 1 4 1 14 1 16 1 0 1-26 1 71 1-45 1 24 1-30 1-15 1 10 1 0 1 56 1-21 1-7 1 7 1-54 1 0 1 35 1 6 1 42 1-104 1 112 1-61 1 17 1 7 1-13 1-41 1 54 1-19 1 56 1 9 1-9 1-72 1 0 1 81 1-40 1 23 1-74 1 66 1 56 1-71 1-6 1 21 1 45 1-29 1-82 1 74 1 17 1-25 1-34 1-11 1 37 1 0 1-58 1 58 1 33 1-17 1 0 1-48 1 96 1-96 1 25 1 0 1-6 1 66 1-45 1-45 1 24 1 6 1 83 1-23 1 23 1-60 1 0 1-8 1-8 1 33 1 9 1-42 1 42 1 47 1-25 1-64 1 8 1 45 1 66 1-66 1-45 1 25 1 31 1-40 1 9 1 43 1-60 1 60 1-43 1 9 1-18 1 52 1-23 1 36 1 0 1 14 1-79 1-8 1 17 1 56 1 0 1 0 1-13 1 13 1 49 1-49 1-73 1 73 1 0 1-13 1-12 1 12 1-43 1 56 1-47 1 11 1-37 1 48 1 39 1 35 1-74 1 0 1 25 1-13 1 13 1 95 1-46 1-35 1-50 1 50 1-27 1-23 1 36 1-73 1-8 1 56 1 0 1-40 1 0 1 79 1-50 1 11 1-56 1 81 1-56 1 43 1 13 1 0 1 126 1-126 1 49 1 77 1-112 1 56 1-83 1-43 1 70 1 16 1-43 1 27 1-50 1 23 1-43 1 126 1-143 1 122 1-74 1 25 1-81 1 151 1-95 1 74 1-35 1 0 1 0 1-27 1-34 1 61 1 35 1-62 1 0 1-12 1-31 1 43 1 83 1-21 1-62 1 13 1 95 1-81 1-39 1 0 1 39 1 35 1-85 1 50 1-27 1 0 1-12 1 25 1 0 1 30 1 96 1-96 1-86 1-9 1 52 1-76 1 89 1-36 1-11 1 142 1-81 1-50 1 106 1 56 1-126 1-36 1 131 1-120 1-11 1 11 1 95 1-126 1 70 1-27 1 27 1 35 1-49 1 0 1 95 1-120 1 25 1-25 1 39 1-39 1 25 1-13 1 13 1-13 1 13 1-56 1 43 1 83 1-95 1 74 1-114 1 52 1 13 1-65 1 95 1-30 1 14 1 16 1-66 1-11 1 77 1-16 1 0 1-14 1-36 1 50 1 35 1-62 1 0 1-23 1 66 1-30 1 70 1-40 1 19 1 0 1-96 1 364 1-342 1-40 1 65 1-36 1 50 1-39 1 55 1-16 1-50 1 85 1-74 1 55 1-43 1 108 1 0 1-81 1 0 1-50 1 36 1 14 1-50 1 66 1-43 1 178 1-95 1 25 1-95 1-25 1 190 1-165 1 70 1-135 1 79 1 35 1 21 1-21 1 21 1 0 1-21 1 0 1 21 1-56 1 16 1-43 1 43 1-16 1 16 1-43 1 62 1 116 1-95 1-83 1 43 1 65 1-25 1-40 1 0 1 19 1-49 1-13 1 13 1 49 1-35 1-39 1 12 1 27 1-27 1 83 1-40 1 40 1-21 1 77 1-56 1 25 1-65 1-16 1 151 1-70 1-108 1-12 1 74 1 0 1-114 1 52 1 43 1 19 1-35 1 0 1 112 1-56 1-21 1-62 1 27 1-14 1 14 1-14 1 49 1-49 1-13 1 27 1 35 1-62 1 27 1 16 1 65 1-120 1 74 1 0 1-74 1-11 1 11 1 74 1 21 1 56 1-182 1 70 1-14 1 95 1-108 1-23 1 66 1-86 1 20 1 85 1 21 1-40 1-86 1 70 1 56 1-21 1-19 1 19 1-19 1-16 1-50 1 50 1 35 1-19 1 65 1-108 1 83 1 25 1-25 1-40 1-30 1 126 1-112 1 0 1-27 1 108 1-65 1-16 1 16 1-77 1 96 1-35 1 16 1 96 1-126 1 49 1-35 1-14 1 14 1-14 1 70 1 25 1-46 1-19 1 40 1 25 1-108 1-12 1 55 1-43 1 139 1-31 1-65 1 40 1 56 1-96 1 65 1-108 1 43 1-16 1 112 1-96 1 0 1 19 1 46 1-65 1-55 1 25 1 14 1 112 1-77 1-62 1 27 1 0 1-27 1 83 1-40 1 0 1 135 1-116 1 77 1-126 1 70 1 25 1-95 1-25 1 95 1 56 1-191 1 95 1 40 1-40 1 40 1-117 1-18 1 160 1-65 1 40 1-21 1-49 1 49 1 21 1-40 1 19 1-35 1 35 1 46 1-46 1-74 1 25 1 30 1-16 1 35 1-19 1 96 1-56 1-117 1 173 1-112 1 56 1-40 1 65 1-46 1-19 1-16 1 81 1-46 1 77 1 0 1-162 1 131 1-65 1 0 1 65 1 0 1-65 1 0 1-43 1 13 1 14 1 0 1-70 1 43 1 139 1 0 1 0 1-151 1 95 1 0 1 0 1 25 1-120 1 120 1-25 1-40 1 40 1-56 1 151 1-70 1-46 1 46 1-120 1 151 1-77 1 21 1-95 1 95 1 56 1-77 1-19 1-30 1 95 1-46 1 46 1-81 1-50 1 162 1-56 1-40 1-30 1 165 1-165 1 0 1 70 1 56 1-77 1 21 1 151 1-56 1-70 1-65 1-30 1 95 1-120 1 95 1 0 1-21 1 46 1-65 1 191 1-172 1-62 1 178 1-116 1 0 1 21 1-40 1 19 1 77 1-56 1-40 1 19 1 77 1-96 1 96 1-96 1-30 1 70 1 95 1-116 1-19 1 40 1 95 1-39 1-77 1 46 1 70 1 0 1 0 1-95 1 56 1-77 1 46 1 31 1-139 1 83 1-40 1 19 1 21 1 56 1 0 1-56 1-21 1 0 1 46 1-25 1-56 1 35 1-35 1 81 1 70 1-212 1 61 1 112 1 39 1-95 1-70 1 0 1 126 1-126 1 70 1-95 1 151 1-112 1 0 1 112 1 39 1-135 1-30 1 0 1 165 1-95 1-21 1 0 1 77 1-77 1-35 1 56 1-21 1 0 1 0 1 46 1-81 1 81 1 31 1 0 1-96 1 19 1-85 1 85 1 0 1 21 1 56 1-126 1 70 1-40 1 19 1-19 1 40 1 0 1-40 1 65 1-108 1 139 1-77 1-35 1 35 1-62 1 62 1-62 1 62 1 0 1 46 1 70 1 56 1-151 1 0 1 56 1-96 1 40 1-56 1 56 1 56 1-96 1 65 1 0 1 70 1-151 1 81 1-65 1 135 1-70 1-95 1 70 1-21 1 46 1 0 1-46 1 46 1 31 1 0 1-112 1 81 1 0 1 0 1 31 1-139 1 62 1-19 1 0 1-55 1 74 1 0 1 21 1 0 1-40 1 65 1-120 1 151 1 39 1 152 1-268 1-19 1 191 1-151 1 56 1-162 1 50 1 303 1-247 1 25 1-46 1 21 1 0 1 25 1-46 1-19 1 96 1 0 1-56 1-21 1 0 1 116 1-95 1 95 1 56 1-191 1 191 1-126 1 70 1 0 1-135 1 40 1 0 1 25 1-25 1 0 1-21 1 0 1 46 1 0 1 0 1 0 1-81 1 112 1-96 1 40 1 56 1-31 1-46 1 0 1 21 1 0 1 25 1 31 1-96 1 19 1 0 1 77 1-77 1 46 1-46 1 21 1 0 1-40 1-55 1 74 1 0 1-19 1-16 1 16 1 0 1 19 1 46 1-81 1 35 1 77 1 39 1-116 1 21 1 151 1-126 1 0 1 70 1-70 1 31 1-31 1 0 1 31 1-96 1-43 1 178 1-116 1-35 1 35 1 172 1-95 1 39 1-95 1 25 1 70 1-95 1 25 1 0 1 126 1-95 1 95 1-191 1 0 1 40 1-21 1 0 1 116 1-95 1 56 1 191 1-247 1 0 1-21 1 172 1 0 1-151 1-56 1 56 1 56 1-77 1-35 1 151 1-135 1 96 1 39 1-70 1 222 1-330 1 108 1-65 1 65 1-46 1 46 1 31 1-31 1 31 1-56 1 25 1 70 1-135 1 96 1-77 1 77 1 39 1-39 1-77 1 77 1-77 1 0 1 21 1 56 1 39 1-178 1 13 1 95 1 0 1-25 1-40 1 65 1 0 1-65 1 0 1 135 1-151 1 56 1 56 1-56 1-21 1 0 1-19 1 96 1 0 1 0 1 39 1 0 1-116 1-19 1-16 1 0 1 151 1 56 1-95 1-126 1 30 1 0 1 96 1 39 1-95 1-40 1 0 1 40 1 25 1 31 1-31 1 126 1-126 1 31 1 0 1-77 1-62 1 83 1 0 1-21 1 46 1 31 1-112 1 112 1-77 1 46 1 70 1 0 1-135 1 65 1-25 1 56 1 39 1-39 1-31 1 0 1 0 1 222 1-268 1-74 1 151 1-139 1 27 1 35 1 116 1-95 1 56 1 0 1-56 1 25 1 31 1 39 1-135 1 191 1-172 1-35 1 56 1-40 1 135 1-39 1-56 1 95 1-39 1-31 1-25 1 56 1 0 1-96 1 19 1 21 1 95 1-116 1 172 1-126 1 70 1-95 1 95 1-116 1 268 1-96 1-126 1-25 1 25 1-46 1 172 1-126 1-81 1 81 1 0 1-46 1 46 1-25 1 95 1-70 1 222 1-222 1 31 1 191 1-191 1 39 1-39 1 39 1-70 1 31 1-112 1 35 1 77 1-56 1 56 1-31 1-25 1-40 1 40 1 0 1 0 1 25 1-25 1 95 1 0 1-135 1 0 1 40 1 25 1-25 1 25 1-46 1 21 1 25 1 0 1-46 1 116 1-95 1 25 1 126 1-56 1 152 1-152 1-70 1 0 1-65 1 191 1-191 1 65 1-65 1 135 1 0 1-116 1 0 1 46 1-25 1 95 1-116 1 46 1-65 1 96 1-56 1 0 1 56 1 39 1-116 1 116 1 0 1-95 1 0 1 0 1 25 1 70 1-39 1 0 1 0 1 39 1-151 1 16 1-16 1 56 1-21 1 46 1 31 1-96 1 65 1 0 1 31 1-31 1-46 1 46 1 0 1 31 1-31 1 70 1-165 1 0 1 70 1 56 1-31 1 0 1 0 1-46 1 77 1-96 1 40 1 95 1-39 1 39 1-95 1-21 1 268 1-222 1-65 1 135 1-39 1-31 1 0 1 0 1-46 1 21 1 56 1-77 1-62 1 43 1 96 1 39 1-95 1 0 1 25 1-95 1 49 1 46 1 0 1 126 1-95 1-77 1-19 1 19 1 46 1 31 1-56 1 0 1 25 1 70 1-70 1-46 1 0 1 0 1 77 1-31 1-25 1 56 1-31 1-46 1 46 1 31 1 0 1 0 1-56 1 0 1 0 1-56 1 81 1 0 1 126 1-191 1 0 1 40 1 0 1 151 1-172 1 21 1 56 1 39 1 0 1-39 1-31 1 126 1-151 1 25 1 31 1 0 1 0 1-31 1 126 1-56 1-39 1-112 1 16 1-43 1 139 1-56 1-56 1 81 1 126 1-191 1 19 1 77 1 0 1-56 1 95 1-151 1-14 1 126 1 0 1 0 1 0 1-112 1 207 1-172 1 46 1-25 1 151 1-126 1 70 1-70 1-25 1 151 1 0 1-126 1-46 1 116 1-70 1 126 1-191 1 65 1 31 1 0 1-77 1 46 1 0 1-46 1 46 1-25 1 56 1-77 1 46 1-46 1 77 1 39 1-70 1 70 1-39 1-96 1 135 1-39 1-56 1 95 1-116 1 77 1-56 1 95 1-135 1 96 1 39 1 56 1-56 1-151 1 112 1-77 1 0 1 0 1 0 1-19 1-16 1 56 1 25 1-25 1 56 1 0 1-112 1 81 1-65 1 40 1 151 1-56 1-95 1 25 1 70 1 0 1-39 1 0 1-77 1 0 1-35 1 81 1 31 1 95 1-191 1 65 1 31 1-77 1-49 1 165 1-39 1-56 1 247 1-268 1 21 1-40 1 40 1-40 1 96 1 39 1-116 1 77 1 191 1-247 1 95 1 0 1-151 1 112 1-77 1 116 1-95 1 0 1 0 1 95 1-70 1-46 1 77 1-31 1-25 1 0 1-40 1 287 1-222 1-65 1 40 1 0 1 25 1-25 1-40 1 96 1 0 1-77 1 116 1-116 1-35 1 151 1 56 1-172 1 77 1-77 1 77 1-112 1 16 1 191 1-95 1 0 1-56 1 56 1 0 1 0 1 39 1 0 1-95 1-56 1 112 1-56 1 25 1 0 1 70 1-70 1-25 1-70 1 30 1 40" stroke="#808000"/>
<path vector-effect="non-scaling-stroke" d="M0 1284l1 0 1-96 1-95 1 191 1 0 1 0 1-96 1 96 1-96 1 0 1 96 1 0 1 0 1 0 1 0 1 0 1-152 1 56 1 0 1 0 1 96 1-96 1 96 1 0 1 0 1 0 1 0 1-96 1 96 1 0 1 0 1 0 1-152 1 56 1 96 1 0 1 0 1-96 1 96 1 0 1 0 1 0 1 0 1 0 1-96 1 96 1-96 1 96 1 0 1 0 1 0 1 0 1 0 1-96 1-56 1 56 1 0 1 96 1 0 1 0 1-191 1 39 1 152 1 0 1 0 1 0 1-96 1 96 1 0 1 0 1 0 1-191 1 191 1 0 1-96 1-56 1 56 1 96 1 0 1-96 1 0 1 0 1-95 1 191 1 0 1 0 1 0 1 0 1 0 1-152 1 152 1 0 1-96 1 96 1-96 1 96 1 0 1 0 1 0 1-96 1 96 1 0 1 0 1 0 1-96 1 0 1 96 1 0 1 0 1 0 1-222 1 126 1 96 1-96 1 96 1-96 1 96 1-96 1 0 1 96 1-222 1 222 1 0 1-191 1 191 1 0 1-152 1-39 1 95 1 96 1 0 1-96 1 96 1 0 1 0 1-96 1 96 1 0 1 0 1-96 1 96 1-96 1-56 1 0 1 152 1 0 1-96 1 0 1 96 1 0 1 0 1-152 1 0 1 56 1 0 1 96 1-96 1 96 1 0 1 0 1 0 1 0 1 0 1-96 1 0 1 96 1 0 1 0 1 0 1 0 1-96 1 96 1 0 1-96 1 96 1-96 1 96 1-96 1 96 1-152 1 0 1 152 1-152 1 152 1-96 1 96 1 0 1-96 1 96 1 0 1 0 1 0 1 0 1-191 1 95 1 96 1-96 1 0 1 0 1 96 1 0 1 0 1-96 1-151 1 247 1-96 1 0 1 96 1 0 1 0 1 0 1 0 1 0 1-96 1 96 1-222 1 222 1-96 1 96 1 0 1 0 1-152 1 56 1 96 1-96 1 96 1-96 1 96 1-96 1-126 1 222 1-152 1 152 1 0 1 0 1 0 1-96 1 96 1 0 1-191 1 95 1 96 1 0 1 0 1 0 1 0 1 0 1 0 1 0 1-191 1 191 1 0 1 0 1-96 1 96 1-96 1-56 1-39 1 95 1 0 1 0 1 0 1-56 1 56 1-95 1 95 1-95 1 39 1-39 1 191 1-96 1 0 1 0 1-56 1 56 1 96 1-96 1-56 1-70 1 70 1 56 1-95 1-31 1 0 1 70 1-70 1-46 1 46 1-81 1 81 1-81 1 0 1 56 1 0 1 0 1 0 1-56 1 0 1 112 1-126 1-56 1 56 1-47 1 173 1-112 1-50 1 11 1-84 1 84 1-31 1-33 1 138 1-138 1-7 1 83 1-83 1 15 1 0 1 16 1-61 1 30 1-56 1 31 1 56 1-91 1 14 1-18 1-9 1 22 1-9 1-28 1 24 1-28 1-7 1-30 1 21 1-21 1 48 1-50 1-33 1 41 1-45 1 54 1-60 1 21 1 12 1-29 1-12 1-12 1-13 1-1 1 16 1-18 1 0 1-35 1-7 1 12 1-13 1-10 1-16 1 2 1-8 1 12 1-28 1 5 1-8 1-13 1-19 1 12 1-21 1 3 1-10 1 1 1-21 1-4 1 0 1-6 1-3 1-18 1-5 1-6 1-12 1 0 1 0 1-8 1-9 1 1 1 5 1-21 1-7 1-8 1-7 1 4 1-1 1-11 1 2 1-13 1 9 1-11 1-4 1-11 1 0 1-15 1 2 1-15 1-3 1-7 1-3 1-5 1-6 1-1 1 3 1-7 1-10 1 4 1-3 1-9 1 1 1-2 1-3 1-3 1 2 1-6 1 4 1 1 1-5 1-4 1 1 1 1 1-2 1-2 1 2 1-5 1 3 1-4 1 1 1-1 1-2 1-2 1-5 1 0 1-3 1-2 1 3 1 0 1-2 1 4 1 1 1-3 1-2 1-3 1 3 1-4 1 2 1-6 1 4 1 3 1 0 1 2 1-1 1 6 1-8 1-4 1 9 1-3 1-1 1 4 1 0 1 0 1-1 1 7 1-3 1 1 1 9 1-12 1 12 1-2 1 11 1-8 1 6 1 0 1-1 1-1 1 5 1-1 1 6 1 2 1 1 1 8 1-11 1 0 1 12 1-8 1 10 1 4 1-4 1 9 1 1 1 2 1 9 1-4 1-1 1-1 1 3 1 3 1 1 1 11 1-5 1 6 1-4 1 3 1 8 1-9 1 8 1 4 1 2 1 1 1 9 1-9 1-2 1 5 1 8 1-8 1 14 1-3 1 4 1-2 1 1 1 9 1 10 1-2 1-6 1-5 1 6 1 12 1 5 1-8 1 6 1 6 1-1 1 17 1 1 1-15 1 2 1 17 1-7 1-6 1 12 1-2 1 12 1-3 1 10 1-7 1 3 1 10 1-6 1 11 1-11 1 18 1-12 1 7 1 8 1 3 1-4 1 8 1 4 1-3 1 19 1-3 1-2 1 22 1-9 1 9 1 2 1-5 1 12 1-9 1 5 1 0 1 10 1-15 1 25 1 19 1-30 1 23 1 4 1-8 1 18 1 2 1-1 1-7 1 5 1-2 1 21 1-16 1 7 1 13 1-2 1-7 1 18 1 12 1-1 1 1 1 10 1 18 1-15 1 8 1-9 1-9 1 33 1-14 1 31 1-10 1 12 1-15 1 11 1 2 1 2 1 19 1-25 1 24 1 20 1-49 1 23 1 28 1-8 1 13 1-17 1 4 1 26 1-25 1 21 1 4 1-23 1 27 1-17 1 38 1-29 1-9 1 23 1 4 1 2 1 41 1-53 1 6 1 18 1-18 1 59 1-3 1-3 1-35 1 35 1 12 1-6 1 32 1 9 1-85 1 72 1 26 1-48 1-15 1 50 1-38 1 51 1-37 1 69 1-89 1 16 1 67 1-21 1-18 1-5 1 84 1 0 1-61 1-18 1 18 1-18 1 58 1-19 1-59 1 84 1-46 1 33 1 36 1-29 1-40 1 16 1-30 1 60 1-60 1 47 1-28 1 0 1-10 1 26 1-39 1 87 1-42 1-37 1 43 1-23 1 23 1 73 1-66 1-30 1 30 1 21 1-66 1 32 1 6 1 0 1-6 1 13 1-19 1 32 1-37 1 37 1 33 1-25 1-15 1 7 1 64 1-117 1 27 1 6 1 20 1 42 1-55 1 46 1-65 1 12 1 44 1 29 1-60 1-13 1 7 1-7 1 53 1 9 1-49 1 40 1-33 1 42 1 22 1 0 1 0 1-48 1 37 1-66 1 37 1 40 1-84 1 53 1-17 1-8 1 25 1-76 1 85 1 0 1-9 1-46 1 77 1-22 1-49 1 96 1-13 1-23 1-53 1 24 1 18 1 11 1 11 1-31 1 43 1 0 1-23 1-45 1 95 1-14 1-65 1-24 1 33 1 31 1-31 1-25 1-28 1 13 1 110 1-79 1 18 1-42 1-26 1 42 1-36 1 84 1 39 1-39 1-31 1 9 1-74 1 74 1 61 1-79 1-44 1 36 1 17 1 43 1 0 1-12 1 0 1 39 1-50 1 0 1 23 1 13 1-47 1-55 1 77 1-48 1-23 1 71 1-31 1-9 1 52 1-52 1 135 1-117 1 0 1 0 1 22 1-31 1 31 1 0 1-71 1 49 1 0 1 22 1 25 1-102 1 77 1 39 1-14 1-73 1 73 1-65 1 0 1 95 1-43 1-34 1-34 1 111 1-77 1 0 1 47 1-25 1 25 1-47 1 22 1-48 1 48 1-77 1 29 1 60 1 13 1-25 1 0 1-11 1-45 1 45 1 36 1-56 1 56 1 0 1 30 1 191 1-286 1 95 1-43 1-23 1-20 1 56 1-56 1 43 1 0 1-43 1 31 1-22 1 0 1-18 1 79 1 0 1 56 1-117 1 0 1 22 1 25 1-137 1 90 1-9 1 43 1 13 1 0 1-73 1 143 1-56 1-39 1 151 1-139 1 139 1-191 1 18 1 77 1-77 1 34 1 13 1 14 1 0 1 0 1-39 1-31 1 31 1 55 1-30 1-56 1 31 1 39 1 81 1-142 1 34 1-34 1 22 1-11 1-29 1 135 1-95 1-64 1 89 1 95 1-95 1 14 1-95 1-8 1 76 1-12 1-48 1 37 1 11 1 74 1 0 1-85 1 50 1-39 1 74 1 77 1-126 1-47 1 22 1 12 1 178 1-178 1 13 1-47 1 77 1-30 1 14 1-87 1 87 1-61 1 11 1 50 1 35 1 21 1-40 1-30 1-25 1-77 1 151 1-62 1 0 1 13 1 0 1 30 1-86 1 0 1 86 1-43 1 43 1-30 1 0 1-36 1 66 1-77 1 61 1 0 1 0 1-27 1 43 1-43 1 43 1 0 1-30 1-47 1 173 1-173 1 22 1 39 1-27 1 13 1-47 1 61 1-61 1 117 1-56 1 0 1-39 1-40 1 40 1 12 1-12 1 55 1-95 1 18 1 11 1 23 1 43 1-86 1 43 1 83 1-106 1-20 1 31 1 12 1 27 1-61 1 77 1-77 1 77 1-30 1-25 1-22 1 34 1 139 1-31 1-95 1 14 1 16 1-66 1 50 1 0 1 81 1-95 1 30 1-16 1 81 1-81 1 35 1 21 1-70 1 30 1-16 1 0 1 112 1-77 1-49 1-13 1 43 1-43 1 83 1 95 1-190 1 190 1-95 1-117 1 77 1 19 1-19 1-66 1 50 1 0 1-14 1-73 1 238 1-135 1 19 1-85 1 106 1-95 1 95 1-56 1-50 1 106 1-83 1 139 1-31 1-95 1 14 1 56 1 0 1-106 1-20 1 126 1-40 1 65 1-46 1-19 1 0 1 96 1-56 1-83 1 13 1 95 1 31 1 95 1-221 1 49 1-35 1 0 1-70 1 70 1 16 1-86 1 70 1 35 1-35 1 56 1-21 1-19 1-77 1 77 1-66 1 36 1 70 1-40 1 19 1-74 1 39 1 35 1 77 1-112 1 16 1-16 1 0 1 81 1-46 1-35 1-103 1 76 1 62 1-19 1 40 1 0 1 56 1-112 1 81 1-95 1-13 1 43 1 0 1 40 1 0 1-151 1 151 1 25 1-65 1-16 1 16 1-43 1 108 1-120 1 39 1 56 1-40 1 0 1 19 1-62 1 62 1-35 1 35 1 46 1-46 1-49 1-13 1 27 1-39 1 39 1 0 1 16 1-43 1 43 1 0 1-30 1-25 1 95 1 0 1-70 1 70 1 95 1-135 1-55 1 151 1-77 1 0 1-35 1 81 1 31 1 0 1-191 1 52 1 13 1 0 1-13 1 0 1 13 1 14 1 81 1 0 1-81 1-50 1 162 1-162 1 0 1 106 1 0 1-21 1-85 1 106 1 25 1-65 1 40 1 25 1 0 1-95 1 126 1 0 1-96 1-30 1 14 1-39 1 151 1-151 1 95 1-40 1-55 1 120 1 31 1-31 1-81 1-50 1 106 1-40 1-30 1 14 1 112 1-139 1 43 1 19 1-19 1-16 1 0 1-27 1 27 1 35 1-19 1 96 1-112 1-39 1 39 1 81 1-95 1 70 1 56 1-173 1 77 1 135 1-70 1 0 1-25 1-40 1 19 1-49 1 14 1-70 1 182 1-77 1 21 1-70 1-13 1 62 1 46 1 0 1 31 1-173 1 22 1 74 1-35 1 81 1-46 1-74 1 74 1-19 1-30 1 30 1 0 1-43 1 43 1 19 1-96 1-18 1 95 1 65 1-46 1 21 1-21 1-19 1 19 1-62 1 0 1 27 1 35 1-35 1-61 1 142 1-65 1 135 1-116 1-19 1-30 1 70 1-106 1 50 1 0 1 81 1 31 1-77 1 77 1-31 1-46 1 0 1-19 1 65 1-131 1 106 1 0 1 0 1-40 1 65 1-65 1 0 1 40 1-21 1 0 1-35 1 112 1-56 1 0 1 0 1-40 1 96 1-96 1-43 1 83 1-70 1 49 1 21 1-40 1 65 1 31 1-31 1-95 1 95 1-46 1-19 1-30 1 126 1 95 1-207 1-27 1 43 1 96 1-191 1 65 1 30 1-43 1-12 1 120 1-176 1 111 1-30 1 70 1 0 1 25 1-81 1-14 1 49 1-49 1 0 1 49 1-62 1 27 1 0 1 16 1 0 1 40 1 25 1-25 1-40 1 0 1 191 1-221 1 30 1-43 1 27 1 16 1 191 1-207 1 16 1 191 1-172 1 46 1-46 1 0 1 21 1 25 1-81 1-39 1 39 1 35 1 268 1-222 1-81 1 81 1-46 1 21 1-56 1 151 1-70 1 0 1-46 1-96 1 34 1 43 1 19 1 77 1-162 1 131 1-25 1-40 1 0 1-30 1 126 1-56 1-21 1 46 1 0 1-65 1 40 1-56 1 35 1 172 1-257 1 23 1 178 1-151 1 16 1 0 1 19 1 116 1-39 1-96 1 0 1 135 1-39 1-77 1 46 1-81 1 56 1 25 1-25 1-56 1 81 1 0 1-25 1-40 1 0 1 135 1-70 1 0 1 0 1 31 1 95 1-95 1 191 1-222 1-25 1 0 1 25 1-46 1-35 1 56 1 56 1 0 1-112 1 35 1-74 1 151 1 0 1-112 1 0 1 0 1 151 1-165 1 165 1-201 1 85 1 77 1 0 1-77 1 21 1 0 1 25 1 222 1-152 1-95 1-40 1 135 1-70 1-95 1 0 1 70 1 0 1 25 1-108 1 139 1-31 1-46 1 0 1 21 1-40 1 65 1-46 1 46 1 0 1-81 1 303 1-222 1 0 1-46 1-19 1 40 1 25 1-46 1 77 1-31 1 126 1-95 1 191 1-191 1 95 1-172 1 0 1 46 1 31 1-112 1 56 1 0 1-83 1 108 1 126 1-172 1 21 1 56 1-56 1 95 1-116 1-49 1 95 1-46 1 21 1 25 1-25 1 0 1 25 1-95 1 126 1-77 1 0 1-19 1 40 1-21 1-62 1 62 1 77 1-96 1-43 1 62 1 46 1 70 1-95 1-40 1 191 1-56 1-201 1 106 1 151 1-191 1 40 1-21 1 77 1-96 1 135 1-116 1 116 1-39 1-31 1 70 1-135 1 0 1 40 1 25 1-25 1-40 1 135 1-178 1 43 1 40 1 56 1-31 1-25 1 0 1-21 1 77 1-77 1 21 1 25 1 31 1 191 1-317 1 14 1 81 1-46 1 116 1 0 1-135 1 40 1 56 1 0 1-31 1-81 1-14 1 126 1-96 1-16 1 81 1 31 1 39 1-70 1 31 1-77 1-49 1 14 1 16 1 96 1 0 1-31 1 126 1-95 1-151 1 95 1 151 1-95 1-31 1-131 1 85 1 21 1-40 1 40 1 25 1 126 1-207 1 35 1-19 1 135 1-95 1 25 1-25 1 95 1-70 1-65 1 65 1 0 1 222 1-222 1 31 1-96 1 19 1 116 1-70 1-25 1 0 1 25 1-46 1 46 1 0 1 31 1-77 1 268 1-191 1 0 1 0 1 0 1-77 1 46 1-81 1 56 1 95 1 56 1-257 1 162 1-139 1 62 1 21 1 95 1-95 1-40 1 19 1 172 1-126 1 70 1 0 1 0 1-70 1-46 1 0 1 116 1 0 1-95 1-21 1 46 1 31 1 0 1-77 1-49 1 49 1 0 1-19 1 65 1-108 1 83 1 0 1-21 1 0 1 172 1-172 1 116 1 0 1-95 1-83 1 83 1 56 1 39 1-70 1-46 1 21 1 0 1 56 1 0 1-31 1-65 1 40 1-70 1 95 1 31 1-31 1-25 1 25 1-25 1 25 1-25 1 25 1 31 1-56 1 25 1-65 1 191 1-95 1-56 1 25 1 0 1 70 1-70 1-25 1 56 1 0 1 95 1-191 1-43 1 139 1 39 1-39 1 39 1-70 1 70 1-70 1 31 1-162 1 162 1-56 1-40 1 287 1 0 1-268 1 46 1 0 1 70 1 56 1-191 1 19 1-19 1 135 1-116 1 77 1-151 1 55 1 96 1-96 1 40 1-70 1 14 1 112 1 191 1-191 1 0 1 39 1-95 1-21 1 46 1-46 1 172 1-126 1 70 1-95 1-56 1 56 1 56 1 39 1-116 1 172 1-151 1 95 1-39 1-56 1 25 1-65 1 96 1-31 1-25 1 56 1-77 1 21 1 95 1-95 1 95 1-70 1-25 1 0 1 25 1 0 1 31 1-56 1 25 1-65 1 0 1-16 1 81 1 31 1-56 1 247 1-191 1-96 1 65 1-46 1 77 1-56 1 0 1 25 1 126 1-95 1-77 1 0 1 46 1 0 1-65 1 96 1-31 1-95 1 49 1-35 1-14 1 30 1 19 1 77 1 0 1-56 1-21 1 0 1 0 1 0 1 21 1 56 1 0 1-77 1-19 1 65 1-46 1 172 1-95 1-31 1-25 1 95 1-39 1 95 1-151 1 56 1-56 1 56 1-56 1 95 1 0 1-116 1 172 1-172 1-85 1 131 1 31 1-31 1-95 1 126 1-31 1 70 1-151 1 207 1-95 1 0 1-56 1 0 1-21 1 268 1-317 1 95 1 31 1-77 1 21 1 56 1-31 1 222 1-191 1 191 1-317 1 70 1 56 1 0 1-96 1 135 1 0 1-165 1 317 1-191 1 39 1-39 1-31 1-81 1 112 1 39 1 0 1-135 1 65 1 31 1-112 1 35 1 21 1 56 1-31 1 0 1 126 1-95 1-31 1 0 1 0 1 222 1-152 1-116 1 0 1 172 1-172 1-35 1 112 1-56 1 56 1-77 1 21 1 56 1 0 1 0 1 39 1-70 1-25 1 25 1-65 1 0 1 65 1-25 1 25 1 126 1 0 1-126 1 0 1 31 1 0 1-56 1 95 1-39 1-96 1 287 1-222 1 0 1-25 1 56 1-77 1 77 1 95 1-56 1 152 1-287 1 19 1-74 1 190 1 152 1-303 1 151 1-39 1 0 1-31 1 222 1-191 1-56 1 25 1 0 1 70 1-95 1-21 1 0 1 21 1 56 1-96 1 135 1-116 1 0 1-19 1 0 1 40 1 56 1 95 1-56 1-116 1 77 1-77 1 46 1 31 1-112 1 112 1 0 1-31 1-25 1-21 1-35 1 151 1-95 1 95 1 56 1-191 1 0 1 191 1 96 1-191 1-31 1-25 1 0 1 0 1 25 1 31 1 0 1-31 1 70 1-116 1 77 1-31 1 0 1 70 1-39 1-56 1-40 1-30 1 49 1 46 1 0 1 70 1 152" stroke="#0057A3"/>
<path vector-effect="non-scaling-stroke" d="M0 1093l1 95 1 96 1 0 1 0 1 0 1 0 1-96 1 0 1 96 1 0 1-152 1 56 1 96 1 0 1-96 1-56 1 152 1-222 1 222 1 0 1 0 1 0 1-96 1 96 1 0 1-96 1 96 1 0 1-96 1 0 1 96 1-96 1 0 1 96 1-152 1 152 1-96 1 96 1-152 1-39 1 191 1 0 1 0 1-96 1 96 1-96 1 96 1 0 1 0 1-96 1 96 1 0 1 0 1 0 1-191 1 95 1 96 1-152 1 152 1 0 1 0 1-191 1 39 1 152 1 0 1 0 1 0 1 0 1-96 1-172 1 268 1-96 1-56 1 152 1 0 1 0 1 0 1 0 1 0 1 0 1-96 1 96 1 0 1-96 1 96 1-152 1 56 1 96 1 0 1 0 1 0 1 0 1-191 1 191 1 0 1 0 1-191 1 191 1-96 1 96 1 0 1-96 1 0 1 96 1-152 1 56 1 96 1-96 1 96 1-152 1 152 1 0 1-191 1 95 1 96 1 0 1-152 1 152 1-191 1 191 1 0 1 0 1-191 1 95 1 96 1-96 1 0 1 96 1 0 1-96 1-56 1 56 1 96 1-96 1 0 1 96 1 0 1-152 1 152 1 0 1-96 1 96 1 0 1 0 1 0 1 0 1 0 1-152 1 152 1-96 1 0 1 0 1-151 1 247 1 0 1-152 1 0 1 56 1 96 1 0 1-96 1 96 1 0 1 0 1 0 1 0 1 0 1 0 1-96 1 0 1-56 1-70 1 126 1 96 1-152 1 152 1 0 1 0 1-96 1 96 1-96 1 96 1 0 1 0 1 0 1 0 1 0 1 0 1 0 1 0 1 0 1 0 1-96 1 96 1 0 1 0 1-191 1 95 1 0 1 96 1 0 1-96 1 96 1 0 1 0 1 0 1 0 1 0 1-96 1 96 1-152 1 152 1-96 1 96 1-152 1-39 1 191 1 0 1 0 1-191 1 191 1 0 1-96 1 96 1-152 1 152 1-96 1 0 1 96 1 0 1 0 1-96 1 96 1 0 1 0 1-96 1 96 1 0 1 0 1-152 1 56 1 96 1-152 1-39 1 191 1 0 1 0 1-152 1 152 1-96 1 96 1-96 1 0 1 96 1-152 1 0 1 56 1 0 1-56 1 152 1 0 1 0 1-96 1 0 1-207 1 207 1-56 1 56 1-56 1 56 1-95 1 0 1 95 1-56 1-70 1 126 1-95 1 0 1-96 1 135 1 152 1-152 1-116 1 77 1-77 1 116 1-95 1-70 1 70 1 25 1-131 1 162 1-112 1 151 1-151 1 16 1 19 1-74 1-48 1 122 1-49 1 30 1-86 1 86 1-66 1 11 1-64 1 159 1-106 1 0 1-85 1 56 1-16 1 56 1-90 1-41 1 67 1 8 1 0 1-56 1-15 1 116 1-129 1 39 1-16 1 0 1 16 1 17 1-12 1-63 1 11 1 4 1-8 1-24 1 0 1-24 1-22 1 37 1-22 1 7 1-7 1-19 1-11 1 6 1-2 1-30 1-8 1 11 1 4 1-20 1-5 1 27 1-34 1-10 1 7 1-19 1 3 1-11 1 14 1-44 1-5 1-15 1 19 1-30 1-6 1 0 1-28 1 9 1-8 1 13 1-19 1-12 1-10 1-13 1-8 1-4 1 6 1-22 1-5 1-2 1 3 1-17 1 1 1 1 1-12 1-7 1 4 1-1 1-10 1-9 1 1 1-5 1-6 1-13 1-4 1-3 1-9 1 7 1-20 1 0 1-10 1-6 1-7 1-11 1-6 1 1 1-8 1-3 1-11 1 7 1-2 1-14 1 7 1-7 1-2 1-8 1 3 1-9 1 1 1 7 1 4 1-3 1-7 1-7 1 1 1-2 1 0 1-3 1-2 1-1 1 1 1 4 1-6 1-3 1-3 1 2 1-2 1 1 1 1 1-3 1-1 1-3 1-1 1 5 1-4 1-1 1-1 1-1 1 1 1 5 1-4 1-5 1 4 1-1 1-4 1 5 1 0 1 1 1-3 1 8 1-1 1 8 1-8 1 3 1-3 1 1 1 1 1 4 1-4 1 0 1 9 1-3 1 4 1-4 1 5 1-2 1 4 1 1 1-1 1 1 1 6 1 7 1-2 1 4 1-1 1 2 1-1 1 12 1-10 1 7 1 0 1 12 1-2 1-7 1 6 1 1 1 4 1-2 1 2 1 5 1 2 1 0 1 3 1 1 1-1 1 11 1-8 1 3 1-1 1 16 1-7 1 0 1 10 1-2 1 3 1-4 1 10 1 10 1-16 1 17 1-5 1 7 1-8 1 3 1 1 1 2 1 8 1-6 1 7 1 5 1 2 1 1 1 7 1 0 1-3 1 12 1-6 1-1 1 7 1 4 1 0 1 0 1 6 1 1 1 6 1 1 1-4 1 12 1-4 1 8 1-2 1 12 1-3 1-3 1 4 1 12 1 5 1-9 1 12 1 9 1 5 1-10 1-6 1 12 1 8 1-18 1 29 1-9 1 7 1-1 1 7 1 5 1-2 1 7 1-2 1-5 1-2 1 10 1 15 1 10 1-14 1 14 1 1 1 7 1 8 1-16 1 11 1 2 1 8 1 15 1 6 1 1 1-29 1 19 1 17 1-4 1 9 1-9 1 21 1-14 1 23 1-8 1-8 1 14 1 20 1-6 1 6 1 5 1 3 1-11 1 35 1-13 1-9 1 6 1 2 1-8 1 28 1 2 1 9 1-11 1 11 1-17 1-2 1 1 1 50 1-7 1-19 1 21 1-7 1-5 1 5 1 12 1 20 1-16 1-7 1 21 1-2 1-8 1-20 1 53 1 0 1-3 1-16 1 24 1 16 1-11 1-8 1 5 1-38 1-4 1 16 1 52 1-28 1 48 1-41 1 60 1-57 1 34 1 0 1-31 1 63 1-13 1-15 1 0 1 28 1-39 1 80 1-86 1 28 1 8 1-26 1 3 1 15 1-31 1 16 1 51 1 0 1 48 1-102 1 3 1 56 1-15 1 38 1-86 1 74 1-52 1 36 1-19 1 41 1-22 1-15 1 26 1-47 1 52 1 0 1-21 1-18 1 8 1 10 1 46 1-84 1 7 1 36 1 5 1-5 1 5 1 23 1 13 1-30 1 45 1-84 1 18 1 45 1 13 1-43 1-15 1 15 1 36 1 0 1-13 1-23 1 23 1 62 1-113 1 79 1-51 1 23 1-12 1-5 1 45 1-45 1 11 1 34 1 34 1-55 1-7 1 13 1-13 1 44 1-82 1 74 1-42 1-27 1 53 1-37 1 53 1 8 1-16 1 0 1 56 1-40 1-50 1 13 1 102 1-89 1 0 1 64 1-84 1 73 1-29 1-31 1-46 1 95 1 47 1-36 1-79 1 50 1-24 1 53 1-37 1-59 1 59 1-16 1 76 1-34 1 11 1-29 1 0 1-56 1 56 1 65 1-109 1 36 1 0 1-42 1 13 1 37 1 52 1-34 1 22 1-84 1 84 1-90 1 50 1 18 1-68 1 90 1-31 1-40 1 7 1 8 1-21 1 89 1-43 1 43 1-83 1 15 1-15 1-25 1 25 1 60 1-60 1 0 1 49 1 0 1 22 1-77 1 89 1-60 1 0 1-16 1 8 1 34 1 0 1-62 1 123 1 16 1-55 1-22 1 0 1 11 1 23 1 13 1-81 1 151 1-126 1-25 1-8 1 53 1 36 1-25 1-84 1 96 1-89 1 13 1-7 1 40 1 31 1-48 1 17 1-33 1 42 1-9 1 86 1-55 1-40 1 9 1 20 1-53 1 103 1-50 1 0 1 11 1-11 1 0 1-29 1 9 1-9 1 29 1-85 1 96 1-90 1 102 1-34 1 22 1-56 1 68 1 27 1 0 1-14 1 0 1-25 1 74 1-96 1 96 1-130 1 68 1 0 1 13 1-13 1-23 1 36 1-47 1 47 1-81 1 81 1-47 1 0 1 34 1-12 1-31 1 31 1-64 1 138 1-96 1 96 1-35 1-79 1 0 1 191 1-162 1 0 1-53 1 76 1 83 1-135 1 65 1-13 1-68 1 56 1 12 1-12 1-11 1 66 1-66 1 0 1 23 1-23 1 23 1-34 1-55 1 29 1 48 1-22 1-9 1 126 1-135 1 65 1-13 1 13 1-36 1 131 1-108 1 0 1 0 1 62 1-85 1 66 1-86 1 70 1-14 1 0 1 30 1 0 1 65 1-120 1 55 1 0 1-111 1 16 1 52 1-34 1 47 1 0 1-47 1 0 1 22 1 151 1-112 1-79 1 40 1 12 1-34 1 22 1 55 1 0 1-86 1 70 1 0 1 16 1-30 1-13 1-52 1 0 1 9 1 105 1 21 1-151 1 56 1-22 1 61 1 56 1-83 1-12 1 12 1 83 1-95 1-22 1 0 1 61 1-14 1 95 1-176 1 45 1 66 1-55 1 0 1-11 1-11 1 0 1 96 1-35 1 56 1-70 1-47 1 61 1-61 1 11 1 23 1 62 1-35 1 56 1-56 1-50 1 66 1 19 1-122 1 122 1-35 1-61 1 47 1 30 1-43 1 43 1 0 1-103 1-8 1 68 1 108 1-120 1 55 1-126 1 40 1 31 1-22 1 47 1-47 1-26 1 60 1-34 1 11 1 23 1-23 1 106 1-83 1-43 1 56 1-25 1-11 1 66 1 0 1-66 1 23 1-12 1 39 1 112 1-139 1 27 1 35 1-49 1 30 1-66 1 0 1 23 1 13 1 0 1-36 1 106 1-70 1 49 1 172 1-172 1-62 1-23 1 106 1-106 1 0 1 36 1 70 1-21 1 46 1-95 1 0 1 0 1 165 1-190 1 55 1-43 1-60 1 60 1 13 1 0 1 14 1-27 1 27 1 56 1-40 1 40 1-126 1 126 1-40 1 40 1-83 1 27 1 0 1 0 1-39 1 39 1 35 1-49 1 0 1 14 1 0 1-61 1 22 1 25 1 70 1-40 1-77 1 34 1 0 1-34 1 47 1 0 1 95 1-142 1 34 1 43 1-55 1 74 1 0 1-62 1 43 1-66 1 36 1 70 1-95 1-11 1 50 1 35 1-62 1 139 1-112 1-61 1 77 1-55 1 25 1 0 1-13 1-23 1 66 1-86 1 56 1-13 1 62 1-122 1 238 1-151 1 81 1-25 1 25 1-95 1 49 1-85 1 66 1 96 1-112 1 56 1-70 1-13 1 83 1-106 1 162 1-126 1 0 1 30 1-77 1 96 1 21 1 0 1-21 1-49 1-47 1 0 1 47 1 0 1-13 1 108 1 0 1-81 1-27 1 43 1 0 1-66 1 131 1-65 1-77 1 11 1 23 1 27 1-27 1 83 1 25 1-81 1 56 1-40 1 0 1 19 1-35 1 16 1 19 1-74 1 39 1 0 1-27 1 62 1-35 1 151 1-151 1-14 1 70 1-40 1 40 1-106 1 11 1 74 1 77 1-31 1-81 1-14 1 14 1 0 1-39 1 12 1 43 1 19 1 21 1 25 1-46 1-19 1 40 1 25 1-168 1 60 1 43 1 19 1-19 1-30 1 14 1-14 1-13 1 13 1 126 1-96 1-55 1 12 1 27 1 16 1 40 1-40 1 19 1 0 1-19 1 19 1 0 1-35 1 16 1-16 1 35 1-96 1 96 1-19 1 96 1-77 1-35 1-27 1 13 1 126 1-173 1 96 1-85 1 36 1 49 1-35 1 56 1 0 1-126 1 126 1-21 1-19 1-16 1 56 1-83 1 62 1-105 1 126 1-70 1 14 1 81 1 126 1-234 1 27 1 56 1-70 1-36 1 85 1 0 1-19 1-43 1 27 1 0 1-27 1 43 1-30 1-36 1 106 1-40 1-86 1 105 1 0 1-96 1 96 1 46 1-65 1 0 1-30 1 14 1 0 1 16 1-30 1 49 1-62 1 27 1 81 1-120 1 95 1-21 1 116 1-135 1 19 1-19 1-55 1 55 1-66 1 106 1-21 1-85 1 162 1-77 1-19 1 40 1-21 1 77 1-56 1-21 1-19 1-16 1-39 1 0 1 12 1 108 1-81 1 0 1 35 1 21 1-21 1-35 1 16 1 19 1-49 1 30 1-16 1 56 1 25 1 70 1-39 1-77 1-35 1 81 1-65 1 96 1-31 1-46 1-35 1 0 1 16 1-43 1 62 1-62 1 178 1 56 1-151 1-40 1 40 1 25 1-46 1-19 1 135 1-116 1-62 1 27 1-61 1 77 1 96 1-126 1 49 1-49 1 70 1-83 1 43 1 40 1-56 1 16 1 0 1 96 1 0 1-139 1 108 1-131 1 131 1-95 1 30 1 135 1-95 1 25 1-151 1 31 1 95 1-40 1 40 1-21 1 0 1 21 1-40 1-43 1 43 1-43 1 83 1 0 1 56 1-112 1 16 1 19 1 21 1-40 1-30 1 70 1-21 1-19 1 0 1 19 1-35 1 81 1 0 1 126 1-172 1-96 1 61 1 56 1-95 1 55 1 0 1 135 1-95 1-95 1 151 1-31 1-95 1 70 1 25 1-46 1-19 1 65 1-95 1-13 1 139 1-139 1 0 1 27 1 35 1 46 1-46 1 0 1-49 1 70 1 0 1 0 1-70 1 0 1-47 1 96 1 46 1-65 1 40 1-40 1 19 1 77 1-77 1-62 1 83 1 25 1 0 1-25 1-70 1 49 1 46 1-46 1 46 1-46 1 21 1 56 1-31 1-46 1 46 1 31 1 0 1-96 1-30 1-25 1 95 1-21 1 21 1 25 1-65 1-30 1 14 1 56 1 56 1-96 1 40 1-21 1 21 1 0 1-83 1 27 1 81 1-46 1 46 1-25 1-70 1 70 1 56 1-31 1-65 1 65 1 222 1-96 1-172 1 0 1-19 1 65 1 0 1-25 1 95 1-39 1-112 1 16 1 0 1 40 1 95 1 0 1-95 1 25 1-81 1 35 1-35 1 207 1-191 1-43 1 83 1-83 1 108 1 31 1-96 1 40 1-40 1 0 1 19 1 46 1-46 1 46 1-46 1-74 1 39 1 112 1 0 1-96 1 40 1 56 1-112 1 81 1-25 1 25 1-108 1 139 1 0 1-31 1-81 1 16 1 19 1 77 1-31 1-46 1 116 1-95 1 0 1 56 1-77 1 0 1 21 1 56 1-126 1 70 1 56 1-56 1 95 1-201 1 201 1-95 1 56 1-112 1 56 1 25 1-25 1-21 1 46 1-46 1 21 1 0 1-21 1 77 1 39 1-95 1 95 1 56 1 0 1-126 1 222 1-222 1 0 1 31 1-31 1 0 1 31 1-126 1-25 1 74 1 116 1-70 1 31 1 0 1-56 1-21 1 172 1-172 1 46 1 0 1-81 1 16 1-43 1 178 1-39 1-112 1 207 1-191 1 19 1 21 1 0 1-40 1 40 1-21 1 77 1-77 1-49 1 70 1 25 1-81 1 35 1 21 1-21 1-35 1 35 1 116 1-95 1 25 1 70 1-116 1 0 1 21 1-70 1 95 1-65 1-16 1 151 1-70 1-65 1 65 1 222 1-268 1 0 1 268 1-222 1-25 1-21 1 21 1-40 1 19 1 46 1-65 1 19 1 0 1 0 1 0 1 116 1-39 1 0 1-56 1 247 1-222 1 31 1 39 1-178 1 108 1-25 1 95 1-70 1-65 1 96 1-31 1 31 1-56 1 95 1-70 1-95 1 70 1 151 1-95 1 191 1-222 1 0 1-25 1 25 1-25 1-83 1 139 1-56 1 56 1 0 1 39 1-165 1 165 1-165 1 49 1 0 1 21 1 25 1 70 1-95 1-21 1-49 1 221 1-95 1-77 1 172 1 0 1-56 1-70 1 126 1-126 1-46 1 268 1-287 1 40 1 25 1-46 1 77 1-126 1 95 1 126 1-126 1-95 1 95 1-25 1-70 1 126 1-77 1 77 1-77 1 116 1-70 1-25 1-40 1 40 1 151 1-126 1-25 1-21 1 0 1 77 1 191 1-247 1 56 1-56 1 56 1-56 1 95 1-70 1 31 1-151 1 151 1-31 1 31 1-56 1-83 1 139 1-139 1 83 1-21 1 21 1-21 1 116 1 0 1-151 1 81 1-25 1-56 1 81 1 31 1 95 1-95 1-112 1 56 1 0 1-21 1 21 1 95 1 0 1 56 1-221 1 126 1-77 1 21 1 25 1-81 1 81 1 70 1 56 1 0 1-151 1-40 1-43 1 27 1 151 1-70 1 31 1-126 1 126 1-112 1 112 1-31 1 0 1-46 1-62 1 178 1-95 1 95 1-135 1 40 1 95 1-116 1 21 1-21 1 77 1-126 1 95 1-65 1 191 1-126 1 70 1-95 1 95 1 56 1-126 1 31 1-96 1-43 1 83 1 0 1-56 1 81 1-46 1 46 1 126 1-126 1 0 1 70 1-70 1-46 1 77 1-56 1 151 1-151 1 0 1 25 1-46 1 116 1-95 1 25 1 31 1 0 1-77 1 0 1 116 1-165 1 221 1-191 1-43 1 83 1-21 1-35 1 56 1 25 1 126 1-56 1-116 1 21 1 95 1-135 1 19 1-19 1 191 1-95 1-112 1 0 1 151 1-95 1 56 1-77 1 21 1 151 1-95 1 0 1-56 1 95 1-95 1 25 1 0 1 0 1 70 1 0 1-39 1 191 1-247 1-21 1 0 1 0 1 46 1 31 1-56 1 25 1-25 1-40 1 135 1 152 1-317 1 0 1 126 1 39 1-70 1 70 1-39 1 39 1-190 1 95 1 25 1-65 1 40 1-83 1 139 1 0 1 191 1-222 1-65 1 65 1 70 1-39 1 0 1 39 1-165 1 95 1 70 1-70 1-25 1-21 1-49 1 317 1-152 1-151 1 207 1-95 1-56 1 25 1 0 1-25 1 0 1 95 1-70 1-25 1 56 1 0 1-56 1-21 1 46 1-65 1 96 1-56 1 56 1-77 1 77 1 191 1-96 1-56 1-39 1-31 1 0 1 31 1 39 1-95 1-70 1 126 1-56 1 151 1 0 1-172 1 77 1-31 1-65 1 65 1 70 1-39 1 39 1 152 1-152 1-39 1-31 1 0 1-46 1 0 1 46 1-25 1 56 1-77 1 172 1-126 1 0 1-46 1 77 1 0 1-31 1-46 1 46 1-25 1-40 1 40 1 0 1 25 1 126 1-151 1-56 1 0 1 151 1-39 1 39 1-151 1 81 1-25 1 56 1-77 1 46 1 0 1 0 1 70 1 0 1 0 1-70 1-25 1 151 1-56 1-39 1 39 1-95 1 25 1 31 1 0 1-31 1-95 1 95 1-25" stroke="#009393"/>
<path vector-effect="non-scaling-stroke" d="M0 1284l1 0 1-96 1 96 1 0 1 0 1 0 1-96 1 0 1 96 1-96 1 0 1 0 1-56 1 152 1 0 1 0 1 0 1 0 1-96 1 96 1-96 1-126 1 222 1 0 1 0 1 0 1 0 1 0 1 0 1-96 1 96 1-152 1 56 1 0 1 96 1-152 1-39 1 191 1 0 1 0 1 0 1-191 1 191 1 0 1-152 1 152 1-152 1 56 1 96 1 0 1-96 1 96 1-96 1 96 1 0 1-152 1 152 1 0 1 0 1 0 1 0 1-96 1 96 1-222 1 222 1-191 1 191 1-96 1 96 1-96 1 0 1 0 1 96 1 0 1 0 1-191 1 191 1-191 1 95 1 96 1 0 1 0 1 0 1-96 1 0 1 96 1 0 1 0 1 0 1-96 1 0 1 96 1-96 1 0 1 96 1 0 1-96 1-95 1 39 1 152 1-96 1 0 1 0 1 96 1-96 1-56 1 152 1 0 1 0 1 0 1-96 1 96 1 0 1-152 1 152 1-152 1 56 1 0 1 0 1 96 1 0 1 0 1-96 1 96 1 0 1-191 1 191 1 0 1 0 1-152 1-39 1 95 1 96 1-96 1-126 1 222 1 0 1 0 1-96 1-126 1 222 1-96 1-126 1 222 1-96 1 96 1-152 1 152 1 0 1 0 1 0 1-191 1 0 1 39 1 56 1-56 1 152 1-152 1 152 1-191 1 95 1 0 1 96 1-191 1 95 1-56 1 0 1 152 1 0 1 0 1-96 1 0 1 96 1-96 1 96 1-152 1 152 1-96 1 96 1 0 1 0 1 0 1 0 1 0 1 0 1-247 1 247 1-96 1 96 1 0 1-96 1 96 1 0 1-191 1 191 1 0 1 0 1 0 1 0 1 0 1 0 1 0 1-96 1 0 1 0 1-56 1 152 1-96 1 96 1 0 1 0 1 0 1 0 1 0 1-152 1 152 1-96 1 0 1-95 1 39 1-39 1 39 1 56 1 96 1-96 1 96 1 0 1 0 1-96 1 96 1-96 1-151 1 151 1 96 1 0 1 0 1-96 1 0 1 96 1-191 1 95 1 96 1-222 1 126 1-95 1 95 1 96 1 0 1-96 1-95 1 191 1-152 1 152 1-96 1 0 1-126 1 70 1 0 1 152 1-152 1 0 1 152 1-191 1 39 1 0 1 56 1-56 1-70 1 126 1-95 1 95 1-56 1-39 1-31 1 0 1 222 1-96 1-126 1 0 1 0 1 31 1-77 1 21 1 0 1 25 1-81 1 81 1 70 1-151 1-14 1 95 1-25 1 247 1-191 1-162 1 0 1 66 1-55 1-40 1 65 1 70 1-40 1-66 1-20 1-9 1 40 1-48 1 60 1-23 1 66 1-162 1 59 1 26 1-42 1 8 1-66 1 32 1-6 1 32 1-80 1 37 1 30 1-67 1 22 1-18 1 18 1-9 1 14 1-14 1-17 1-15 1-3 1 18 1-25 1-6 1-26 1-30 1 15 1 15 1 3 1-27 1-8 1-2 1 0 1 32 1-46 1-10 1-8 1 6 1-11 1-34 1 11 1-3 1 26 1-41 1 1 1-14 1-11 1 0 1 2 1-21 1-12 1-4 1-14 1-9 1 7 1-25 1-14 1-3 1-8 1-7 1-4 1-6 1-9 1-4 1-9 1-3 1 2 1-8 1-5 1-18 1 0 1-6 1 2 1-7 1-6 1-7 1 5 1-13 1-8 1-2 1-6 1-8 1 2 1-18 1 5 1-7 1-17 1 2 1-15 1-8 1 0 1-13 1-1 1 5 1-8 1-14 1 2 1-6 1 0 1-5 1 1 1 2 1-6 1 4 1 0 1-7 1-1 1 0 1-2 1-1 1-5 1 3 1-5 1-3 1 4 1-7 1 3 1-1 1-6 1 2 1 3 1-10 1 0 1 5 1-3 1-2 1 3 1-2 1-3 1-1 1 2 1 2 1 0 1-4 1 4 1-8 1 8 1 2 1 2 1-6 1 3 1 5 1-3 1-4 1 7 1-5 1-2 1 8 1-5 1 1 1 7 1-3 1 3 1 1 1-2 1 6 1-6 1 4 1 4 1 2 1-2 1 4 1-5 1 1 1 3 1 8 1-2 1 2 1 0 1 8 1-9 1 11 1-3 1 5 1 8 1-7 1 5 1 5 1-3 1 1 1 7 1-9 1 9 1-6 1 4 1 8 1 4 1-3 1 0 1 4 1 2 1 2 1 7 1-5 1 1 1-7 1 16 1 3 1 0 1 7 1-6 1 6 1 2 1-8 1 15 1-11 1 7 1 4 1 1 1 0 1 3 1 3 1-6 1 13 1-8 1 18 1-5 1 1 1 4 1 4 1-9 1 8 1 3 1 0 1 6 1 7 1-7 1 7 1 3 1-1 1 3 1 9 1 4 1 2 1 0 1 9 1-7 1 9 1-5 1 9 1 1 1 12 1-21 1 13 1 4 1 4 1 13 1-8 1-5 1 31 1-13 1 8 1-4 1 8 1-4 1 0 1-4 1 13 1 8 1 15 1-12 1 7 1 8 1-1 1-2 1-3 1 4 1 21 1-8 1 18 1-25 1 9 1 2 1 1 1 19 1-16 1 14 1 0 1 26 1-12 1 7 1-12 1 12 1 11 1 1 1 17 1-13 1 19 1-19 1 11 1-4 1 12 1 1 1 1 1-4 1 10 1 4 1 5 1 0 1-11 1 38 1-9 1 0 1 3 1 19 1 1 1 6 1-13 1 31 1 0 1 6 1-3 1 12 1-23 1 9 1 0 1 8 1 27 1-28 1 10 1 24 1-20 1 42 1-13 1-4 1 7 1 10 1 28 1-28 1-24 1 29 1 36 1-7 1 7 1-34 1 15 1-17 1 8 1 35 1 47 1-32 1 13 1 30 1 0 1-39 1 5 1 4 1 24 1-33 1-15 1 78 1-67 1-8 1 17 1 28 1 11 1-56 1 0 1 35 1-42 1 47 1-47 1 15 1-8 1 45 1-24 1 24 1-24 1-32 1 99 1-43 1 6 1-11 1 11 1-84 1 78 1-37 1-4 1 17 1-24 1 38 1-35 1 21 1 4 1-28 1 7 1 4 1 32 1-23 1-5 1-4 1 27 1 61 1-66 1 26 1-21 1-31 1 21 1-25 1 35 1 5 1-23 1-17 1 17 1 34 1-6 1 6 1-16 1-10 1 5 1-9 1 35 1-11 1-15 1 15 1 30 1-35 1 56 1-56 1-10 1 82 1-67 1-41 1 26 1 10 1 22 1-27 1-10 1-17 1 0 1 22 1 32 1-50 1 0 1 28 1 41 1 0 1-36 1 30 1-54 1 54 1-45 1 10 1-51 1 46 1-5 1-13 1 13 1 5 1 33 1-12 1 6 1-65 1 38 1 40 1-35 1 35 1-7 1-28 1-19 1 35 1 40 1-51 1 17 1-58 1 64 1 36 1-42 1-11 1 37 1-53 1 33 1-28 1-28 1-8 1 64 1 20 1-58 1 0 1-5 1 37 1-6 1-35 1 41 1 13 1 77 1-84 1 7 1-54 1 54 1-71 1 17 1 30 1-30 1 0 1-4 1 23 1 41 1 7 1-71 1 13 1-26 1 64 1 0 1-6 1-50 1 84 1-21 1-24 1-6 1-15 1 0 1 74 1-48 1 6 1-17 1-5 1 48 1-32 1-35 1 41 1-27 1 53 1 16 1-29 1-35 1 5 1 107 1-96 1 25 1-41 1 28 1 13 1-6 1 29 1-16 1-58 1 0 1 51 1-30 1 24 1-7 1-12 1 25 1-60 1 54 1 13 1-13 1 0 1 21 1-28 1 36 1-48 1 12 1-6 1 26 1 64 1-64 1-20 1-28 1 48 1 16 1-79 1 37 1 42 1-36 1 0 1 36 1 8 1-24 1-71 1 28 1 59 1 0 1-23 1 31 1-67 1 30 1-50 1 63 1-7 1-19 1 34 1-15 1 31 1-37 1 13 1 24 1-24 1 8 1 8 1-48 1 40 1 0 1-28 1-17 1 0 1 17 1 28 1-21 1 0 1 13 1-20 1-47 1 60 1-30 1 11 1-27 1-14 1 54 1 6 1 7 1-13 1 0 1-7 1 44 1 0 1-67 1 17 1 90 1-31 1 20 1-37 1-59 1 36 1-6 1-7 1 84 1-90 1 0 1 59 1-9 1-67 1 23 1-17 1 79 1 0 1-55 1 6 1-13 1 28 1-40 1 40 1-34 1 79 1-90 1 90 1-11 1-68 1 34 1-45 1 11 1 6 1 44 1 29 1-53 1 42 1-18 1 0 1-31 1 40 1-53 1 139 1-111 1 8 1-16 1 76 1-23 1 50 1-151 1 64 1 0 1-8 1-15 1-6 1 132 1-145 1 59 1 20 1-37 1-29 1 0 1 46 1-25 1-28 1-6 1 13 1-7 1-12 1 108 1-34 1 0 1-26 1 17 1-33 1-20 1 62 1-34 1 8 1 87 1-129 1 50 1 95 1-126 1 126 1-103 1 17 1 56 1-81 1-28 1 13 1 83 1-96 1 44 1 114 1-105 1-25 1 45 1-90 1 113 1-43 1 56 1-96 1 23 1 0 1-8 1-21 1-30 1 96 1-29 1 0 1 29 1-90 1-21 1 100 1-68 1 50 1-8 1 26 1-62 1-23 1 51 1 0 1 16 1-56 1 6 1 26 1-7 1 31 1 18 1-95 1 53 1-20 1 73 1-11 1-9 1 56 1-73 1-23 1 7 1 103 1-95 1-8 1 53 1 23 1-12 1-48 1 73 1-102 1-19 1 65 1-33 1 33 1-59 1 79 1 0 1-20 1 31 1-40 1-31 1 40 1-25 1 16 1-44 1 44 1-8 1 17 1-76 1 107 1 12 1-34 1-26 1-23 1 40 1-9 1-16 1 81 1-65 1 40 1-22 1-18 1 40 1 25 1-56 1-33 1 33 1-40 1 83 1-60 1 17 1-25 1 25 1-17 1 17 1-25 1 95 1-70 1 0 1 70 1-61 1 0 1 47 1-65 1-16 1-8 1 103 1-50 1-11 1 11 1-66 1 37 1 0 1 18 1-55 1 13 1-26 1 79 1-37 1 73 1-36 1-37 1 8 1 65 1-73 1-16 1 64 1-56 1 8 1 26 1-9 1 31 1-31 1 56 1-65 1 18 1-42 1 53 1 23 1 13 1-65 1 9 1 20 1 23 1 43 1-43 1-34 1 47 1-65 1 18 1 47 1 14 1-14 1 14 1-61 1 22 1 95 1-159 1 53 1 50 1 35 1 0 1-19 1-66 1 50 1-79 1-16 1 81 1-56 1 0 1 20 1-79 1 13 1 46 1 31 1-11 1 36 1 0 1-47 1 47 1 14 1-135 1 65 1 9 1 47 1-13 1-12 1 12 1-68 1 16 1 65 1 14 1-39 1 25 1-73 1 122 1-35 1 35 1-85 1 50 1-27 1 83 1-126 1 126 1-83 1-34 1 34 1 0 1-60 1 60 1-52 1 29 1-20 1 9 1 34 1-12 1-11 1 66 1-16 1 81 1-176 1 56 1 39 1-14 1-81 1 56 1-31 1 86 1 40 1-40 1 19 1-49 1-13 1-12 1 0 1 55 1-66 1 85 1-19 1-43 1 27 1-79 1 29 1 131 1-184 1 76 1 139 1-162 1 11 1 12 1 27 1-14 1-47 1 11 1 66 1-77 1 22 1 25 1-81 1 81 1-47 1-9 1 9 1 34 1 13 1 30 1-103 1 37 1-11 1 61 1 0 1 0 1-27 1-23 1 36 1-25 1 12 1 62 1-105 1 20 1 23 1-23 1 11 1 74 1-49 1 0 1-25 1 95 1 0 1-21 1-35 1 0 1-27 1-52 1 79 1-27 1-43 1 86 1-43 1-23 1 36 1 30 1-30 1 95 1-142 1 173 1-151 1 12 1 43 1-55 1-22 1 77 1 40 1-126 1 9 1 22 1 95 1-117 1 77 1-43 1-23 1 66 1-30 1 14 1-39 1 74 1-105 1 43 1 83 1-95 1 120 1-142 1 34 1 27 1-39 1 25 1 14 1-14 1-36 1-20 1 151 1-131 1 162 1-151 1 55 1-55 1-22 1 34 1 43 1-55 1 25 1 0 1 0 1 14 1 0 1 81 1-108 1 0 1 13 1-13 1 43 1 0 1-55 1 0 1 12 1-60 1 60 1 27 1 56 1-83 1 43 1 0 1-30 1 49 1-62 1-23 1 66 1-95 1 135 1-95 1 39 1-61 1 47 1 49 1-105 1 70 1 16 1-66 1 85 1-49 1-56 1 20 1 85 1 46 1-25 1-83 1 13 1 30 1 40 1-40 1-16 1-79 1 52 1 83 1-95 1 55 1 0 1 0 1 19 1 46 1-142 1 34 1-12 1 12 1 139 1-112 1 0 1 0 1-39 1-11 1 11 1 74 1-138 1 53 1 36 1 165 1-95 1-106 1 162 1-56 1-83 1 13 1 14 1-61 1 77 1 40 1-83 1 108 1-120 1 39 1 56 1 0 1-40 1-30 1 14 1 81 1-25 1-40 1 96 1-77 1-19 1 0 1-77 1 0 1 142 1-25 1 0 1-83 1 27 1 16 1-30 1-13 1 0 1 62 1-19 1-16 1 81 1-108 1-34 1 61 1 112 1-173 1 96 1 77 1-151 1 25 1 30 1 19 1-62 1 13 1 30 1 40 1-151 1 81 1 95 1-81 1 0 1 112 1-151 1 151 1-139 1 83 1-56 1 0 1 112 1-56 1-83 1 0 1 83 1-40 1-55 1 151 1 0 1-77 1 0 1 0 1-19 1-30 1 70 1-106 1 106 1-70 1 126 1-77 1 46 1-25 1-40 1 0 1 19 1-35 1 112 1-77 1-49 1 0 1 165 1-135 1-43 1 43 1 65 1-95 1 30 1 0 1 0 1 19 1 116 1-190 1 95 1 25 1-81 1 56 1-40 1-86 1 105 1 0 1 0 1-85 1-20 1 182 1-96 1-30 1 126 1-77 1-122 1 122 1 116 1-178 1-23 1 162 1-191 1 135 1-21 1-35 1-27 1 43 1-16 1-27 1 27 1 16 1 135 1-165 1 0 1-13 1 108 1 31 1 0 1 0 1-112 1 35 1 116 1-151 1 112 1-112 1 56 1 151 1-257 1 66 1 96 1-126 1 49 1 21 1 0 1-21 1 46 1-25 1 0 1-21 1-62 1 83 1-70 1 49 1-19 1 19 1-19 1 65 1-65 1 40 1 56 1-56 1-21 1 268 1-152 1-165 1 221 1 0 1-207 1 35 1 0 1-49 1 49 1 0 1-49 1 49 1 46 1-95 1 49 1 0 1-35 1 35 1 77 1 191 1-247 1-83 1 83 1 56 1-112 1-27 1 27 1 112 1-126 1 126 1-112 1 151 1 0 1-95 1-40 1 65 1-46 1-85 1 85 1-49 1 95 1 31 1-126 1 95 1-25 1-40 1 135 1-116 1-74 1 246 1-234 1 43 1 287 1-191 1-31 1-46 1 46 1-25 1 0 1-21 1-19 1-16 1 35 1 0 1 21 1-21 1 46 1 0 1-25 1 25 1 70 1-212 1 117 1 25 1 31 1-77 1 46 1 0 1 126 1-172 1 77 1 0 1-77 1 116 1-201 1 162 1-77 1-35 1 151 1-70 1-81 1 0 1 81 1-25 1 0 1-40 1 65 1 0 1 0 1-95 1 95 1-65 1 40 1-70 1 49 1-19 1 65 1-25 1-21 1 46 1-108 1 62 1-35 1 16 1 65 1-46 1 0 1 46 1 31 1 191 1-247 1 25 1 31 1-56 1 25 1 70 1-135 1-16 1 56 1-56 1 35 1 46 1-25 1-40 1 0 1 40 1 95 1 56 1-151 1-21 1-35 1 16 1 0 1 96 1-56 1-21 1 0 1-62 1 330 1-152 1-135 1 19 1 77 1-56 1-70 1 126 1-56 1 247 1-247 1-21 1 0 1 77 1-31 1 31 1 0 1 39 1-151 1 112 1-126 1 70 1 25 1 0 1 126 1-126 1-46 1-19 1 0 1 40 1 95 1-151 1 35 1 0 1 21 1-70 1 95 1-25 1-21 1 46 1 0 1-108 1 83 1 25 1 126 1-221 1 14 1 56 1 25 1-81 1 112 1 0 1 0 1-31 1 0 1 31 1-31 1 31 1-56 1 151 1-56 1-70 1 0 1-65 1 65 1-25 1 0 1 56 1-77 1 21 1-21 1 116 1-95 1-56 1 151 1-151 1 35 1 0 1 46 1 70 1-95 1-95 1 55 1 135 1 0 1-116 1 21 1-40 1 19 1 77 1 39 1-116 1 116 1-95 1 56 1 39 1-135 1 65 1-120 1 246 1 96 1-287 1 65 1 70 1-39 1 39 1 0 1-135 1 0 1 19 1 46 1-65 1 40 1-56 1 81 1-25 1 25 1 70 1 56 1-207 1 56 1 0 1-70 1 165 1-95 1 56 1 39 1-70 1-25 1-21 1 21 1 95 1-151 1 112 1 0 1 95 1-172 1 77 1-56 1 25 1-25 1 151 1-172 1 77 1-96 1 65 1 31 1-56 1 25 1 31 1 95 1-95 1 0 1 0 1-56 1 56 1-126 1 165 1-39 1-56 1-21 1-62 1 234 1-207 1-14 1 317 1-152 1-70 1-25 1-56 1 112 1 0 1-96 1 65 1 31 1 191 1-222 1 31 1-112 1 112 1 0 1-56 1 56 1 95 1-172 1 116 1-39 1-77 1 116 1 56 1-191 1 96 1-77 1 21 1-21 1 21 1 95 1-116 1-19 1 0 1 40 1-21 1 46 1-46 1-62 1 83 1-40 1 40 1 151 1 96 1-247 1-56 1 207 1-126 1 70 1-135 1-30 1 70 1 56 1 0 1-77 1 77 1-31 1-81 1 303 1-317 1-25 1 120 1 31 1-56 1-21 1 268 1-191 1 0 1 95 1-56 1-70 1-46 1 116 1-70 1 0 1 31 1 0 1-96 1 40 1 95 1-70 1-46 1 77 1-56 1-56 1 56 1 25 1 0 1-25 1 95 1-95 1 151 1-56 1-116 1 116 1-135 1-16 1 56 1 56 1 95 1-172 1 0 1 21 1 25 1 31 1-77 1-49 1 221 1-221 1 126 1-56 1 95 1 0 1-95 1-70 1 95 1-46 1 21 1-70 1 14 1-14 1 126 1-56 1 56 1-77 1 46 1-81 1 207 1-95 1 191 1-191 1 39 1 56 1-95 1-31 1-65 1 19 1 268 1-152 1 0 1-39 1 0 1 95 1-172 1 172 1-191 1 135 1-116 1-74 1 74 1 116 1-116 1 268 1-268" stroke="#B06000"/>
<path vector-effect="non-scaling-stroke" d="M0 1188l1 96 1 0 1-152 1 152 1 0 1-152 1 0 1-39 1 95 1 0 1-56 1 152 1-96 1 96 1 0 1 0 1-96 1 96 1 0 1 0 1 0 1-96 1 96 1 0 1 0 1 0 1 0 1-152 1 152 1 0 1 0 1 0 1-96 1-56 1 152 1 0 1 0 1 0 1-96 1 0 1 96 1 0 1-96 1 96 1 0 1 0 1-152 1 56 1 96 1-96 1-56 1 56 1 0 1-56 1 152 1 0 1 0 1-96 1 96 1 0 1 0 1 0 1 0 1-96 1 96 1 0 1-96 1 96 1-96 1 96 1 0 1-152 1 0 1 152 1-96 1 96 1-152 1 152 1 0 1 0 1-152 1 0 1 152 1-96 1 96 1 0 1-96 1 96 1-152 1 56 1 96 1 0 1-96 1 0 1 96 1-96 1 0 1 96 1 0 1 0 1 0 1 0 1-96 1 0 1 0 1 96 1 0 1 0 1 0 1 0 1-96 1 96 1-96 1 96 1-96 1 96 1-191 1 39 1 152 1 0 1-96 1 0 1 96 1-152 1 152 1-96 1 96 1-152 1 0 1-39 1 191 1 0 1 0 1 0 1-96 1-95 1 191 1 0 1 0 1 0 1-96 1 0 1 96 1 0 1 0 1-96 1 96 1-191 1 191 1-96 1 96 1 0 1 0 1 0 1 0 1-152 1 56 1 96 1 0 1-96 1-95 1 0 1 191 1 0 1-96 1 96 1-152 1 152 1 0 1 0 1-152 1 152 1 0 1 0 1 0 1 0 1 0 1-152 1 152 1-152 1 152 1 0 1-96 1-56 1 152 1-96 1-56 1 56 1 96 1-96 1 96 1 0 1-96 1 96 1-191 1 191 1-152 1 152 1-191 1 39 1 56 1 96 1-96 1 0 1-95 1 191 1-191 1 39 1 56 1 96 1-96 1 96 1-96 1 96 1-268 1 46 1 126 1 96 1 0 1 0 1-96 1-56 1 152 1-191 1 95 1 0 1 96 1 0 1 0 1-96 1-95 1 95 1 96 1-96 1 96 1 0 1-96 1 0 1 96 1-96 1-56 1 56 1-95 1 39 1-39 1-31 1 70 1-70 1 31 1 0 1 39 1-39 1-31 1 70 1-135 1 96 1 39 1-116 1 77 1 191 1-268 1 116 1-39 1 0 1-96 1-30 1-36 1 23 1 13 1 0 1 49 1 21 1-70 1 0 1 14 1-39 1 12 1-43 1-9 1 40 1-11 1-29 1-31 1 126 1-132 1 6 1 0 1 23 1-23 1-13 1-12 1 0 1 32 1 8 1-34 1-50 1 13 1 20 1-10 1-49 1 35 1-4 1-5 1-12 1-7 1-32 1 9 1-40 1 12 1-14 1 24 1-22 1-21 1 10 1-14 1-4 1-20 1-31 1 34 1-7 1-17 1-18 1-14 1-5 1 29 1-4 1-48 1 13 1 0 1 0 1-17 1-19 1 13 1-13 1-15 1 7 1-29 1 19 1-23 1-13 1 2 1 2 1-14 1-4 1-6 1-7 1 6 1-17 1 11 1-20 1-12 1 13 1-13 1-9 1-7 1 2 1-13 1 1 1 0 1-5 1-7 1-3 1-17 1 8 1-13 1-5 1-4 1 6 1-4 1-18 1 5 1-5 1-8 1-9 1 1 1-7 1-2 1-1 1-3 1-9 1 4 1-11 1 0 1-4 1-5 1-6 1 1 1-5 1 1 1-12 1 1 1-5 1 1 1-5 1 1 1-13 1 12 1-6 1-2 1-1 1-5 1-1 1 5 1-14 1-5 1-3 1 3 1 6 1-12 1 9 1-14 1 8 1-4 1 0 1 2 1-2 1-5 1 3 1 0 1-3 1-1 1 3 1 0 1-5 1 6 1-1 1-4 1 5 1 4 1-11 1 8 1 4 1 1 1-11 1 6 1-3 1 0 1 5 1 0 1-1 1 1 1 4 1 3 1-3 1-5 1 10 1-3 1-1 1 5 1 1 1 6 1-5 1 0 1 4 1 0 1-4 1 0 1 7 1 0 1 7 1 3 1-7 1 4 1 1 1 8 1 4 1-2 1 2 1 4 1-7 1 8 1-5 1-1 1 10 1 2 1-2 1 15 1-8 1 8 1-2 1 9 1-9 1 2 1 3 1-4 1 6 1 1 1 6 1 0 1 1 1 4 1 6 1-8 1 6 1 1 1 4 1 3 1 0 1-1 1 6 1 8 1-3 1 4 1 0 1-4 1-7 1 14 1 9 1-5 1 12 1 0 1 5 1 4 1-11 1 15 1-3 1 21 1-18 1 8 1 1 1-1 1 7 1 5 1 0 1 16 1-4 1 6 1 4 1 0 1 2 1 5 1-4 1 6 1 13 1-3 1 4 1-2 1-5 1 6 1 18 1 1 1 1 1 14 1-8 1 12 1-18 1 3 1 18 1-11 1 11 1-12 1 2 1 17 1 7 1-8 1 24 1-9 1-4 1 6 1 4 1 7 1 0 1-9 1 17 1 11 1-21 1 23 1 5 1-1 1 14 1-17 1 2 1 3 1-2 1 26 1-13 1-4 1 28 1-4 1 6 1-8 1 6 1-13 1 28 1 13 1-19 1 7 1-3 1 3 1 9 1 3 1 11 1 3 1 10 1-12 1-6 1 14 1 3 1 25 1-5 1 9 1-36 1 46 1-50 1 40 1-12 1 24 1-4 1-1 1-10 1 29 1-13 1 36 1-36 1 13 1 10 1-4 1 36 1-28 1 18 1 7 1-5 1 5 1 16 1-16 1 28 1 34 1-40 1 44 1-15 1-35 1 21 1-15 1 12 1 32 1-8 1-21 1 46 1-39 1 22 1 32 1-61 1 96 1-67 1 17 1-13 1 63 1-54 1-17 1 108 1-56 1 25 1 7 1-20 1 7 1 13 1 16 1 17 1-59 1 26 1 89 1-126 1 5 1 85 1-45 1 16 1 52 1-34 1 34 1-34 1 34 1-52 1-8 1 87 1-27 1 83 1-95 1-31 1 9 1-18 1 160 1-131 1-11 1 77 1 19 1 0 1-19 1 40 1-40 1 19 1-35 1 16 1-16 1-50 1 11 1 74 1-19 1-30 1-36 1-29 1 95 1-43 1 83 1-83 1 43 1-30 1 70 1 25 1-81 1 16 1-43 1 43 1 65 1 70 1-39 1-112 1 56 1-21 1 21 1-21 1 0 1 77 1-77 1-85 1 257 1-221 1 0 1 126 1-31 1 70 1-135 1 40 1-56 1 207 1-191 1 135 1-135 1 65 1-65 1-30 1 126 1-31 1 0 1-46 1-35 1 112 1-31 1-25 1 25 1 0 1 31 1-56 1 0 1-40 1 135 1-39 1-31 1 70 1 0 1-165 1 14 1 112 1-182 1 151 1-25 1-21 1-35 1 56 1-40 1 40 1 0 1-70 1 126 1-31 1 70 1-70 1-81 1 56 1-21 1 46 1-95 1 165 1-151 1 0 1 81 1 0 1-65 1 40 1-56 1 56 1-21 1 21 1 151 1-151 1 56 1-112 1 35 1 77 1 39 1-95 1 95 1-165 1 95 1 31 1-139 1 139 1-31 1 31 1 39 1-165 1 14 1 81 1 70 1-95 1 25 1 222 1-247 1 0 1-40 1-43 1 27 1 81 1 31 1 95 1 96 1-96 1-95 1-77 1 77 1 39 1-151 1 35 1-19 1 40 1 95 1-70 1-81 1 151 1-151 1 35 1 77 1-96 1 40 1-70 1 126 1-56 1-40 1-55 1 246 1-191 1-16 1 81 1-65 1 135 1-39 1-139 1 43 1-66 1 131 1-81 1 112 1-173 1 117 1-95 1 55 1 40 1-70 1 49 1 46 1-25 1-56 1 81 1 31 1-151 1 74 1 0 1 77 1-56 1 0 1-70 1 126 1-56 1 0 1-21 1 0 1 0 1 46 1 70 1-116 1 21 1 0 1 25 1-65 1 19 1 116 1-151 1 35 1 21 1-21 1-19 1 191 1-126 1-25 1 95 1-70 1-81 1 112 1 0 1-126 1 0 1 70 1 25 1-81 1 112 1 0 1-31 1-95 1 126 1-126 1-13 1 108 1-65 1-43 1 178 1-116 1 46 1-46 1 21 1-40 1 96 1-77 1 46 1-46 1 77 1-112 1 112 1 39 1-39 1-31 1-46 1-49 1 126 1-96 1 96 1-126 1 95 1 0 1-25 1-56 1 56 1 95 1 0 1-95 1-56 1 35 1 77 1-31 1-25 1-40 1 19 1 46 1-65 1 96 1 0 1 0 1-126 1 95 1 70 1-116 1-35 1 151 1-190 1 120 1 222 1-152 1-39 1-112 1 56 1-70 1-36 1 85 1 116 1-70 1 31 1 39 1 0 1 56 1-95 1-96 1 40 1 0 1 0 1 0 1-70 1 317 1-268 1 21 1 25 1-81 1 81 1 0 1 0 1 0 1-46 1 46 1-65 1-16 1 112 1-112 1 35 1 0 1 172 1-221 1 95 1 31 1-56 1 0 1 0 1 247 1-222 1 0 1-95 1 95 1-46 1 21 1 95 1-39 1-139 1 178 1-70 1 0 1-25 1 56 1-31 1 70 1-95 1 56 1-151 1 120 1 70 1-135 1 96 1 0 1-112 1 56 1 0 1 56 1 0 1 0 1-139 1 62 1 77 1-77 1 77 1 95 1-191 1 96 1 95 1-126 1-46 1 0 1 21 1 0 1 95 1-70 1-46 1-19 1 19 1 77 1-96 1 40 1 95 1-116 1 172 1-246 1 120 1-25 1-21 1 46 1 0 1 31 1-31 1 0 1-46 1-19 1 135 1-116 1 46 1-46 1-19 1 191 1-257 1 106 1-21 1 77 1-56 1 0 1-40 1-16 1 16 1-30 1 165 1-95 1 25 1-46 1 21 1-56 1 56 1 0 1-83 1 27 1 81 1-120 1 190 1-39 1-31 1 31 1-112 1 35 1 116 1-39 1 0 1-56 1 25 1 31 1 0 1 0 1 0 1-31 1-25 1 95 1-39 1-56 1 25 1-46 1 77 1-31 1 126 1 0 1-126 1-25 1 56 1 0 1 39 1-116 1-19 1 96 1-126 1 221 1-126 1-46 1 46 1-65 1 40 1 56 1-96 1 40 1 151 1-126 1 70 1-135 1 0 1 65 1-46 1 77 1-77 1 77 1-77 1 46 1 0 1 0 1 70 1-178 1 108 1-25 1-21 1 21 1-21 1 46 1 126 1-126 1 31 1-77 1 77 1-112 1 35 1 0 1 172 1-126 1-25 1 0 1 56 1 39 1 56 1-126 1 70 1-70 1 31 1 39 1 56 1-126 1-25 1 56 1 39 1-39 1 39 1 152 1-96 1-172 1 77 1 95 1-95 1 95 1 96 1-96 1-56 1-70 1 31 1-31 1 31 1-56 1 0 1 56 1-96 1 135 1 56 1 0 1-191 1 96 1-56 1 25 1-25 1 56 1 0 1-126 1 95 1-46 1 46 1 70 1-39 1 0 1-31 1 126 1-151 1 56 1-77 1 21 1 25 1 31 1 39 1-95 1 25 1 126 1 0 1-126 1 31 1-31 1 222 1-191 1 95 1 96 1-152 1-70 1 70 1 152 1-287 1 96 1-77 1 172 1-56 1-95 1 0 1 151 1-126 1 31 1-31 1 126 1-56 1 0 1-116 1 46 1 31 1 39 1-116 1 116 1-39 1 191 1-96 1-56 1-116 1 268 1-191 1 95 1-95 1-31 1 70 1 152 1-96 1 96 1-152 1 152 1-96 1-56 1-95 1 151 1-95 1 0 1-31 1 31 1 39 1 152 1-268 1 77 1 0 1 39 1 56 1-126 1 70 1 152 1-152 1 152 1-268 1 116 1 0 1-116 1 77 1 0 1 0 1 39 1-70 1 31 1-31 1 222 1-96 1-56 1-95 1 151 1-95 1 0 1 39 1 56 1-56 1 0 1 0 1 0 1 0 1 0 1 56 1 96 1 0 1-96 1-56 1-39 1-31 1 70 1 0 1 56 1 0 1-56 1 56 1 0 1 0 1 96 1 0 1 0 1 0 1 0 1-191 1 191 1 0 1-222 1 126 1-56 1 56 1 0 1 0 1-95 1 95 1 0 1-95 1 39 1 152 1-191 1 95 1-56 1 56 1-191 1 287 1-191 1 95 1-95 1 191 1-191 1 39 1 56 1 0 1-95 1 39 1-39 1 39 1 152 1 0 1-191 1 191 1-96 1-95 1 191 1-222 1 222 1-222 1 126 1 0 1-56 1 56 1 0 1 96 1 0 1-152 1 0 1 56 1-56 1 152 1 0 1-268 1 172 1 0 1 96 1-96 1-56 1-95 1 151 1-56 1-95 1 151 1-95 1-56 1 95 1-70 1-25 1 25 1 126 1 0 1 0 1-56 1 152 1-152 1-39 1 95 1 96 1-96 1-56 1 56 1 96 1-191 1 39 1 0 1 152 1-191 1 39 1-39 1 0 1 95 1-95 1 191 1-96 1-56 1 152 1-222 1 70 1 152 1 0 1 0 1 0 1-191 1 95 1-95 1 191 1-96 1 0 1 0 1 96 1 0 1-96 1 0 1 0 1 0 1-126 1 222 1-152 1 0 1-39 1 95 1 0 1 0 1-56 1 0 1-39 1 191 1-96 1-126 1 70 1-70 1 126 1 0 1-56 1 56 1-56 1-95 1 151 1 0 1 0 1-95 1 0 1 191 1-96 1 96 1-152 1 56 1 96 1 0 1-152 1 56 1 96 1-96 1 0 1-56 1-70 1 70 1 56 1 0 1 96 1-96 1-56 1 56 1 0 1-172 1 172 1 96 1-222 1 70 1 0 1 152 1-191 1 191 1-247 1 247 1-96 1 96 1-152 1-39 1 191 1-152 1 56 1 96 1-96 1 96 1 0 1-96 1 96 1-191 1-56 1 247 1-96 1 96 1 0 1-96 1-56 1 56 1-95 1 191 1-247 1 151 1 96 1-152 1 152 1-191 1 191 1-191 1 191 1-247 1-21 1 268 1 0 1-96 1-56 1 152 1-191 1 95 1-151 1 25 1 126 1-56 1 0 1-39 1 95 1-56 1-39 1 191 1-96 1-56 1-70 1 126 1 96 1-96 1-56 1 56 1-56 1 56 1 96 1-152 1 152 1-191 1 191 1 0 1-96 1-56 1-70 1 126 1-95 1 191 1 0 1-247 1 56 1 95 1-126 1 222 1-96 1-151 1 247 1-152 1 0 1-39 1 39 1 152 1-96 1-56 1 152 1-96 1-95 1 191 1 0 1-96 1 96 1-152 1 56 1 0 1 96 1-191 1-77 1 268 1-247 1 56 1 95 1-56 1 56 1 96 1 0 1 0 1-152 1 152 1-191 1 95 1 0 1 96 1 0 1 0 1 0 1 0 1-152 1-70 1 126 1 0 1-56 1 0 1-39 1 95 1-56 1-95 1 247 1 0 1 0 1 0 1-191 1 0 1 191 1-152 1 152 1-191 1 0 1 95 1 96 1-222 1 126 1-56 1 152 1 0 1-96 1-95 1 0 1 0 1 95 1 96 1-96 1-95 1 191 1 0 1 0 1-191 1 191 1 0 1-152 1 0 1 152 1-222 1 70 1-39 1 191 1-152 1 0 1 0 1 0 1 56 1-126 1 70 1-70 1 0 1 222 1 0 1-152 1 0 1 56 1 96 1-96 1 96 1-96 1 96 1-268 1 268 1-96 1-95 1 95 1 0 1 0 1 96 1-96 1 0 1 96 1 0 1-152 1-39 1 191 1-96 1 96 1 0 1-222 1 222 1 0 1-222 1 126 1 96 1 0 1-152 1 152 1 0 1-96 1 96 1 0 1-152 1 56 1 0 1 96 1 0 1-152 1-70 1 126 1-56 1 152 1-152 1 152 1-96 1 96 1 0 1 0 1-152 1 152 1-152 1-70 1 31 1 0 1 95 1-56 1 56 1 0 1 96 1 0 1 0 1-96 1-56 1 152 1-191 1 191 1-96 1-56 1 152 1-191 1 191 1-222 1 70 1 56 1-56 1 152 1-96 1 96 1 0 1-152 1 152 1-96 1-95 1 95 1-95 1 39 1 56 1-56 1 152 1 0 1-96 1-126 1 70 1 152 1 0 1-303 1 112 1 191 1 0 1-152 1-70 1-25 1 151 1-126 1 70 1-70 1 222 1-96 1-95 1-31 1 70 1 0 1 0 1-70 1 126 1-95 1 0 1 95 1 0 1 0 1 96 1-191 1 39 1 152 1 0 1 0 1-191 1 191 1-191 1 95 1 96 1-247 1 247 1-96 1 0 1 0 1 96 1-96 1 96 1-152 1 152 1 0 1-152 1 0 1 152 1-152 1 56 1-56 1 56 1 96 1-96 1 96 1 0 1-152 1 152 1-191 1-31 1 126 1 96 1 0 1 0 1-96 1-56 1-39 1 39 1 152 1-96 1-95 1 95 1-56 1 152 1-152 1 152 1 0 1 0 1 0 1-191 1 191 1-96 1 0 1 96 1-152 1 152 1 0 1-152 1 152 1-96 1 96 1-152 1 152 1-152 1 152 1 0 1 0 1 0 1-96 1 96 1-96 1 96 1-191 1 0 1 0 1 191 1-191 1 191 1 0 1-96 1-95 1 0 1 39 1 152 1-96 1 0 1 96 1-96 1 96 1-96 1 96 1-191 1 191 1-152 1 152 1-152 1 0 1 0 1 56 1 96 1-191 1 191 1-191 1 191 1-152 1 152 1 0 1 0 1-152 1 0 1 152 1-96 1 0 1 96 1-96 1-56 1-39 1 191 1-96 1-56 1 152 1-152 1 152 1-96 1 96 1-191 1 39 1 56 1 0 1-56 1 0 1 152 1 0 1-152 1 152 1 0 1 0 1-96 1 96 1-96 1 0 1 0 1 0 1-56 1 0 1 152 1-152 1 0 1 0 1 152 1 0 1 0 1 0 1-222 1 222 1-152 1-70 1 222 1 0 1 0 1-152 1 152 1-152 1 56 1 96 1 0 1 0 1 0 1-222 1 222 1-191 1 191 1 0 1 0 1 0 1-96 1 96 1-152 1 56 1 0 1 0 1 96 1 0 1 0 1-96 1-95 1 95 1 0 1 96 1-191 1 95 1-56 1 152 1 0 1-96 1-56 1 0 1 0 1 56 1 96 1-96 1 0 1 96 1 0 1 0 1-96 1 0 1 0 1 96 1 0 1-152 1 56 1-95 1-31 1 222 1-96 1-56 1 56 1 0 1 0 1 96 1-96 1 0 1-56 1-39 1 191 1 0 1-96 1 0 1-151 1 151 1 0 1-56 1 152 1 0 1-96 1-56 1 152 1-191 1-31 1 70 1 0 1-39 1 191 1-96 1 96" stroke="#00C82D"/>
</g></g>
<rect x="1393" y="17" width="255" height="870" fill="#fff" stroke="#000" stroke-width="2"/>
<rect x="1425" y="70" width="111" height="6" fill="#000000"/>
<text transform="translate(1548.8,91.5) scale(1,1.065)" font-size="48.5" font-family="Liberation Sans, Arial, sans-serif" filter="url(#bin)">95%</text>
<rect x="1425" y="130" width="111" height="6" fill="#FF0000"/>
<text transform="translate(1548.8,151.5) scale(1,1.065)" font-size="48.5" font-family="Liberation Sans, Arial, sans-serif" filter="url(#bin)">90%</text>
<rect x="1425" y="191" width="111" height="6" fill="#0000FF"/>
<text transform="translate(1548.8,212.5) scale(1,1.065)" font-size="48.5" font-family="Liberation Sans, Arial, sans-serif" filter="url(#bin)">85%</text>
<rect x="1425" y="251" width="111" height="6" fill="#FF00FF"/>
<text transform="translate(1548.8,272.5) scale(1,1.065)" font-size="48.5" font-family="Liberation Sans, Arial, sans-serif" filter="url(#bin)">80%</text>
<rect x="1425" y="312" width="111" height="6" fill="#008000"/>
<text transform="translate(1548.8,333.5) scale(1,1.065)" font-size="48.5" font-family="Liberation Sans, Arial, sans-serif" filter="url(#bin)">75%</text>
<rect x="1425" y="372" width="111" height="6" fill="#000080"/>
<text transform="translate(1548.8,393.5) scale(1,1.065)" font-size="48.5" font-family="Liberation Sans, Arial, sans-serif" filter="url(#bin)">70%</text>
<rect x="1425" y="433" width="111" height="6" fill="#8A00FF"/>
<text transform="translate(1548.8,454.5) scale(1,1.065)" font-size="48.5" font-family="Liberation Sans, Arial, sans-serif" filter="url(#bin)">65%</text>
<rect x="1425" y="493" width="111" height="6" fill="#8C008C"/>
<text transform="translate(1548.8,514.5) scale(1,1.065)" font-size="48.5" font-family="Liberation Sans, Arial, sans-serif" filter="url(#bin)">60%</text>
<rect x="1425" y="554" width="111" height="6" fill="#960000"/>
<text transform="translate(1548.8,575.5) scale(1,1.065)" font-size="48.5" font-family="Liberation Sans, Arial, sans-serif" filter="url(#bin)">50%</text>
<rect x="1425" y="614" width="111" height="6" fill="#808000"/>
<text transform="translate(1548.8,635.5) scale(1,1.065)" font-size="48.5" font-family="Liberation Sans, Arial, sans-serif" filter="url(#bin)">40%</text>
<rect x="1425" y="675" width="111" height="6" fill="#0057A3"/>
<text transform="translate(1548.8,696.5) scale(1,1.065)" font-size="48.5" font-family="Liberation Sans, Arial, sans-serif" filter="url(#bin)">30%</text>
<rect x="1425" y="735" width="111" height="6" fill="#009393"/>
<text transform="translate(1548.8,756.5) scale(1,1.065)" font-size="48.5" font-family="Liberation Sans, Arial, sans-serif" filter="url(#bin)">20%</text>
<rect x="1425" y="796" width="111" height="6" fill="#B06000"/>
<text transform="translate(1548.8,817.5) scale(1,1.065)" font-size="48.5" font-family="Liberation Sans, Arial, sans-serif" filter="url(#bin)">10%</text>
<rect x="1425" y="856" width="111" height="6" fill="#00C82D"/>
<text transform="translate(1548.8,877.5) scale(1,1.065)" font-size="48.5" font-family="Liberation Sans, Arial, sans-serif" filter="url(#bin)">IRF</text>
</svg></body></html>
